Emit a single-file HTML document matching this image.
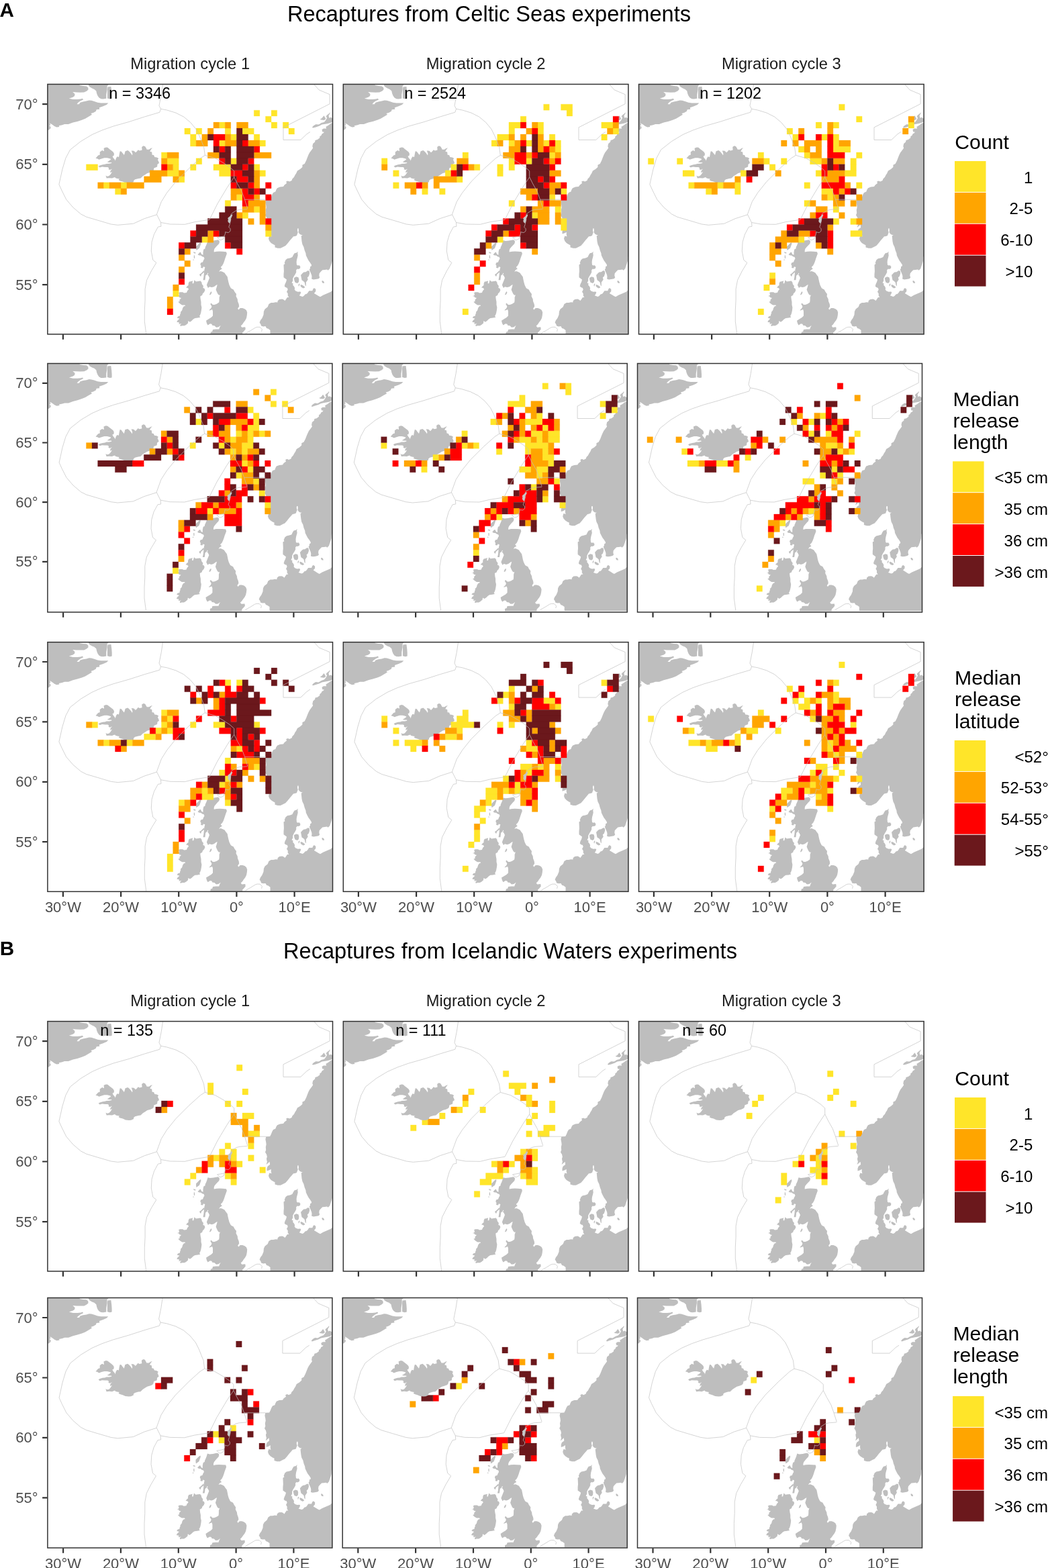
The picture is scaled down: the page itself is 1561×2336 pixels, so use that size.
<!DOCTYPE html>
<html lang="en"><head><meta charset="utf-8"><title>Recaptures from Celtic Seas and Icelandic Waters experiments</title>
<style>html,body{margin:0;padding:0;background:#fff}svg{display:block}text{font-family:"Liberation Sans", Arial, Helvetica, sans-serif}.ax{font-size:22px;fill:#4D4D4D}.st{font-size:23.7px;fill:#1A1A1A}.n{font-size:23.4px;fill:#000}.lt{font-size:30.2px;fill:#000}.ll{font-size:24px;fill:#000}.ti{font-size:32.6px;fill:#000}.tag{font-size:29.6px;font-weight:bold;fill:#000}.tk{stroke:#333;stroke-width:2.2;fill:none}.bd{stroke:#333;stroke-width:1.5;fill:none}.ez{stroke:#C2C2C2;stroke-width:0.7;fill:none}.ld{fill:#BEBEBE}</style></head><body>
<svg xmlns="http://www.w3.org/2000/svg" width="1561" height="2336" viewBox="0 0 1561 2336">
<rect width="1561" height="2336" fill="#fff"/>
<clipPath id="cA11"><rect x="70.9" y="125.5" width="424.6" height="372.4"/></clipPath>
<g clip-path="url(#cA11)">
<path class="ld" d="M70.2,124.1L118.6,124.1L118.6,127L123.7,128.1L128.7,128.5L131.2,130.4L131.6,133.3L129.5,135.4L125.3,137.5L119.5,137.7L113.6,137.5L108.2,137.1L111.5,140.1L111.1,143L108.6,144.7L102.8,146.8L108.6,148.1L115.3,148.1L120.3,147.6L122.8,146.8L124.1,148.5L119.5,150.6L116.1,153.1L114.5,155.2L117.8,155.2L119.5,152.7L123.7,151.4L128.7,150.6L132.8,149.5L136.2,149.7L140.4,151L145.4,152.7L150.4,153.5L157.1,153.5L161.3,153.5L158.8,156L153.7,158.2L147.9,160.3L148.3,162.8L143.7,163.2L142.9,165.7L139.5,167.8L135.4,169.1L137,170.8L132,173.7L127,176.7L122,178.8L115.3,180.9L108.6,182.6L101.9,185.1L96.1,185.1L92.7,186.3L87.7,187.2L88.5,188.9L84.4,189.5L81,188L77.7,185.5L74.3,183.4L75.2,186.3L73.5,187.2L75.6,189.3L75.2,191.4L72.7,193.5L70.2,193.9ZM132,124.1L161.3,124.1L161.3,126.6L159.6,128.3L159.6,133.3L158.3,140.9L158.3,146.8L153.7,147.5L150.4,147.2L147.5,145.5L145.4,142.6L144.1,139.2L143.3,135.4L140.4,132.9L137,131.6L133.7,129.5L132,127.4ZM160.4,129.5L165.4,129.1L166.3,135.9L166.7,141.7L166.7,146.8L163.8,147.5L160,146.4L160,140.9L160,133.3ZM142.5,235.7L146.2,231.5L148.7,230.7L148.7,226.5L152.1,224L155,225.2L154.6,220.7L157.9,219.4L160.4,219.8L162.9,221.9L166.2,224.4L168.7,226.5L170,229L169.5,231.9L167.5,232.7L168.7,235.2L171.2,238.1L171.6,239.8L172.9,235.7L174.5,233.2L177,234L177.9,229L178.7,225.2L180.8,225.7L182.9,228.6L184.9,231.1L185.8,228.2L186.6,225.2L190.4,224L192.9,226.1L195.4,229L197,231.5L197.4,229L195.8,224.4L199.5,224.8L202,227.3L203.7,225.7L205.8,223.2L207.9,224.4L211.6,223.6L211.2,219L213.7,217.3L216.2,218.2L217.9,221.1L218.7,222.7L222,222.7L224.5,221.1L227,220.2L224.9,222.7L223.3,225.7L226.2,226.5L226.6,230.7L229.1,231.1L230.3,234L233.7,234.4L236.2,236.1L234.9,238.1L236.2,240.6L237,243.1L234.5,244.8L234.1,248.5L231.2,249.8L229.5,250.2L228.7,254L227,255.6L223.7,256.9L219.5,258.1L216.2,260.2L212.9,262.3L209.5,265.6L206.2,266L201.2,267.3L199.1,269L199.1,271L195.4,272.7L192,273L187,272.5L182.9,270.6L178.7,269.4L176.6,268.1L177.9,266.5L174.5,266L172,265.2L171.2,264L168.7,264.8L167.1,265.6L162.9,265.2L158.7,265.6L157.5,261.5L159.6,262.7L162.1,262.3L164.1,260.6L165.8,258.1L167.1,256L164.1,257.3L164.6,254.4L167.1,251.5L164.1,253.1L161.6,252.3L162.1,250.2L160.4,249L156.2,249L152.1,248.5L148.7,249.6L146.6,247.7L148.7,246.5L152.9,245.2L156.2,244.8L158.7,244L162.9,243.8L166.2,243.1L166.2,241.9L162.9,241.9L159.6,241.5L162.1,239.8L164.6,238.1L165.4,236.9L162.9,236.1L159.6,235.2L155.4,235.2L151.2,236.5L147.5,237.7L145.4,236.5ZM497.8,182.7L495.7,182.7L492.8,184L488.7,186.9L485.3,189L486.2,191.5L482,191.5L479.5,193.1L480.3,196.5L482.8,196.5L482,198.1L479.5,199.4L478.7,201.5L476.2,203.6L476.2,205.6L472.8,208.1L469.5,209L469.1,211.5L466.2,214L465.3,218.1L466.2,220.6L463.7,224L461.2,227.3L459.5,230.6L457.8,234.8L456.2,238.9L453.7,243.9L450.4,245.7L450.4,249L447,251.9L442.9,254.4L441.2,258.2L439.5,260.7L437.9,264L435.4,266.5L434.5,269L431.2,270.6L428.7,269.4L426.2,270.6L427,273.1L423.7,275.6L422,278.1L417,278.5L412.9,280.2L411.2,283.1L410.4,285.6L407,286.9L405.4,289.8L403.7,294L402.1,296.9L396.2,297.3L395.4,301.5L396.2,305.6L396.6,309L395.8,313.1L396.2,317.3L395,320.6L397.1,323.9L397.9,328.1L397.1,329L397.1,331.5L397.9,334.8L396.6,339L399.6,336.5L401.6,334.8L402.1,339L398.7,341.5L397.5,344.8L397.5,348.6L401.2,347.3L403.7,345.7L403.7,349.8L404.5,352.3L401.2,351.5L400,355.6L401.2,359L403.7,361.9L407,364L409.5,365.2L409.5,368.5L413.7,369.8L417.9,369.8L422,367.7L425.4,366.1L428.7,362.3L432,358.1L434.5,355.2L437,352.3L439.5,351.9L442,351.1L442.9,348.2L443.7,346.5L442.9,343.2L443.3,340.2L444.5,340.2L444.9,343.2L444.5,346.1L446.2,348.6L448.3,349.8L450.8,350.2L448.7,351.5L449.1,355.6L449.5,359.8L450.4,364L452.4,368.1L453.7,373.1L455.4,377.3L455.8,380.6L457.8,384.8L459.5,388.1L462,391.5L464.1,394.8L463.7,396.5L462,397.3L462,399.8L460.8,401.4L461.6,403.9L462.8,406.4L464.1,409.8L464.5,412.3L464.1,415.6L467,416.4L470.3,416L474.5,415.2L476.2,413.5L475.3,410.6L475.7,407.3L477.8,404.8L480.3,402.3L483.7,401.9L487,401.4L488.7,402.7L491.2,400.2L492.4,396.5L493.6,393.1L494.9,389L495.3,382.3L497.8,382.3ZM491.2,167.3L490.3,169L487,171.5L485.7,173.2L487,175.7L485.3,179L482.8,181.9L478.7,183.1L476.2,184.8L474.5,185.6L470.3,185.2L467,187.3L464.9,189.8L466.2,190.6L470.3,189.4L475.3,187.7L479.5,185.6L484.5,184.8L488.7,184L492,183.1L497.8,180.6L497.8,176.5L495.3,176.5L492.8,174.8L490.3,175.7L489.5,172.3L491.6,169ZM476.6,177.7L479.5,176.1L482.4,172.3L484.1,174.8L485.3,177.3L482.8,179L478.7,178.6ZM443.7,374.4L442,376.5L438.7,377.3L437,379.8L435.4,383.1L432,384.4L427.9,385.2L425.4,387.3L423.7,391.5L424.5,393.1L422.5,394.4L422.7,399L422.9,403.9L422.5,408.2L422.5,413.2L427,416.5L426.2,419.8L424.5,423.2L423.7,426.5L425.4,428.1L427.9,429L428.7,431.5L427,434.8L428.7,437.3L428.7,440.6L430.4,443.1L427.9,443.1L426.2,445.6L424.5,448.1L422.5,446.5L420.4,445.6L416.2,446.1L413.7,448.1L413.3,450.6L410.4,450.2L407,451.1L403.7,451.1L400.4,453.1L398.7,457.3L394.6,460.6L392.9,464L392.5,469L390.4,474L387.9,477.3L386.6,480.6L388.3,483.1L389.1,485.6L392.1,486.5L395.4,486L397.1,488.9L399.6,489.8L402.5,491.9L402.5,498.1L497.8,498.1L497.8,432.3L495.7,432.3L492.8,434.8L487,437.3L481.2,439.8L477,442.3L474.5,441.1L471.2,439L467.8,436.9L470.3,434L470.3,430.7L467.8,429L466.2,430.7L465.3,433.2L460.3,433.2L458.7,435.7L457,437.7L454.5,438.6L452.4,441.1L450.4,441.9L445.8,440.2L447.4,438.1L448.3,435.2L447,434.4L443.7,434.8L440.4,433.6L438.7,431.5L439.1,429L437.9,426.5L436.2,424.8L436.6,422.3L434.5,421.5L436.2,418.2L436.2,414.8L437.9,411.5L439.5,409L441.2,405.7L441.2,402.3L442.9,400.6L444.5,401L447,399.8L447.4,397.3L445.8,395.2L443.7,395.6L442,394.8L441.6,390.6L442,387.3L442.9,384L443.7,380.6L443.3,377.3ZM437.9,414L441.2,412.3L444.5,413.2L445.4,416.5L444.9,420.2L442.9,421.9L439.5,420.7L438.3,417.3ZM448.3,409.8L450.4,407.3L452.4,405.6L455.4,405.2L458.7,403.1L460.8,403.9L461.2,407.3L459.9,411.4L457.8,413.5L458.7,416.4L457,418.9L455.8,420.6L455.8,426.5L454.5,424.8L453.7,420.7L452,419L449.5,417.3L448.7,413.2L447.9,409ZM447.9,424L450.4,424.8L453.7,426.9L454.1,428.6L451.6,429.4L448.7,427.7L447.4,425.7ZM444.9,422.7L446.6,422.7L445.4,426.5L444.5,426.1ZM479.5,418.2L481.2,418.2L482.8,420.2L482.8,421.9L480.3,421.5L479.5,419.8ZM309.5,358.1L312.9,359L317.9,358.6L322,357.7L324.5,357.3L326.6,358.6L327,360.7L326.2,363.2L323.7,365.7L321.6,368.1L319.5,370.6L318.7,373.1L318.7,375.6L322.4,374.8L327,374.6L332,374.8L337,375.2L337.9,378.1L336.6,381.5L335.4,384.8L334.1,389L332.9,392.3L331.2,395.6L328.7,398.1L330.8,400.6L327.9,402.3L326.2,404.8L328.7,404L331.2,404.8L334.5,406.4L336.2,408.9L338.7,412.3L339.5,416.4L340.4,420.6L341.6,424.8L343.7,428.9L344.5,429.8L347.8,431.5L349.5,434.8L352,438.1L351.6,441.5L353.7,445.6L354.1,449L355.7,453.1L356.2,456.5L354.1,459.8L355.3,461.5L357.8,459L361.2,459L364.5,460.2L367,462.3L368.2,465.6L367.8,469.8L367,474L365.3,477.3L362.8,480.6L361.2,483.1L358.7,485.6L360.3,487.7L365.3,487.3L365.7,490.6L363.7,493.1L361.2,495.6L361.2,498.5L313.3,498.5L313.7,494.8L316.2,493.9L317,491L321.2,490.6L326.2,490.6L327,488.1L328.7,484.8L325.4,487.3L322,487.7L319.5,485.2L316.2,484.8L315.4,482.7L312.9,482.3L309.5,484.4L307.9,481.5L307,477.7L310.4,475.6L314.5,473.1L317,470.6L317,464L316.2,461.1L311.6,462.7L312,461.5L314.5,459L315.4,456.5L313.3,453.1L314.5,451.5L317,454L319.5,454L322.9,452.7L326.2,450.6L326.6,447.3L326.6,443.1L327.9,439.4L326.2,439.8L324.5,438.1L322.9,434.8L321.6,431.5L322.9,427.3L323.7,424L322,424.8L318.7,427.3L315.4,428.1L312,427.3L309.9,429L307.9,424.8L308.7,422.3L310.4,418.2L312,414L310.4,410.7L308.7,409L310.4,408.1L309.5,406.4L308.3,408.9L306.2,410.6L305.8,414L305.4,417.3L302.5,417.3L303.3,413.1L303.7,408.9L304.1,404.8L304.5,401.5L305.4,398.1L302.9,397.3L302,399.4L299.1,399L299.5,396L298.3,394L299.1,391.5L302,390.6L303.3,387.3L304.5,385.6L303.7,383.1L301.2,382.3L299.1,380.6L297,380.6L294.5,379.4L297,376.5L298.7,375.6L300.4,379L302.5,379.8L302.5,375.6L303.3,371.5L305.4,370.6L305.8,368.1L307,365.7L308.3,362.3ZM297,408.9L299.5,407.3L302,404.8L303.7,403.1L304.1,405.6L302,407.3L300,408.9L299.5,411.4L298.3,411.4ZM292.1,367.3L293.7,365.7L297,362.3L299.1,361.1L299.4,363.2L297.9,367.3L297,369.8L294.5,371.5L292.5,373.1L292.1,370.6ZM287.7,375.6L289.6,375.5L291.6,376.5L291.4,377.5L289.1,377.3ZM288.7,380.6L290,380.6L290.2,384.8L288.9,385ZM287.5,386.5L288.7,386.5L288.7,387.7L287.5,387.7ZM312,439L313.3,435.7L314.9,434L315.4,436.1L314.1,438.6L312.4,439.4ZM289.5,417.3L292,419.4L295.4,419L298.7,418.6L300.4,420.7L300.8,423.2L302.9,426.1L302.4,429L304.5,429.8L305.4,432.3L304.1,435.2L302,437.3L301.2,439.8L298.3,441.5L298.7,445.6L299.5,449.8L299.5,454L300.4,458.1L299.9,462.3L299.1,466.5L297.9,469.8L297,470.6L298.3,472.7L294.5,473.5L290.4,474L287.9,475.6L285.4,478.1L282.9,479.8L280.4,478.1L280,481.5L277.1,484L274.6,485.2L271.2,485.2L268.7,486L268.3,484L270.4,482.3L266.2,482.7L267.1,480.6L263.3,479.8L264.6,477.3L267.5,474.8L263.7,473.5L265,471.5L267.9,470.6L268.3,468.1L269.6,465.6L274.6,464L277.1,464.4L273.7,466L269.6,466.5L268.7,465.2L271.2,462.3L272.1,459L273.7,456.5L276.2,455.6L275.4,454.4L271.2,454.4L267.9,452.3L265.4,449.8L267.5,449L267.5,446.5L270,444L267.1,443.1L266.2,441.5L263.7,441.1L266.2,440.6L267.1,438.1L265.8,436.5L267.9,435.2L272.1,435.2L274.1,436.5L277.9,436.1L279.1,433.2L281.2,430.7L279.6,429L277.1,428.6L278.7,426.5L280.8,424.8L280.4,423.2L281.6,419.8L285.4,419L287,418.2L286.6,422.3L288.3,422.3Z"/><path fill="#FFE529" stroke="#FFE529" stroke-width="0.25" d="M378.25,164.16h8.62v8.96h-8.62zM404.10,164.16h8.62v8.96h-8.62zM395.48,173.13h8.62v8.96h-8.62zM326.55,182.09h8.62v8.96h-8.62zM404.10,182.09h8.62v8.96h-8.62zM421.33,182.09h8.62v8.96h-8.62zM274.86,191.05h8.62v8.96h-8.62zM292.09,191.05h8.62v8.96h-8.62zM335.17,191.05h8.62v8.96h-8.62zM361.02,191.05h17.23v8.96h-17.23zM429.94,191.05h8.62v8.96h-8.62zM283.47,200.02h8.62v8.96h-8.62zM343.78,200.02h8.62v8.96h-8.62zM378.25,200.02h8.62v8.96h-8.62zM283.47,208.98h8.62v8.96h-8.62zM326.55,208.98h8.62v8.96h-8.62zM386.86,208.98h8.62v8.96h-8.62zM240.39,226.91h8.62v8.96h-8.62zM249.01,235.87h17.23v8.96h-17.23zM292.09,235.87h8.62v8.96h-8.62zM343.78,235.87h8.62v8.96h-8.62zM128.38,244.83h17.23v8.96h-17.23zM257.62,244.83h8.62v8.96h-8.62zM283.47,244.83h8.62v8.96h-8.62zM317.94,244.83h25.85v8.96h-25.85zM378.25,244.83h8.62v8.96h-8.62zM249.01,253.80h17.23v8.96h-17.23zM326.55,253.80h17.23v8.96h-17.23zM386.86,253.80h8.62v8.96h-8.62zM266.24,262.76h8.62v8.96h-8.62zM154.23,271.73h8.62v8.96h-8.62zM180.08,271.73h8.62v8.96h-8.62zM171.46,280.69h8.62v8.96h-8.62zM352.40,289.65h8.62v8.96h-8.62zM335.17,298.62h8.62v8.96h-8.62zM378.25,307.58h8.62v8.96h-8.62zM361.02,316.54h8.62v8.96h-8.62zM395.48,343.43h8.62v8.96h-8.62zM300.70,352.40h8.62v8.96h-8.62zM257.62,433.07h8.62v8.96h-8.62z"/><path fill="#FFA500" stroke="#FFA500" stroke-width="0.25" d="M317.94,182.09h8.62v8.96h-8.62zM335.17,182.09h8.62v8.96h-8.62zM352.40,182.09h17.23v8.96h-17.23zM309.32,191.05h8.62v8.96h-8.62zM300.70,200.02h8.62v8.96h-8.62zM335.17,200.02h8.62v8.96h-8.62zM292.09,208.98h17.23v8.96h-17.23zM335.17,208.98h17.23v8.96h-17.23zM369.63,208.98h17.23v8.96h-17.23zM249.01,226.91h17.23v8.96h-17.23zM309.32,226.91h17.23v8.96h-17.23zM378.25,226.91h25.85v8.96h-25.85zM240.39,235.87h8.62v8.96h-8.62zM249.01,244.83h8.62v8.96h-8.62zM223.16,253.80h25.85v8.96h-25.85zM266.24,253.80h8.62v8.96h-8.62zM378.25,253.80h8.62v8.96h-8.62zM214.54,262.76h25.85v8.96h-25.85zM257.62,262.76h8.62v8.96h-8.62zM378.25,262.76h8.62v8.96h-8.62zM145.62,271.73h8.62v8.96h-8.62zM162.85,271.73h17.23v8.96h-17.23zM188.70,271.73h25.85v8.96h-25.85zM378.25,271.73h8.62v8.96h-8.62zM180.08,280.69h8.62v8.96h-8.62zM343.78,280.69h17.23v8.96h-17.23zM343.78,289.65h8.62v8.96h-8.62zM378.25,289.65h8.62v8.96h-8.62zM369.63,298.62h25.85v8.96h-25.85zM361.02,307.58h17.23v8.96h-17.23zM386.86,307.58h8.62v8.96h-8.62zM352.40,316.54h8.62v8.96h-8.62zM386.86,316.54h8.62v8.96h-8.62zM369.63,325.51h8.62v8.96h-8.62zM386.86,325.51h8.62v8.96h-8.62zM395.48,334.47h8.62v8.96h-8.62zM309.32,343.43h8.62v8.96h-8.62zM309.32,352.40h8.62v8.96h-8.62zM274.86,370.32h8.62v8.96h-8.62zM266.24,379.29h8.62v8.96h-8.62zM274.86,388.25h8.62v8.96h-8.62zM266.24,397.21h8.62v8.96h-8.62zM257.62,424.10h8.62v8.96h-8.62zM249.01,442.03h8.62v8.96h-8.62zM249.01,451.00h8.62v8.96h-8.62z"/><path fill="#FF0000" stroke="#FF0000" stroke-width="0.25" d="M317.94,200.02h17.23v8.96h-17.23zM317.94,208.98h8.62v8.96h-8.62zM361.02,208.98h8.62v8.96h-8.62zM326.55,217.94h8.62v8.96h-8.62zM378.25,217.94h8.62v8.96h-8.62zM326.55,235.87h8.62v8.96h-8.62zM369.63,235.87h8.62v8.96h-8.62zM240.39,244.83h8.62v8.96h-8.62zM361.02,244.83h8.62v8.96h-8.62zM343.78,253.80h17.23v8.96h-17.23zM352.40,262.76h17.23v8.96h-17.23zM343.78,271.73h8.62v8.96h-8.62zM369.63,271.73h8.62v8.96h-8.62zM395.48,271.73h8.62v8.96h-8.62zM361.02,280.69h8.62v8.96h-8.62zM378.25,280.69h8.62v8.96h-8.62zM361.02,289.65h17.23v8.96h-17.23zM395.48,289.65h8.62v8.96h-8.62zM361.02,298.62h8.62v8.96h-8.62zM395.48,325.51h8.62v8.96h-8.62zM283.47,343.43h8.62v8.96h-8.62zM317.94,343.43h8.62v8.96h-8.62zM266.24,361.36h8.62v8.96h-8.62zM335.17,361.36h8.62v8.96h-8.62zM352.40,370.32h8.62v8.96h-8.62zM266.24,415.14h8.62v8.96h-8.62zM249.01,459.96h8.62v8.96h-8.62z"/><path fill="#6B181C" stroke="#6B181C" stroke-width="0.25" d="M352.40,191.05h8.62v8.96h-8.62zM309.32,200.02h8.62v8.96h-8.62zM352.40,200.02h17.23v8.96h-17.23zM352.40,208.98h8.62v8.96h-8.62zM317.94,217.94h8.62v8.96h-8.62zM335.17,217.94h8.62v8.96h-8.62zM352.40,217.94h25.85v8.96h-25.85zM326.55,226.91h17.23v8.96h-17.23zM352.40,226.91h25.85v8.96h-25.85zM335.17,235.87h8.62v8.96h-8.62zM352.40,235.87h17.23v8.96h-17.23zM343.78,244.83h17.23v8.96h-17.23zM369.63,244.83h8.62v8.96h-8.62zM361.02,253.80h17.23v8.96h-17.23zM343.78,262.76h8.62v8.96h-8.62zM369.63,262.76h8.62v8.96h-8.62zM352.40,271.73h17.23v8.96h-17.23zM369.63,280.69h8.62v8.96h-8.62zM386.86,280.69h8.62v8.96h-8.62zM335.17,307.58h17.23v8.96h-17.23zM326.55,316.54h25.85v8.96h-25.85zM309.32,325.51h51.70v8.96h-51.70zM292.09,334.47h68.93v8.96h-68.93zM292.09,343.43h17.23v8.96h-17.23zM326.55,343.43h34.46v8.96h-34.46zM283.47,352.40h17.23v8.96h-17.23zM335.17,352.40h25.85v8.96h-25.85zM274.86,361.36h17.23v8.96h-17.23zM343.78,361.36h17.23v8.96h-17.23zM266.24,370.32h8.62v8.96h-8.62zM266.24,406.18h8.62v8.96h-8.62z"/>
<path fill="#C6C8C8" d="M339.2,325L340.8,323.4L342.7,321.9L345,319.4L346.1,319.6L346.1,321.1L345,323.4L344,325.4L343.8,327.7L343.3,330L342.3,332.7L341.2,332.3L339.6,330.4L339.4,328.4L340,326.9Z"/>
<path class="ez" d="M242.8,124L240.3,140.7L237,157.3L239.5,162.3M239.5,162.3L237.8,167.3L215.3,174L192,181.5L168.7,188.1L152,194L137,200.6L120.4,210.6L104.5,223.1L97.9,235.6L92.9,252.2L87.9,274.7L92.1,283.9L98.7,297.2L108.7,308.9L120.4,318.9L128.7,323.2L145.4,328.1L165.3,334L175.3,335.3L198.6,333.2L215.3,325.6L233.6,319.8M239.5,162.3L248.6,164L261.9,168.1L273.6,174L283.6,182.3L291.9,192.3L296.9,202.3L300.3,210.6L303.6,218.9L305.3,231.4M305.3,231.4L298.6,235.6L281.9,250.6L261.9,270.6L248.6,287.2L240.3,300.5L233.6,318.9L233.6,319.8M233.6,319.8L239.5,331.5L239.9,337.3L235.3,338.1L229.5,349L226.1,360.6L225.3,374L227.8,387.3L232.8,391.4L225.3,403.9L218.6,417.3L216.1,430.6L216.1,447.2L215.3,462.2L215.3,478.9L217.8,498M239.5,331.5L253.6,334L275.3,334.3L290.3,330.6L311.9,327.3L312,327.3L323.7,304L328.7,295.5L338.7,278.9L348.7,263.9M305.4,231.4L320.4,235.6L332,242.2L342,248.9L348.7,254.7L348.7,263.9M348.7,263.9L353.7,273.9L360.3,285.6L364.5,297.2L368.6,310.5M364.5,297.2L396.1,297.2M466.1,124L475.2,134L491.1,140.7L491.1,154.8L422,189.8L422,208.4L447.8,208.4L456.9,199.8L461.9,196.5M365.3,497.7L367,496L373.6,492.3L380.4,488.1L382.9,487.3L387.1,487.3L390.4,490.6L389.6,493.9M368.8,311.1L367.7,311.5L356.9,312.3L351.9,313.6L345.4,317.7L343.8,320L343.1,323.1L343.8,326.9L342.3,333.8L340.8,338.4L343.1,340.7L343.1,344.2L340.4,346.5L336.9,346.1L335.8,345.4L335.4,348.4L334.2,351.5L333.5,355.3L330.8,356.9L328.1,357.7L325,355.3L323.5,353.8L328.1,353L333.8,351.9"/>
</g>
<rect class="bd" x="70.9" y="125.5" width="424.6" height="372.4"/>
<path class="tk" d="M93.9,498.3v7.4M180.1,498.3v7.4M266.2,498.3v7.4M352.4,498.3v7.4M438.6,498.3v7.4M70.5,155.2h-7.4M70.5,244.8h-7.4M70.5,334.5h-7.4M70.5,424.1h-7.4"/>
<text class="ax" x="56.5" y="162.7" text-anchor="end">70°</text>
<text class="ax" x="56.5" y="252.3" text-anchor="end">65°</text>
<text class="ax" x="56.5" y="342" text-anchor="end">60°</text>
<text class="ax" x="56.5" y="431.6" text-anchor="end">55°</text>
<text class="st" x="283.2" y="103.2" text-anchor="middle">Migration cycle 1</text>
<text class="n" x="162.3" y="146.7">n = 3346</text>
<clipPath id="cA12"><rect x="511.3" y="125.5" width="424.6" height="372.4"/></clipPath>
<g clip-path="url(#cA12)">
<path class="ld" d="M510.2,124.1L558.6,124.1L558.6,127L563.7,128.1L568.7,128.5L571.2,130.4L571.6,133.3L569.5,135.4L565.3,137.5L559.5,137.7L553.6,137.5L548.2,137.1L551.5,140.1L551.1,143L548.6,144.7L542.8,146.8L548.6,148.1L555.3,148.1L560.3,147.6L562.8,146.8L564.1,148.5L559.5,150.6L556.1,153.1L554.5,155.2L557.8,155.2L559.5,152.7L563.7,151.4L568.7,150.6L572.8,149.5L576.2,149.7L580.4,151L585.4,152.7L590.4,153.5L597.1,153.5L601.3,153.5L598.8,156L593.7,158.2L587.9,160.3L588.3,162.8L583.7,163.2L582.9,165.7L579.5,167.8L575.4,169.1L577,170.8L572,173.7L567,176.7L562,178.8L555.3,180.9L548.6,182.6L541.9,185.1L536.1,185.1L532.7,186.3L527.7,187.2L528.5,188.9L524.4,189.5L521,188L517.7,185.5L514.3,183.4L515.2,186.3L513.5,187.2L515.6,189.3L515.2,191.4L512.7,193.5L510.2,193.9ZM572,124.1L601.3,124.1L601.3,126.6L599.6,128.3L599.6,133.3L598.3,140.9L598.3,146.8L593.7,147.5L590.4,147.2L587.5,145.5L585.4,142.6L584.1,139.2L583.3,135.4L580.4,132.9L577,131.6L573.7,129.5L572,127.4ZM600.4,129.5L605.4,129.1L606.3,135.9L606.7,141.7L606.7,146.8L603.8,147.5L600,146.4L600,140.9L600,133.3ZM582.5,235.7L586.2,231.5L588.7,230.7L588.7,226.5L592.1,224L595,225.2L594.6,220.7L597.9,219.4L600.4,219.8L602.9,221.9L606.2,224.4L608.7,226.5L610,229L609.5,231.9L607.5,232.7L608.7,235.2L611.2,238.1L611.6,239.8L612.9,235.7L614.5,233.2L617,234L617.9,229L618.7,225.2L620.8,225.7L622.9,228.6L624.9,231.1L625.8,228.2L626.6,225.2L630.4,224L632.9,226.1L635.4,229L637,231.5L637.4,229L635.8,224.4L639.5,224.8L642,227.3L643.7,225.7L645.8,223.2L647.9,224.4L651.6,223.6L651.2,219L653.7,217.3L656.2,218.2L657.9,221.1L658.7,222.7L662,222.7L664.5,221.1L667,220.2L664.9,222.7L663.3,225.7L666.2,226.5L666.6,230.7L669.1,231.1L670.3,234L673.7,234.4L676.2,236.1L674.9,238.1L676.2,240.6L677,243.1L674.5,244.8L674.1,248.5L671.2,249.8L669.5,250.2L668.7,254L667,255.6L663.7,256.9L659.5,258.1L656.2,260.2L652.9,262.3L649.5,265.6L646.2,266L641.2,267.3L639.1,269L639.1,271L635.4,272.7L632,273L627,272.5L622.9,270.6L618.7,269.4L616.6,268.1L617.9,266.5L614.5,266L612,265.2L611.2,264L608.7,264.8L607.1,265.6L602.9,265.2L598.7,265.6L597.5,261.5L599.6,262.7L602.1,262.3L604.1,260.6L605.8,258.1L607.1,256L604.1,257.3L604.6,254.4L607.1,251.5L604.1,253.1L601.6,252.3L602.1,250.2L600.4,249L596.2,249L592.1,248.5L588.7,249.6L586.6,247.7L588.7,246.5L592.9,245.2L596.2,244.8L598.7,244L602.9,243.8L606.2,243.1L606.2,241.9L602.9,241.9L599.6,241.5L602.1,239.8L604.6,238.1L605.4,236.9L602.9,236.1L599.6,235.2L595.4,235.2L591.2,236.5L587.5,237.7L585.4,236.5ZM937.8,182.7L935.7,182.7L932.8,184L928.7,186.9L925.3,189L926.2,191.5L922,191.5L919.5,193.1L920.3,196.5L922.8,196.5L922,198.1L919.5,199.4L918.7,201.5L916.2,203.6L916.2,205.6L912.8,208.1L909.5,209L909.1,211.5L906.2,214L905.3,218.1L906.2,220.6L903.7,224L901.2,227.3L899.5,230.6L897.8,234.8L896.2,238.9L893.7,243.9L890.4,245.7L890.4,249L887,251.9L882.9,254.4L881.2,258.2L879.5,260.7L877.9,264L875.4,266.5L874.5,269L871.2,270.6L868.7,269.4L866.2,270.6L867,273.1L863.7,275.6L862,278.1L857,278.5L852.9,280.2L851.2,283.1L850.4,285.6L847,286.9L845.4,289.8L843.7,294L842.1,296.9L836.2,297.3L835.4,301.5L836.2,305.6L836.6,309L835.8,313.1L836.2,317.3L835,320.6L837.1,323.9L837.9,328.1L837.1,329L837.1,331.5L837.9,334.8L836.6,339L839.6,336.5L841.6,334.8L842.1,339L838.7,341.5L837.5,344.8L837.5,348.6L841.2,347.3L843.7,345.7L843.7,349.8L844.5,352.3L841.2,351.5L840,355.6L841.2,359L843.7,361.9L847,364L849.5,365.2L849.5,368.5L853.7,369.8L857.9,369.8L862,367.7L865.4,366.1L868.7,362.3L872,358.1L874.5,355.2L877,352.3L879.5,351.9L882,351.1L882.9,348.2L883.7,346.5L882.9,343.2L883.3,340.2L884.5,340.2L884.9,343.2L884.5,346.1L886.2,348.6L888.3,349.8L890.8,350.2L888.7,351.5L889.1,355.6L889.5,359.8L890.4,364L892.4,368.1L893.7,373.1L895.4,377.3L895.8,380.6L897.8,384.8L899.5,388.1L902,391.5L904.1,394.8L903.7,396.5L902,397.3L902,399.8L900.8,401.4L901.6,403.9L902.8,406.4L904.1,409.8L904.5,412.3L904.1,415.6L907,416.4L910.3,416L914.5,415.2L916.2,413.5L915.3,410.6L915.7,407.3L917.8,404.8L920.3,402.3L923.7,401.9L927,401.4L928.7,402.7L931.2,400.2L932.4,396.5L933.6,393.1L934.9,389L935.3,382.3L937.8,382.3ZM931.2,167.3L930.3,169L927,171.5L925.7,173.2L927,175.7L925.3,179L922.8,181.9L918.7,183.1L916.2,184.8L914.5,185.6L910.3,185.2L907,187.3L904.9,189.8L906.2,190.6L910.3,189.4L915.3,187.7L919.5,185.6L924.5,184.8L928.7,184L932,183.1L937.8,180.6L937.8,176.5L935.3,176.5L932.8,174.8L930.3,175.7L929.5,172.3L931.6,169ZM916.6,177.7L919.5,176.1L922.4,172.3L924.1,174.8L925.3,177.3L922.8,179L918.7,178.6ZM883.7,374.4L882,376.5L878.7,377.3L877,379.8L875.4,383.1L872,384.4L867.9,385.2L865.4,387.3L863.7,391.5L864.5,393.1L862.5,394.4L862.7,399L862.9,403.9L862.5,408.2L862.5,413.2L867,416.5L866.2,419.8L864.5,423.2L863.7,426.5L865.4,428.1L867.9,429L868.7,431.5L867,434.8L868.7,437.3L868.7,440.6L870.4,443.1L867.9,443.1L866.2,445.6L864.5,448.1L862.5,446.5L860.4,445.6L856.2,446.1L853.7,448.1L853.3,450.6L850.4,450.2L847,451.1L843.7,451.1L840.4,453.1L838.7,457.3L834.6,460.6L832.9,464L832.5,469L830.4,474L827.9,477.3L826.6,480.6L828.3,483.1L829.1,485.6L832.1,486.5L835.4,486L837.1,488.9L839.6,489.8L842.5,491.9L842.5,498.1L937.8,498.1L937.8,432.3L935.7,432.3L932.8,434.8L927,437.3L921.2,439.8L917,442.3L914.5,441.1L911.2,439L907.8,436.9L910.3,434L910.3,430.7L907.8,429L906.2,430.7L905.3,433.2L900.3,433.2L898.7,435.7L897,437.7L894.5,438.6L892.4,441.1L890.4,441.9L885.8,440.2L887.4,438.1L888.3,435.2L887,434.4L883.7,434.8L880.4,433.6L878.7,431.5L879.1,429L877.9,426.5L876.2,424.8L876.6,422.3L874.5,421.5L876.2,418.2L876.2,414.8L877.9,411.5L879.5,409L881.2,405.7L881.2,402.3L882.9,400.6L884.5,401L887,399.8L887.4,397.3L885.8,395.2L883.7,395.6L882,394.8L881.6,390.6L882,387.3L882.9,384L883.7,380.6L883.3,377.3ZM877.9,414L881.2,412.3L884.5,413.2L885.4,416.5L884.9,420.2L882.9,421.9L879.5,420.7L878.3,417.3ZM888.3,409.8L890.4,407.3L892.4,405.6L895.4,405.2L898.7,403.1L900.8,403.9L901.2,407.3L899.9,411.4L897.8,413.5L898.7,416.4L897,418.9L895.8,420.6L895.8,426.5L894.5,424.8L893.7,420.7L892,419L889.5,417.3L888.7,413.2L887.9,409ZM887.9,424L890.4,424.8L893.7,426.9L894.1,428.6L891.6,429.4L888.7,427.7L887.4,425.7ZM884.9,422.7L886.6,422.7L885.4,426.5L884.5,426.1ZM919.5,418.2L921.2,418.2L922.8,420.2L922.8,421.9L920.3,421.5L919.5,419.8ZM749.5,358.1L752.9,359L757.9,358.6L762,357.7L764.5,357.3L766.6,358.6L767,360.7L766.2,363.2L763.7,365.7L761.6,368.1L759.5,370.6L758.7,373.1L758.7,375.6L762.4,374.8L767,374.6L772,374.8L777,375.2L777.9,378.1L776.6,381.5L775.4,384.8L774.1,389L772.9,392.3L771.2,395.6L768.7,398.1L770.8,400.6L767.9,402.3L766.2,404.8L768.7,404L771.2,404.8L774.5,406.4L776.2,408.9L778.7,412.3L779.5,416.4L780.4,420.6L781.6,424.8L783.7,428.9L784.5,429.8L787.8,431.5L789.5,434.8L792,438.1L791.6,441.5L793.7,445.6L794.1,449L795.7,453.1L796.2,456.5L794.1,459.8L795.3,461.5L797.8,459L801.2,459L804.5,460.2L807,462.3L808.2,465.6L807.8,469.8L807,474L805.3,477.3L802.8,480.6L801.2,483.1L798.7,485.6L800.3,487.7L805.3,487.3L805.7,490.6L803.7,493.1L801.2,495.6L801.2,498.5L753.3,498.5L753.7,494.8L756.2,493.9L757,491L761.2,490.6L766.2,490.6L767,488.1L768.7,484.8L765.4,487.3L762,487.7L759.5,485.2L756.2,484.8L755.4,482.7L752.9,482.3L749.5,484.4L747.9,481.5L747,477.7L750.4,475.6L754.5,473.1L757,470.6L757,464L756.2,461.1L751.6,462.7L752,461.5L754.5,459L755.4,456.5L753.3,453.1L754.5,451.5L757,454L759.5,454L762.9,452.7L766.2,450.6L766.6,447.3L766.6,443.1L767.9,439.4L766.2,439.8L764.5,438.1L762.9,434.8L761.6,431.5L762.9,427.3L763.7,424L762,424.8L758.7,427.3L755.4,428.1L752,427.3L749.9,429L747.9,424.8L748.7,422.3L750.4,418.2L752,414L750.4,410.7L748.7,409L750.4,408.1L749.5,406.4L748.3,408.9L746.2,410.6L745.8,414L745.4,417.3L742.5,417.3L743.3,413.1L743.7,408.9L744.1,404.8L744.5,401.5L745.4,398.1L742.9,397.3L742,399.4L739.1,399L739.5,396L738.3,394L739.1,391.5L742,390.6L743.3,387.3L744.5,385.6L743.7,383.1L741.2,382.3L739.1,380.6L737,380.6L734.5,379.4L737,376.5L738.7,375.6L740.4,379L742.5,379.8L742.5,375.6L743.3,371.5L745.4,370.6L745.8,368.1L747,365.7L748.3,362.3ZM737,408.9L739.5,407.3L742,404.8L743.7,403.1L744.1,405.6L742,407.3L740,408.9L739.5,411.4L738.3,411.4ZM732.1,367.3L733.7,365.7L737,362.3L739.1,361.1L739.4,363.2L737.9,367.3L737,369.8L734.5,371.5L732.5,373.1L732.1,370.6ZM727.7,375.6L729.6,375.5L731.6,376.5L731.4,377.5L729.1,377.3ZM728.7,380.6L730,380.6L730.2,384.8L728.9,385ZM727.5,386.5L728.7,386.5L728.7,387.7L727.5,387.7ZM752,439L753.3,435.7L754.9,434L755.4,436.1L754.1,438.6L752.4,439.4ZM729.5,417.3L732,419.4L735.4,419L738.7,418.6L740.4,420.7L740.8,423.2L742.9,426.1L742.4,429L744.5,429.8L745.4,432.3L744.1,435.2L742,437.3L741.2,439.8L738.3,441.5L738.7,445.6L739.5,449.8L739.5,454L740.4,458.1L739.9,462.3L739.1,466.5L737.9,469.8L737,470.6L738.3,472.7L734.5,473.5L730.4,474L727.9,475.6L725.4,478.1L722.9,479.8L720.4,478.1L720,481.5L717.1,484L714.6,485.2L711.2,485.2L708.7,486L708.3,484L710.4,482.3L706.2,482.7L707.1,480.6L703.3,479.8L704.6,477.3L707.5,474.8L703.7,473.5L705,471.5L707.9,470.6L708.3,468.1L709.6,465.6L714.6,464L717.1,464.4L713.7,466L709.6,466.5L708.7,465.2L711.2,462.3L712.1,459L713.7,456.5L716.2,455.6L715.4,454.4L711.2,454.4L707.9,452.3L705.4,449.8L707.5,449L707.5,446.5L710,444L707.1,443.1L706.2,441.5L703.7,441.1L706.2,440.6L707.1,438.1L705.8,436.5L707.9,435.2L712.1,435.2L714.1,436.5L717.9,436.1L719.1,433.2L721.2,430.7L719.6,429L717.1,428.6L718.7,426.5L720.8,424.8L720.4,423.2L721.6,419.8L725.4,419L727,418.2L726.6,422.3L728.3,422.3Z"/><path fill="#FFE529" stroke="#FFE529" stroke-width="0.25" d="M809.63,155.20h8.62v8.96h-8.62zM835.48,155.20h17.23v8.96h-17.23zM844.10,164.16h8.62v8.96h-8.62zM775.17,173.13h8.62v8.96h-8.62zM757.94,182.09h17.23v8.96h-17.23zM801.02,182.09h8.62v8.96h-8.62zM895.79,182.09h17.23v8.96h-17.23zM757.94,191.05h8.62v8.96h-8.62zM801.02,191.05h8.62v8.96h-8.62zM913.02,191.05h8.62v8.96h-8.62zM740.70,200.02h17.23v8.96h-17.23zM818.25,200.02h8.62v8.96h-8.62zM895.79,200.02h8.62v8.96h-8.62zM732.09,208.98h8.62v8.96h-8.62zM757.94,208.98h8.62v8.96h-8.62zM783.78,208.98h8.62v8.96h-8.62zM809.63,208.98h8.62v8.96h-8.62zM826.86,208.98h8.62v8.96h-8.62zM826.86,217.94h8.62v8.96h-8.62zM689.01,226.91h8.62v8.96h-8.62zM818.25,226.91h8.62v8.96h-8.62zM568.38,235.87h8.62v8.96h-8.62zM757.94,235.87h8.62v8.96h-8.62zM783.78,235.87h8.62v8.96h-8.62zM671.78,244.83h8.62v8.96h-8.62zM706.24,244.83h8.62v8.96h-8.62zM740.70,244.83h8.62v8.96h-8.62zM757.94,244.83h8.62v8.96h-8.62zM585.62,253.80h8.62v8.96h-8.62zM663.16,253.80h8.62v8.96h-8.62zM740.70,253.80h8.62v8.96h-8.62zM680.39,262.76h8.62v8.96h-8.62zM585.62,271.73h8.62v8.96h-8.62zM628.70,280.69h8.62v8.96h-8.62zM654.54,280.69h8.62v8.96h-8.62zM835.48,280.69h8.62v8.96h-8.62zM818.25,289.65h8.62v8.96h-8.62zM757.94,298.62h8.62v8.96h-8.62zM826.86,307.58h8.62v8.96h-8.62zM792.40,316.54h8.62v8.96h-8.62zM835.48,325.51h8.62v8.96h-8.62zM835.48,334.47h8.62v8.96h-8.62zM740.70,352.40h8.62v8.96h-8.62zM689.01,459.96h8.62v8.96h-8.62z"/><path fill="#FFA500" stroke="#FFA500" stroke-width="0.25" d="M792.40,182.09h8.62v8.96h-8.62zM913.02,182.09h8.62v8.96h-8.62zM783.78,191.05h8.62v8.96h-8.62zM904.41,191.05h8.62v8.96h-8.62zM757.94,200.02h8.62v8.96h-8.62zM775.17,200.02h8.62v8.96h-8.62zM801.02,200.02h8.62v8.96h-8.62zM740.70,208.98h8.62v8.96h-8.62zM766.55,208.98h8.62v8.96h-8.62zM801.02,208.98h8.62v8.96h-8.62zM757.94,217.94h17.23v8.96h-17.23zM801.02,217.94h8.62v8.96h-8.62zM818.25,217.94h8.62v8.96h-8.62zM749.32,226.91h17.23v8.96h-17.23zM783.78,226.91h8.62v8.96h-8.62zM826.86,226.91h8.62v8.96h-8.62zM680.39,235.87h17.23v8.96h-17.23zM818.25,235.87h8.62v8.96h-8.62zM568.38,244.83h8.62v8.96h-8.62zM697.62,244.83h8.62v8.96h-8.62zM818.25,253.80h17.23v8.96h-17.23zM645.93,262.76h34.46v8.96h-34.46zM602.85,271.73h17.23v8.96h-17.23zM628.70,271.73h8.62v8.96h-8.62zM645.93,271.73h8.62v8.96h-8.62zM818.25,271.73h17.23v8.96h-17.23zM611.46,280.69h8.62v8.96h-8.62zM775.17,280.69h25.85v8.96h-25.85zM818.25,280.69h8.62v8.96h-8.62zM783.78,289.65h8.62v8.96h-8.62zM801.02,298.62h8.62v8.96h-8.62zM818.25,298.62h17.23v8.96h-17.23zM775.17,307.58h8.62v8.96h-8.62zM792.40,307.58h25.85v8.96h-25.85zM801.02,316.54h17.23v8.96h-17.23zM826.86,316.54h8.62v8.96h-8.62zM801.02,325.51h17.23v8.96h-17.23zM826.86,325.51h8.62v8.96h-8.62zM749.32,343.43h8.62v8.96h-8.62zM723.47,361.36h8.62v8.96h-8.62zM792.40,370.32h8.62v8.96h-8.62zM706.24,379.29h8.62v8.96h-8.62zM706.24,406.18h8.62v8.96h-8.62zM706.24,415.14h8.62v8.96h-8.62z"/><path fill="#FF0000" stroke="#FF0000" stroke-width="0.25" d="M913.02,173.13h8.62v8.96h-8.62zM775.17,182.09h8.62v8.96h-8.62zM792.40,191.05h8.62v8.96h-8.62zM775.17,208.98h8.62v8.96h-8.62zM818.25,208.98h8.62v8.96h-8.62zM809.63,217.94h8.62v8.96h-8.62zM766.55,226.91h17.23v8.96h-17.23zM792.40,226.91h8.62v8.96h-8.62zM766.55,235.87h17.23v8.96h-17.23zM809.63,235.87h8.62v8.96h-8.62zM826.86,235.87h8.62v8.96h-8.62zM689.01,244.83h8.62v8.96h-8.62zM818.25,244.83h8.62v8.96h-8.62zM671.78,253.80h8.62v8.96h-8.62zM801.02,262.76h8.62v8.96h-8.62zM818.25,262.76h8.62v8.96h-8.62zM620.08,271.73h8.62v8.96h-8.62zM809.63,271.73h8.62v8.96h-8.62zM835.48,271.73h8.62v8.96h-8.62zM792.40,289.65h8.62v8.96h-8.62zM835.48,289.65h8.62v8.96h-8.62zM809.63,298.62h8.62v8.96h-8.62zM775.17,316.54h8.62v8.96h-8.62zM749.32,325.51h8.62v8.96h-8.62zM732.09,334.47h8.62v8.96h-8.62zM766.55,334.47h8.62v8.96h-8.62zM792.40,334.47h8.62v8.96h-8.62zM723.47,343.43h8.62v8.96h-8.62zM757.94,343.43h17.23v8.96h-17.23zM775.17,361.36h8.62v8.96h-8.62zM714.86,388.25h8.62v8.96h-8.62zM706.24,397.21h8.62v8.96h-8.62zM697.62,424.10h8.62v8.96h-8.62z"/><path fill="#6B181C" stroke="#6B181C" stroke-width="0.25" d="M792.40,200.02h8.62v8.96h-8.62zM792.40,208.98h8.62v8.96h-8.62zM775.17,217.94h8.62v8.96h-8.62zM792.40,217.94h8.62v8.96h-8.62zM801.02,226.91h17.23v8.96h-17.23zM792.40,235.87h17.23v8.96h-17.23zM680.39,244.83h8.62v8.96h-8.62zM783.78,244.83h34.46v8.96h-34.46zM680.39,253.80h8.62v8.96h-8.62zM783.78,253.80h34.46v8.96h-34.46zM783.78,262.76h17.23v8.96h-17.23zM809.63,262.76h8.62v8.96h-8.62zM783.78,271.73h25.85v8.96h-25.85zM801.02,280.69h17.23v8.96h-17.23zM826.86,280.69h8.62v8.96h-8.62zM801.02,289.65h17.23v8.96h-17.23zM783.78,307.58h8.62v8.96h-8.62zM766.55,316.54h8.62v8.96h-8.62zM783.78,316.54h8.62v8.96h-8.62zM757.94,325.51h43.08v8.96h-43.08zM740.70,334.47h25.85v8.96h-25.85zM775.17,334.47h17.23v8.96h-17.23zM732.09,343.43h17.23v8.96h-17.23zM775.17,343.43h25.85v8.96h-25.85zM723.47,352.40h17.23v8.96h-17.23zM775.17,352.40h25.85v8.96h-25.85zM714.86,361.36h8.62v8.96h-8.62zM783.78,361.36h17.23v8.96h-17.23zM706.24,370.32h17.23v8.96h-17.23z"/>
<path fill="#C6C8C8" d="M779.2,325L780.8,323.4L782.7,321.9L785,319.4L786.1,319.6L786.1,321.1L785,323.4L784,325.4L783.8,327.7L783.3,330L782.3,332.7L781.2,332.3L779.6,330.4L779.4,328.4L780,326.9Z"/>
<path class="ez" d="M682.8,124L680.3,140.7L677,157.3L679.5,162.3M679.5,162.3L677.8,167.3L655.3,174L632,181.5L608.7,188.1L592,194L577,200.6L560.4,210.6L544.5,223.1L537.9,235.6L532.9,252.2L527.9,274.7L532.1,283.9L538.7,297.2L548.7,308.9L560.4,318.9L568.7,323.2L585.4,328.1L605.3,334L615.3,335.3L638.6,333.2L655.3,325.6L673.6,319.8M679.5,162.3L688.6,164L701.9,168.1L713.6,174L723.6,182.3L731.9,192.3L736.9,202.3L740.3,210.6L743.6,218.9L745.3,231.4M745.3,231.4L738.6,235.6L721.9,250.6L701.9,270.6L688.6,287.2L680.3,300.5L673.6,318.9L673.6,319.8M673.6,319.8L679.5,331.5L679.9,337.3L675.3,338.1L669.5,349L666.1,360.6L665.3,374L667.8,387.3L672.8,391.4L665.3,403.9L658.6,417.3L656.1,430.6L656.1,447.2L655.3,462.2L655.3,478.9L657.8,498M679.5,331.5L693.6,334L715.3,334.3L730.3,330.6L751.9,327.3L752,327.3L763.7,304L768.7,295.5L778.7,278.9L788.7,263.9M745.4,231.4L760.4,235.6L772,242.2L782,248.9L788.7,254.7L788.7,263.9M788.7,263.9L793.7,273.9L800.3,285.6L804.5,297.2L808.6,310.5M804.5,297.2L836.1,297.2M906.1,124L915.2,134L931.1,140.7L931.1,154.8L862,189.8L862,208.4L887.8,208.4L896.9,199.8L901.9,196.5M805.3,497.7L807,496L813.6,492.3L820.4,488.1L822.9,487.3L827.1,487.3L830.4,490.6L829.6,493.9M808.8,311.1L807.7,311.5L796.9,312.3L791.9,313.6L785.4,317.7L783.8,320L783.1,323.1L783.8,326.9L782.3,333.8L780.8,338.4L783.1,340.7L783.1,344.2L780.4,346.5L776.9,346.1L775.8,345.4L775.4,348.4L774.2,351.5L773.5,355.3L770.8,356.9L768.1,357.7L765,355.3L763.5,353.8L768.1,353L773.8,351.9"/>
</g>
<rect class="bd" x="511.3" y="125.5" width="424.6" height="372.4"/>
<path class="tk" d="M533.9,498.3v7.4M620.1,498.3v7.4M706.2,498.3v7.4M792.4,498.3v7.4M878.6,498.3v7.4"/>
<text class="st" x="723.6" y="103.2" text-anchor="middle">Migration cycle 2</text>
<text class="n" x="602.3" y="146.7">n = 2524</text>
<clipPath id="cA13"><rect x="951.5" y="125.5" width="424.6" height="372.4"/></clipPath>
<g clip-path="url(#cA13)">
<path class="ld" d="M950.2,124.1L998.6,124.1L998.6,127L1003.7,128.1L1008.7,128.5L1011.2,130.4L1011.6,133.3L1009.5,135.4L1005.3,137.5L999.5,137.7L993.6,137.5L988.2,137.1L991.5,140.1L991.1,143L988.6,144.7L982.8,146.8L988.6,148.1L995.3,148.1L1000.3,147.6L1002.8,146.8L1004.1,148.5L999.5,150.6L996.1,153.1L994.5,155.2L997.8,155.2L999.5,152.7L1003.7,151.4L1008.7,150.6L1012.8,149.5L1016.2,149.7L1020.4,151L1025.4,152.7L1030.4,153.5L1037.1,153.5L1041.3,153.5L1038.8,156L1033.7,158.2L1027.9,160.3L1028.3,162.8L1023.7,163.2L1022.9,165.7L1019.5,167.8L1015.4,169.1L1017,170.8L1012,173.7L1007,176.7L1002,178.8L995.3,180.9L988.6,182.6L981.9,185.1L976.1,185.1L972.7,186.3L967.7,187.2L968.5,188.9L964.4,189.5L961,188L957.7,185.5L954.3,183.4L955.2,186.3L953.5,187.2L955.6,189.3L955.2,191.4L952.7,193.5L950.2,193.9ZM1012,124.1L1041.3,124.1L1041.3,126.6L1039.6,128.3L1039.6,133.3L1038.3,140.9L1038.3,146.8L1033.7,147.5L1030.4,147.2L1027.5,145.5L1025.4,142.6L1024.1,139.2L1023.3,135.4L1020.4,132.9L1017,131.6L1013.7,129.5L1012,127.4ZM1040.4,129.5L1045.4,129.1L1046.3,135.9L1046.7,141.7L1046.7,146.8L1043.8,147.5L1040,146.4L1040,140.9L1040,133.3ZM1022.5,235.7L1026.2,231.5L1028.7,230.7L1028.7,226.5L1032.1,224L1035,225.2L1034.6,220.7L1037.9,219.4L1040.4,219.8L1042.9,221.9L1046.2,224.4L1048.7,226.5L1050,229L1049.5,231.9L1047.5,232.7L1048.7,235.2L1051.2,238.1L1051.6,239.8L1052.9,235.7L1054.5,233.2L1057,234L1057.9,229L1058.7,225.2L1060.8,225.7L1062.9,228.6L1065,231.1L1065.8,228.2L1066.6,225.2L1070.4,224L1072.9,226.1L1075.4,229L1077,231.5L1077.4,229L1075.8,224.4L1079.5,224.8L1082,227.3L1083.7,225.7L1085.8,223.2L1087.9,224.4L1091.6,223.6L1091.2,219L1093.7,217.3L1096.2,218.2L1097.9,221.1L1098.7,222.7L1102,222.7L1104.5,221.1L1107,220.2L1104.9,222.7L1103.3,225.7L1106.2,226.5L1106.6,230.7L1109.1,231.1L1110.3,234L1113.7,234.4L1116.2,236.1L1114.9,238.1L1116.2,240.6L1117,243.1L1114.5,244.8L1114.1,248.5L1111.2,249.8L1109.5,250.2L1108.7,254L1107,255.6L1103.7,256.9L1099.5,258.1L1096.2,260.2L1092.9,262.3L1089.5,265.6L1086.2,266L1081.2,267.3L1079.1,269L1079.1,271L1075.4,272.7L1072,273L1067,272.5L1062.9,270.6L1058.7,269.4L1056.6,268.1L1057.9,266.5L1054.5,266L1052,265.2L1051.2,264L1048.7,264.8L1047.1,265.6L1042.9,265.2L1038.7,265.6L1037.5,261.5L1039.6,262.7L1042.1,262.3L1044.1,260.6L1045.8,258.1L1047.1,256L1044.1,257.3L1044.6,254.4L1047.1,251.5L1044.1,253.1L1041.6,252.3L1042.1,250.2L1040.4,249L1036.2,249L1032.1,248.5L1028.7,249.6L1026.6,247.7L1028.7,246.5L1032.9,245.2L1036.2,244.8L1038.7,244L1042.9,243.8L1046.2,243.1L1046.2,241.9L1042.9,241.9L1039.6,241.5L1042.1,239.8L1044.6,238.1L1045.4,236.9L1042.9,236.1L1039.6,235.2L1035.4,235.2L1031.2,236.5L1027.5,237.7L1025.4,236.5ZM1377.8,182.7L1375.7,182.7L1372.8,184L1368.7,186.9L1365.3,189L1366.2,191.5L1362,191.5L1359.5,193.1L1360.3,196.5L1362.8,196.5L1362,198.1L1359.5,199.4L1358.7,201.5L1356.2,203.6L1356.2,205.6L1352.8,208.1L1349.5,209L1349.1,211.5L1346.2,214L1345.3,218.1L1346.2,220.6L1343.7,224L1341.2,227.3L1339.5,230.6L1337.8,234.8L1336.2,238.9L1333.7,243.9L1330.4,245.7L1330.4,249L1327,251.9L1322.9,254.4L1321.2,258.2L1319.5,260.7L1317.9,264L1315.4,266.5L1314.5,269L1311.2,270.6L1308.7,269.4L1306.2,270.6L1307,273.1L1303.7,275.6L1302,278.1L1297,278.5L1292.9,280.2L1291.2,283.1L1290.4,285.6L1287,286.9L1285.4,289.8L1283.7,294L1282.1,296.9L1276.2,297.3L1275.4,301.5L1276.2,305.6L1276.6,309L1275.8,313.1L1276.2,317.3L1275,320.6L1277.1,323.9L1277.9,328.1L1277.1,329L1277.1,331.5L1277.9,334.8L1276.6,339L1279.6,336.5L1281.6,334.8L1282.1,339L1278.7,341.5L1277.5,344.8L1277.5,348.6L1281.2,347.3L1283.7,345.7L1283.7,349.8L1284.5,352.3L1281.2,351.5L1280,355.6L1281.2,359L1283.7,361.9L1287,364L1289.5,365.2L1289.5,368.5L1293.7,369.8L1297.9,369.8L1302,367.7L1305.4,366.1L1308.7,362.3L1312,358.1L1314.5,355.2L1317,352.3L1319.5,351.9L1322,351.1L1322.9,348.2L1323.7,346.5L1322.9,343.2L1323.3,340.2L1324.5,340.2L1324.9,343.2L1324.5,346.1L1326.2,348.6L1328.3,349.8L1330.8,350.2L1328.7,351.5L1329.1,355.6L1329.5,359.8L1330.4,364L1332.4,368.1L1333.7,373.1L1335.4,377.3L1335.8,380.6L1337.8,384.8L1339.5,388.1L1342,391.5L1344.1,394.8L1343.7,396.5L1342,397.3L1342,399.8L1340.8,401.4L1341.6,403.9L1342.8,406.4L1344.1,409.8L1344.5,412.3L1344.1,415.6L1347,416.4L1350.3,416L1354.5,415.2L1356.2,413.5L1355.3,410.6L1355.8,407.3L1357.8,404.8L1360.3,402.3L1363.7,401.9L1367,401.4L1368.7,402.7L1371.2,400.2L1372.4,396.5L1373.7,393.1L1374.9,389L1375.3,382.3L1377.8,382.3ZM1371.2,167.3L1370.3,169L1367,171.5L1365.7,173.2L1367,175.7L1365.3,179L1362.8,181.9L1358.7,183.1L1356.2,184.8L1354.5,185.6L1350.3,185.2L1347,187.3L1344.9,189.8L1346.2,190.6L1350.3,189.4L1355.3,187.7L1359.5,185.6L1364.5,184.8L1368.7,184L1372,183.1L1377.8,180.6L1377.8,176.5L1375.3,176.5L1372.8,174.8L1370.3,175.7L1369.5,172.3L1371.6,169ZM1356.6,177.7L1359.5,176.1L1362.4,172.3L1364.1,174.8L1365.3,177.3L1362.8,179L1358.7,178.6ZM1323.7,374.4L1322,376.5L1318.7,377.3L1317,379.8L1315.4,383.1L1312,384.4L1307.9,385.2L1305.4,387.3L1303.7,391.5L1304.5,393.1L1302.5,394.4L1302.7,399L1302.9,403.9L1302.5,408.2L1302.5,413.2L1307,416.5L1306.2,419.8L1304.5,423.2L1303.7,426.5L1305.4,428.1L1307.9,429L1308.7,431.5L1307,434.8L1308.7,437.3L1308.7,440.6L1310.4,443.1L1307.9,443.1L1306.2,445.6L1304.5,448.1L1302.5,446.5L1300.4,445.6L1296.2,446.1L1293.7,448.1L1293.3,450.6L1290.4,450.2L1287,451.1L1283.7,451.1L1280.4,453.1L1278.7,457.3L1274.6,460.6L1272.9,464L1272.5,469L1270.4,474L1267.9,477.3L1266.6,480.6L1268.3,483.1L1269.1,485.6L1272.1,486.5L1275.4,486L1277.1,488.9L1279.6,489.8L1282.5,491.9L1282.5,498.1L1377.8,498.1L1377.8,432.3L1375.7,432.3L1372.8,434.8L1367,437.3L1361.2,439.8L1357,442.3L1354.5,441.1L1351.2,439L1347.8,436.9L1350.3,434L1350.3,430.7L1347.8,429L1346.2,430.7L1345.3,433.2L1340.3,433.2L1338.7,435.7L1337,437.7L1334.5,438.6L1332.4,441.1L1330.4,441.9L1325.8,440.2L1327.4,438.1L1328.3,435.2L1327,434.4L1323.7,434.8L1320.4,433.6L1318.7,431.5L1319.1,429L1317.9,426.5L1316.2,424.8L1316.6,422.3L1314.5,421.5L1316.2,418.2L1316.2,414.8L1317.9,411.5L1319.5,409L1321.2,405.7L1321.2,402.3L1322.9,400.6L1324.5,401L1327,399.8L1327.4,397.3L1325.8,395.2L1323.7,395.6L1322,394.8L1321.6,390.6L1322,387.3L1322.9,384L1323.7,380.6L1323.3,377.3ZM1317.9,414L1321.2,412.3L1324.5,413.2L1325.4,416.5L1324.9,420.2L1322.9,421.9L1319.5,420.7L1318.3,417.3ZM1328.3,409.8L1330.4,407.3L1332.4,405.6L1335.4,405.2L1338.7,403.1L1340.8,403.9L1341.2,407.3L1339.9,411.4L1337.8,413.5L1338.7,416.4L1337,418.9L1335.8,420.6L1335.8,426.5L1334.5,424.8L1333.7,420.7L1332,419L1329.5,417.3L1328.7,413.2L1327.9,409ZM1327.9,424L1330.4,424.8L1333.7,426.9L1334.1,428.6L1331.6,429.4L1328.7,427.7L1327.4,425.7ZM1324.9,422.7L1326.6,422.7L1325.4,426.5L1324.5,426.1ZM1359.5,418.2L1361.2,418.2L1362.8,420.2L1362.8,421.9L1360.3,421.5L1359.5,419.8ZM1189.5,358.1L1192.9,359L1197.9,358.6L1202,357.7L1204.5,357.3L1206.6,358.6L1207,360.7L1206.2,363.2L1203.7,365.7L1201.6,368.1L1199.5,370.6L1198.7,373.1L1198.7,375.6L1202.4,374.8L1207,374.6L1212,374.8L1217,375.2L1217.9,378.1L1216.6,381.5L1215.4,384.8L1214.1,389L1212.9,392.3L1211.2,395.6L1208.7,398.1L1210.8,400.6L1207.9,402.3L1206.2,404.8L1208.7,404L1211.2,404.8L1214.5,406.4L1216.2,408.9L1218.7,412.3L1219.5,416.4L1220.4,420.6L1221.6,424.8L1223.7,428.9L1224.5,429.8L1227.8,431.5L1229.5,434.8L1232,438.1L1231.6,441.5L1233.7,445.6L1234.1,449L1235.8,453.1L1236.2,456.5L1234.1,459.8L1235.3,461.5L1237.8,459L1241.2,459L1244.5,460.2L1247,462.3L1248.2,465.6L1247.8,469.8L1247,474L1245.3,477.3L1242.8,480.6L1241.2,483.1L1238.7,485.6L1240.3,487.7L1245.3,487.3L1245.7,490.6L1243.7,493.1L1241.2,495.6L1241.2,498.5L1193.3,498.5L1193.7,494.8L1196.2,493.9L1197,491L1201.2,490.6L1206.2,490.6L1207,488.1L1208.7,484.8L1205.4,487.3L1202,487.7L1199.5,485.2L1196.2,484.8L1195.4,482.7L1192.9,482.3L1189.5,484.4L1187.9,481.5L1187,477.7L1190.4,475.6L1194.5,473.1L1197,470.6L1197,464L1196.2,461.1L1191.6,462.7L1192,461.5L1194.5,459L1195.4,456.5L1193.3,453.1L1194.5,451.5L1197,454L1199.5,454L1202.9,452.7L1206.2,450.6L1206.6,447.3L1206.6,443.1L1207.9,439.4L1206.2,439.8L1204.5,438.1L1202.9,434.8L1201.6,431.5L1202.9,427.3L1203.7,424L1202,424.8L1198.7,427.3L1195.4,428.1L1192,427.3L1190,429L1187.9,424.8L1188.7,422.3L1190.4,418.2L1192,414L1190.4,410.7L1188.7,409L1190.4,408.1L1189.5,406.4L1188.3,408.9L1186.2,410.6L1185.8,414L1185.4,417.3L1182.5,417.3L1183.3,413.1L1183.7,408.9L1184.1,404.8L1184.5,401.5L1185.4,398.1L1182.9,397.3L1182,399.4L1179.1,399L1179.5,396L1178.3,394L1179.1,391.5L1182,390.6L1183.3,387.3L1184.5,385.6L1183.7,383.1L1181.2,382.3L1179.1,380.6L1177,380.6L1174.5,379.4L1177,376.5L1178.7,375.6L1180.4,379L1182.5,379.8L1182.5,375.6L1183.3,371.5L1185.4,370.6L1185.8,368.1L1187,365.7L1188.3,362.3ZM1177,408.9L1179.5,407.3L1182,404.8L1183.7,403.1L1184.1,405.6L1182,407.3L1180,408.9L1179.5,411.4L1178.3,411.4ZM1172.1,367.3L1173.7,365.7L1177,362.3L1179.1,361.1L1179.4,363.2L1177.9,367.3L1177,369.8L1174.5,371.5L1172.5,373.1L1172.1,370.6ZM1167.7,375.6L1169.6,375.5L1171.6,376.5L1171.4,377.5L1169.1,377.3ZM1168.7,380.6L1170,380.6L1170.2,384.8L1168.9,385ZM1167.5,386.5L1168.7,386.5L1168.7,387.7L1167.5,387.7ZM1192,439L1193.3,435.7L1194.9,434L1195.4,436.1L1194.1,438.6L1192.4,439.4ZM1169.5,417.3L1172,419.4L1175.4,419L1178.7,418.6L1180.4,420.7L1180.8,423.2L1182.9,426.1L1182.5,429L1184.5,429.8L1185.4,432.3L1184.1,435.2L1182,437.3L1181.2,439.8L1178.3,441.5L1178.7,445.6L1179.5,449.8L1179.5,454L1180.4,458.1L1180,462.3L1179.1,466.5L1177.9,469.8L1177,470.6L1178.3,472.7L1174.5,473.5L1170.4,474L1167.9,475.6L1165.4,478.1L1162.9,479.8L1160.4,478.1L1160,481.5L1157.1,484L1154.6,485.2L1151.2,485.2L1148.7,486L1148.3,484L1150.4,482.3L1146.2,482.7L1147.1,480.6L1143.3,479.8L1144.6,477.3L1147.5,474.8L1143.7,473.5L1145,471.5L1147.9,470.6L1148.3,468.1L1149.6,465.6L1154.6,464L1157.1,464.4L1153.7,466L1149.6,466.5L1148.7,465.2L1151.2,462.3L1152.1,459L1153.7,456.5L1156.2,455.6L1155.4,454.4L1151.2,454.4L1147.9,452.3L1145.4,449.8L1147.5,449L1147.5,446.5L1150,444L1147.1,443.1L1146.2,441.5L1143.7,441.1L1146.2,440.6L1147.1,438.1L1145.8,436.5L1147.9,435.2L1152.1,435.2L1154.1,436.5L1157.9,436.1L1159.1,433.2L1161.2,430.7L1159.6,429L1157.1,428.6L1158.7,426.5L1160.8,424.8L1160.4,423.2L1161.6,419.8L1165.4,419L1167,418.2L1166.6,422.3L1168.3,422.3Z"/><path fill="#FFE529" stroke="#FFE529" stroke-width="0.25" d="M1249.63,155.20h8.62v8.96h-8.62zM1275.48,173.13h8.62v8.96h-8.62zM1215.17,182.09h8.62v8.96h-8.62zM1241.02,182.09h8.62v8.96h-8.62zM1353.02,182.09h8.62v8.96h-8.62zM1172.09,191.05h8.62v8.96h-8.62zM1180.70,200.02h8.62v8.96h-8.62zM1223.78,200.02h8.62v8.96h-8.62zM1241.02,200.02h8.62v8.96h-8.62zM1241.02,208.98h8.62v8.96h-8.62zM1189.32,217.94h8.62v8.96h-8.62zM1241.02,217.94h25.85v8.96h-25.85zM1129.01,226.91h8.62v8.96h-8.62zM1197.94,226.91h8.62v8.96h-8.62zM1275.48,226.91h8.62v8.96h-8.62zM1008.38,235.87h8.62v8.96h-8.62zM1137.62,235.87h8.62v8.96h-8.62zM1163.47,235.87h8.62v8.96h-8.62zM1206.55,235.87h17.23v8.96h-17.23zM1266.86,235.87h8.62v8.96h-8.62zM965.30,235.87h8.62v8.96h-8.62zM1146.24,244.83h8.62v8.96h-8.62zM1266.86,244.83h8.62v8.96h-8.62zM1017.00,253.80h17.23v8.96h-17.23zM1103.16,253.80h8.62v8.96h-8.62zM1215.17,253.80h8.62v8.96h-8.62zM1258.25,253.80h17.23v8.96h-17.23zM1025.62,271.73h8.62v8.96h-8.62zM1068.70,271.73h8.62v8.96h-8.62zM1094.54,271.73h8.62v8.96h-8.62zM1197.94,271.73h8.62v8.96h-8.62zM1275.48,271.73h8.62v8.96h-8.62zM1051.46,280.69h8.62v8.96h-8.62zM1094.54,280.69h8.62v8.96h-8.62zM1223.78,280.69h17.23v8.96h-17.23zM1232.40,289.65h8.62v8.96h-8.62zM1197.94,298.62h8.62v8.96h-8.62zM1241.02,307.58h8.62v8.96h-8.62zM1241.02,325.51h8.62v8.96h-8.62zM1266.86,325.51h8.62v8.96h-8.62zM1266.86,343.43h17.23v8.96h-17.23zM1189.32,352.40h8.62v8.96h-8.62zM1146.24,406.18h8.62v8.96h-8.62zM1137.62,424.10h8.62v8.96h-8.62zM1129.01,459.96h8.62v8.96h-8.62z"/><path fill="#FFA500" stroke="#FFA500" stroke-width="0.25" d="M1353.02,173.13h8.62v8.96h-8.62zM1232.40,182.09h8.62v8.96h-8.62zM1189.32,191.05h8.62v8.96h-8.62zM1232.40,191.05h8.62v8.96h-8.62zM1344.41,191.05h8.62v8.96h-8.62zM1163.47,208.98h8.62v8.96h-8.62zM1180.70,208.98h8.62v8.96h-8.62zM1197.94,208.98h25.85v8.96h-25.85zM1249.63,208.98h17.23v8.96h-17.23zM1197.94,217.94h8.62v8.96h-8.62zM1215.17,217.94h8.62v8.96h-8.62zM1206.55,226.91h17.23v8.96h-17.23zM1120.39,235.87h17.23v8.96h-17.23zM1223.78,235.87h8.62v8.96h-8.62zM1241.02,235.87h17.23v8.96h-17.23zM1154.86,253.80h8.62v8.96h-8.62zM1232.40,253.80h25.85v8.96h-25.85zM1094.54,262.76h8.62v8.96h-8.62zM1223.78,262.76h25.85v8.96h-25.85zM1034.23,271.73h34.46v8.96h-34.46zM1077.31,271.73h17.23v8.96h-17.23zM1258.25,271.73h8.62v8.96h-8.62zM1060.08,280.69h8.62v8.96h-8.62zM1249.63,280.69h8.62v8.96h-8.62zM1223.78,289.65h8.62v8.96h-8.62zM1241.02,289.65h8.62v8.96h-8.62zM1275.48,289.65h8.62v8.96h-8.62zM1206.55,298.62h8.62v8.96h-8.62zM1241.02,298.62h17.23v8.96h-17.23zM1266.86,298.62h8.62v8.96h-8.62zM1215.17,307.58h17.23v8.96h-17.23zM1206.55,316.54h8.62v8.96h-8.62zM1249.63,316.54h8.62v8.96h-8.62zM1275.48,325.51h8.62v8.96h-8.62zM1232.40,334.47h8.62v8.96h-8.62zM1163.47,343.43h8.62v8.96h-8.62zM1189.32,343.43h17.23v8.96h-17.23zM1154.86,352.40h34.46v8.96h-34.46zM1146.24,361.36h8.62v8.96h-8.62zM1163.47,361.36h8.62v8.96h-8.62zM1215.17,361.36h8.62v8.96h-8.62zM1146.24,370.32h17.23v8.96h-17.23zM1232.40,370.32h8.62v8.96h-8.62zM1146.24,379.29h8.62v8.96h-8.62zM1154.86,388.25h8.62v8.96h-8.62zM1146.24,415.14h8.62v8.96h-8.62z"/><path fill="#FF0000" stroke="#FF0000" stroke-width="0.25" d="M1189.32,200.02h8.62v8.96h-8.62zM1215.17,200.02h8.62v8.96h-8.62zM1232.40,200.02h8.62v8.96h-8.62zM1232.40,208.98h8.62v8.96h-8.62zM1232.40,217.94h8.62v8.96h-8.62zM1232.40,226.91h25.85v8.96h-25.85zM1223.78,244.83h8.62v8.96h-8.62zM1241.02,244.83h8.62v8.96h-8.62zM1223.78,253.80h8.62v8.96h-8.62zM1111.78,262.76h8.62v8.96h-8.62zM1249.63,262.76h8.62v8.96h-8.62zM1223.78,271.73h34.46v8.96h-34.46zM1241.02,280.69h8.62v8.96h-8.62zM1258.25,280.69h8.62v8.96h-8.62zM1215.17,316.54h17.23v8.96h-17.23zM1189.32,325.51h8.62v8.96h-8.62zM1172.09,334.47h8.62v8.96h-8.62zM1206.55,343.43h8.62v8.96h-8.62zM1232.40,343.43h8.62v8.96h-8.62zM1232.40,352.40h8.62v8.96h-8.62zM1232.40,361.36h8.62v8.96h-8.62z"/><path fill="#6B181C" stroke="#6B181C" stroke-width="0.25" d="M1232.40,235.87h8.62v8.96h-8.62zM1120.39,244.83h17.23v8.96h-17.23zM1232.40,244.83h8.62v8.96h-8.62zM1249.63,244.83h8.62v8.96h-8.62zM1111.78,253.80h17.23v8.96h-17.23zM1266.86,280.69h8.62v8.96h-8.62zM1249.63,289.65h8.62v8.96h-8.62zM1197.94,325.51h43.08v8.96h-43.08zM1180.70,334.47h51.70v8.96h-51.70zM1172.09,343.43h17.23v8.96h-17.23zM1215.17,343.43h17.23v8.96h-17.23zM1215.17,352.40h17.23v8.96h-17.23zM1154.86,361.36h8.62v8.96h-8.62zM1223.78,361.36h8.62v8.96h-8.62z"/>
<path fill="#C6C8C8" d="M1219.2,325L1220.8,323.4L1222.7,321.9L1225,319.4L1226.1,319.6L1226.1,321.1L1225,323.4L1224,325.4L1223.8,327.7L1223.3,330L1222.3,332.7L1221.2,332.3L1219.6,330.4L1219.4,328.4L1220,326.9Z"/>
<path class="ez" d="M1122.8,124L1120.3,140.7L1117,157.3L1119.5,162.3M1119.5,162.3L1117.8,167.3L1095.3,174L1072,181.5L1048.7,188.1L1032,194L1017,200.6L1000.4,210.6L984.5,223.1L977.9,235.6L972.9,252.2L967.9,274.7L972.1,283.9L978.7,297.2L988.7,308.9L1000.4,318.9L1008.7,323.2L1025.4,328.1L1045.3,334L1055.3,335.3L1078.7,333.2L1095.3,325.6L1113.6,319.8M1119.5,162.3L1128.6,164L1141.9,168.1L1153.6,174L1163.6,182.3L1171.9,192.3L1176.9,202.3L1180.3,210.6L1183.6,218.9L1185.3,231.4M1185.3,231.4L1178.6,235.6L1161.9,250.6L1141.9,270.6L1128.6,287.2L1120.3,300.5L1113.6,318.9L1113.6,319.8M1113.6,319.8L1119.5,331.5L1120,337.3L1115.3,338.1L1109.5,349L1106.1,360.6L1105.3,374L1107.8,387.3L1112.8,391.4L1105.3,403.9L1098.6,417.3L1096.1,430.6L1096.1,447.2L1095.3,462.2L1095.3,478.9L1097.8,498M1119.5,331.5L1133.6,334L1155.3,334.3L1170.3,330.6L1191.9,327.3L1192,327.3L1203.7,304L1208.7,295.5L1218.7,278.9L1228.7,263.9M1185.4,231.4L1200.4,235.6L1212,242.2L1222,248.9L1228.7,254.7L1228.7,263.9M1228.7,263.9L1233.7,273.9L1240.3,285.6L1244.5,297.2L1248.7,310.5M1244.5,297.2L1276.1,297.2M1346.1,124L1355.2,134L1371.1,140.7L1371.1,154.8L1302,189.8L1302,208.4L1327.8,208.4L1336.9,199.8L1341.9,196.5M1245.3,497.7L1247,496L1253.7,492.3L1260.4,488.1L1262.9,487.3L1267.1,487.3L1270.4,490.6L1269.6,493.9M1248.8,311.1L1247.7,311.5L1236.9,312.3L1231.9,313.6L1225.4,317.7L1223.8,320L1223.1,323.1L1223.8,326.9L1222.3,333.8L1220.8,338.4L1223.1,340.7L1223.1,344.2L1220.4,346.5L1216.9,346.1L1215.8,345.4L1215.4,348.4L1214.2,351.5L1213.5,355.3L1210.8,356.9L1208.1,357.7L1205,355.3L1203.5,353.8L1208.1,353L1213.8,351.9"/>
</g>
<rect class="bd" x="951.5" y="125.5" width="424.6" height="372.4"/>
<path class="tk" d="M973.9,498.3v7.4M1060.1,498.3v7.4M1146.2,498.3v7.4M1232.4,498.3v7.4M1318.6,498.3v7.4"/>
<text class="st" x="1163.8" y="103.2" text-anchor="middle">Migration cycle 3</text>
<text class="n" x="1042.3" y="146.7">n = 1202</text>
<clipPath id="cA21"><rect x="70.9" y="541.5" width="424" height="370.5"/></clipPath>
<g clip-path="url(#cA21)">
<path class="ld" d="M70.4,540L118.7,540L118.7,542.9L123.7,544L128.7,544.3L131.2,546.2L131.6,549.2L129.5,551.2L125.4,553.3L119.5,553.5L113.7,553.3L108.3,552.9L111.6,555.8L111.2,558.7L108.7,560.4L102.9,562.5L108.7,563.7L115.4,563.7L120.4,563.3L122.9,562.5L124.1,564.1L119.5,566.2L116.2,568.7L114.5,570.8L117.9,570.8L119.5,568.3L123.7,567.1L128.7,566.2L132.9,565.1L136.2,565.4L140.4,566.6L145.4,568.3L150.3,569.1L157,569.1L161.2,569.1L158.7,571.6L153.7,573.7L147.9,575.8L148.3,578.3L143.7,578.7L142.9,581.2L139.5,583.3L135.4,584.6L137,586.2L132,589.1L127,592L122,594.1L115.4,596.2L108.7,597.9L102,600.4L96.2,600.4L92.9,601.6L87.9,602.5L88.7,604.1L84.6,604.8L81.2,603.3L77.9,600.8L74.6,598.7L75.4,601.6L73.7,602.5L75.8,604.5L75.4,606.6L72.9,608.7L70.4,609.1ZM132,540L161.2,540L161.2,542.5L159.5,544.2L159.5,549.2L158.3,556.7L158.3,562.5L153.7,563.1L150.3,562.9L147.4,561.2L145.4,558.3L144.1,555L143.3,551.2L140.4,548.7L137,547.5L133.7,545.4L132,543.3ZM160.3,545.4L165.3,545L166.2,551.7L166.6,557.5L166.6,562.5L163.7,563.1L159.9,562.1L159.9,556.7L159.9,549.2ZM142.5,650.4L146.2,646.3L148.7,645.5L148.7,641.3L152,638.9L154.9,640.1L154.5,635.6L157.8,634.3L160.3,634.7L162.8,636.8L166.1,639.3L168.6,641.3L169.8,643.8L169.4,646.7L167.3,647.5L168.6,650L171.1,652.9L171.5,654.5L172.7,650.4L174.4,647.9L176.9,648.8L177.7,643.8L178.6,640.1L180.6,640.5L182.7,643.4L184.8,645.9L185.6,643L186.4,640.1L190.2,638.9L192.7,640.9L195.1,643.8L196.8,646.3L197.2,643.8L195.6,639.3L199.3,639.7L201.8,642.2L203.4,640.5L205.5,638L207.6,639.3L211.3,638.5L210.9,633.9L213.4,632.3L215.9,633.1L217.5,636L218.4,637.6L221.7,637.6L224.2,636L226.7,635.2L224.6,637.6L222.9,640.5L225.8,641.3L226.3,645.5L228.7,645.9L230,648.8L233.3,649.2L235.8,650.8L234.6,652.9L235.8,655.3L236.6,657.8L234.1,659.5L233.7,663.2L230.8,664.4L229.2,664.8L228.3,668.5L226.7,670.2L223.4,671.4L219.2,672.7L215.9,674.7L212.6,676.8L209.3,680.1L205.9,680.5L201,681.7L198.9,683.4L198.9,685.4L195.1,687.1L191.8,687.3L186.8,686.8L182.7,685L178.6,683.8L176.5,682.6L177.7,680.9L174.4,680.5L171.9,679.7L171.1,678.4L168.6,679.2L166.9,680.1L162.8,679.7L158.6,680.1L157.4,676L159.5,677.2L162,676.8L164,675.1L165.7,672.7L166.9,670.6L164,671.8L164.4,668.9L166.9,666.1L164,667.7L161.5,666.9L162,664.8L160.3,663.6L156.1,663.6L152,663.2L148.7,664.3L146.6,662.4L148.7,661.1L152.8,659.9L156.1,659.5L158.6,658.6L162.8,658.5L166.1,657.8L166.1,656.6L162.8,656.6L159.5,656.2L162,654.5L164.4,652.9L165.3,651.6L162.8,650.8L159.5,650L155.3,650L151.2,651.2L147.4,652.5L145.4,651.2ZM496.5,598L494.4,598L491.5,599.3L487.4,602.2L484,604.2L484.9,606.7L480.7,606.7L478.2,608.3L479.1,611.6L481.5,611.6L480.7,613.3L478.2,614.5L477.4,616.6L474.9,618.6L474.9,620.7L471.6,623.2L468.3,624L467.9,626.5L464.9,628.9L464.1,633.1L464.9,635.5L462.5,638.8L460,642.1L458.3,645.4L456.6,649.5L455,653.7L452.5,658.6L449.2,660.3L449.2,663.6L445.9,666.5L441.7,669L440.1,672.7L438.4,675.2L436.7,678.4L434.3,680.9L433.4,683.4L430.1,685L427.6,683.8L425.1,685L426,687.5L422.6,690L421,692.5L416,692.9L411.8,694.5L410.2,697.4L409.4,699.9L406,701.1L404.4,704L402.7,708.1L401.1,711L395.3,711.4L394.4,715.5L395.3,719.7L395.7,722.9L394.8,727.1L395.3,731.2L394,734.5L396.1,737.8L396.9,741.9L396.1,742.8L396.1,745.3L396.9,748.6L395.7,752.7L398.6,750.2L400.6,748.6L401.1,752.7L397.7,755.1L396.5,758.4L396.5,762.2L400.2,760.9L402.7,759.3L402.7,763.4L403.5,765.9L400.2,765L399,769.2L400.2,772.5L402.7,775.3L406,777.4L408.5,778.6L408.5,781.9L412.7,783.2L416.8,783.2L421,781.1L424.3,779.5L427.6,775.7L430.9,771.6L433.4,768.7L435.9,765.9L438.4,765.4L440.9,764.6L441.7,761.7L442.6,760.1L441.7,756.8L442.1,753.9L443.4,753.9L443.8,756.8L443.4,759.7L445,762.2L447.1,763.4L449.6,763.8L447.5,765L447.9,769.2L448.4,773.3L449.2,777.4L451.3,781.5L452.5,786.5L454.2,790.6L454.6,793.9L456.6,798L458.3,801.3L460.8,804.6L462.9,807.9L462.5,809.5L460.8,810.4L460.8,812.8L459.6,814.5L460.4,817L461.6,819.4L462.9,822.7L463.3,825.2L462.9,828.5L465.8,829.3L469.1,828.9L473.2,828.1L474.9,826.4L474.1,823.5L474.5,820.3L476.6,817.8L479.1,815.3L482.4,814.9L485.7,814.5L487.4,815.7L489.8,813.2L491.1,809.5L492.3,806.2L493.6,802.1L494,795.5L496.5,795.5ZM489.8,582.8L489,584.4L485.7,586.9L484.4,588.6L485.7,591L484,594.3L481.5,597.2L477.4,598.4L474.9,600.1L473.2,600.9L469.1,600.5L465.8,602.6L463.7,605L464.9,605.9L469.1,604.6L474.1,603L478.2,600.9L483.2,600.1L487.4,599.3L490.7,598.4L496.5,596L496.5,591.9L494,591.9L491.5,590.2L489,591L488.2,587.7L490.3,584.4ZM475.3,593.1L478.2,591.4L481.1,587.7L482.8,590.2L484,592.7L481.5,594.3L477.4,593.9ZM442.6,787.7L440.9,789.8L437.6,790.6L435.9,793.1L434.3,796.4L430.9,797.6L426.8,798.4L424.3,800.5L422.6,804.6L423.5,806.2L421.4,807.5L421.6,812L421.8,817L421.4,821.1L421.4,826.1L426,829.4L425.1,832.7L423.5,836L422.6,839.3L424.3,840.9L426.8,841.7L427.6,844.2L426,847.5L427.6,850L427.6,853.3L429.3,855.7L426.8,855.7L425.1,858.2L423.5,860.7L421.4,859L419.3,858.2L415.2,858.6L412.7,860.7L412.3,863.2L409.4,862.7L406,863.6L402.7,863.6L399.4,865.6L397.7,869.7L393.6,873L391.9,876.3L391.5,881.3L389.4,886.2L387,889.5L385.7,892.8L387.4,895.3L388.2,897.8L391.1,898.6L394.4,898.2L396.1,901.1L398.6,901.9L401.5,903.9L401.5,910.1L496.5,910.1L496.5,845L494.4,845L491.5,847.5L485.7,850L479.9,852.4L475.7,854.9L473.2,853.7L469.9,851.6L466.6,849.6L469.1,846.7L469.1,843.4L466.6,841.7L464.9,843.4L464.1,845.9L459.1,845.9L457.5,848.3L455.8,850.4L453.3,851.2L451.3,853.7L449.2,854.5L444.6,852.9L446.3,850.8L447.1,847.9L445.9,847.1L442.6,847.5L439.2,846.3L437.6,844.2L438,841.7L436.7,839.3L435.1,837.6L435.5,835.1L433.4,834.3L435.1,831L435.1,827.7L436.7,824.4L438.4,822L440.1,818.7L440.1,815.3L441.7,813.7L443.4,814.1L445.9,812.8L446.3,810.4L444.6,808.3L442.6,808.7L440.9,807.9L440.5,803.8L440.9,800.5L441.7,797.2L442.6,793.9L442.1,790.6ZM436.7,826.9L440.1,825.2L443.4,826.1L444.2,829.4L443.8,833.1L441.7,834.7L438.4,833.5L437.2,830.2ZM447.1,822.7L449.2,820.3L451.3,818.6L454.2,818.2L457.5,816.1L459.6,817L460,820.3L458.7,824.4L456.6,826.4L457.5,829.3L455.8,831.8L454.6,833.4L454.6,839.3L453.3,837.6L452.5,833.5L450.8,831.8L448.4,830.2L447.5,826.1L446.7,822ZM446.7,836.8L449.2,837.6L452.5,839.7L452.9,841.3L450.4,842.1L447.5,840.5L446.3,838.4ZM443.8,835.5L445.5,835.5L444.2,839.3L443.4,838.8ZM478.2,831L479.9,831L481.5,833.1L481.5,834.7L479.1,834.3L478.2,832.7ZM308.9,771.6L312.2,772.5L317.2,772L321.3,771.2L323.8,770.8L325.9,772L326.3,774.1L325.5,776.6L323,779.1L320.9,781.5L318.9,784L318,786.5L318,788.9L321.8,788.1L326.3,788L331.3,788.1L336.3,788.5L337.1,791.4L335.9,794.7L334.6,798L333.4,802.1L332.1,805.4L330.5,808.7L328,811.2L330.1,813.7L327.2,815.3L325.5,817.8L328,817L330.5,817.8L333.8,819.4L335.4,821.9L337.9,825.2L338.8,829.3L339.6,833.4L340.8,837.6L342.9,841.7L343.7,842.6L347.1,844.2L348.7,847.5L351.2,850.8L350.8,854.1L352.9,858.2L353.3,861.5L354.9,865.6L355.4,868.9L353.3,872.2L354.5,873.9L357,871.4L360.3,871.4L363.6,872.6L366.1,874.7L367.4,878L367,882.1L366.1,886.2L364.5,889.5L362,892.8L360.3,895.3L357.8,897.8L359.5,899.8L364.5,899.4L364.9,902.7L362.8,905.2L360.3,907.7L360.3,910.5L312.6,910.5L313,906.8L315.5,906L316.4,903.1L320.5,902.7L325.5,902.7L326.3,900.2L328,896.9L324.7,899.4L321.3,899.8L318.8,897.4L315.5,896.9L314.7,894.9L312.2,894.5L308.9,896.5L307.2,893.6L306.4,889.9L309.7,887.9L313.9,885.4L316.4,882.9L316.4,876.3L315.5,873.5L311,875.1L311.4,873.9L313.9,871.4L314.7,868.9L312.6,865.6L313.9,864L316.4,866.5L318.8,866.5L322.2,865.2L325.5,863.2L325.9,859.9L325.9,855.7L327.1,852L325.5,852.4L323.8,850.8L322.2,847.5L320.9,844.2L322.2,840.1L323,836.8L321.3,837.6L318,840.1L314.7,840.9L311.4,840.1L309.3,841.7L307.2,837.6L308.1,835.1L309.7,831L311.4,826.9L309.7,823.6L308.1,822L309.7,821.1L308.9,819.4L307.7,821.9L305.6,823.6L305.2,826.9L304.7,830.1L301.8,830.1L302.7,826L303.1,821.9L303.5,817.8L303.9,814.5L304.7,811.2L302.3,810.4L301.4,812.4L298.5,812L298.9,809.1L297.7,807.1L298.5,804.6L301.4,803.8L302.7,800.5L303.9,798.8L303.1,796.4L300.6,795.5L298.5,793.9L296.4,793.9L294,792.7L296.4,789.8L298.1,788.9L299.8,792.2L301.8,793.1L301.8,788.9L302.7,784.8L304.7,784L305.2,781.5L306.4,779.1L307.7,775.8ZM296.4,821.9L298.9,820.3L301.4,817.8L303.1,816.1L303.5,818.6L301.4,820.3L299.4,821.9L298.9,824.4L297.7,824.4ZM291.5,780.7L293.1,779.1L296.4,775.8L298.5,774.5L298.8,776.6L297.3,780.7L296.4,783.2L294,784.8L291.9,786.5L291.5,784ZM287.2,788.9L289,788.8L291.1,789.8L290.8,790.8L288.6,790.6ZM288.2,793.9L289.4,793.9L289.6,798L288.3,798.2ZM286.9,799.7L288.2,799.7L288.2,800.9L286.9,800.9ZM311.4,851.6L312.6,848.3L314.3,846.7L314.7,848.7L313.5,851.2L311.8,852ZM289,830.2L291.5,832.3L294.8,831.8L298.1,831.4L299.8,833.5L300.2,836L302.3,838.8L301.8,841.7L303.9,842.6L304.7,845L303.5,847.9L301.4,850L300.6,852.4L297.7,854.1L298.1,858.2L298.9,862.3L298.9,866.5L299.8,870.6L299.3,874.7L298.5,878.8L297.3,882.1L296.4,882.9L297.7,885L294,885.8L289.8,886.2L287.3,887.9L284.8,890.4L282.3,892L279.8,890.4L279.4,893.6L276.5,896.1L274,897.4L270.7,897.4L268.2,898.2L267.8,896.1L269.9,894.5L265.7,894.9L266.6,892.8L262.8,892L264.1,889.5L267,887.1L263.2,885.8L264.5,883.8L267.4,882.9L267.8,880.5L269.1,878L274,876.3L276.5,876.8L273.2,878.4L269.1,878.8L268.2,877.6L270.7,874.7L271.5,871.4L273.2,868.9L275.7,868.1L274.9,866.9L270.7,866.9L267.4,864.8L264.9,862.3L267,861.5L267,859L269.5,856.6L266.6,855.7L265.7,854.1L263.2,853.7L265.7,853.3L266.6,850.8L265.3,849.1L267.4,847.9L271.5,847.9L273.6,849.1L277.4,848.7L278.6,845.9L280.7,843.4L279,841.7L276.5,841.3L278.2,839.3L280.3,837.6L279.8,836L281.1,832.7L284.8,831.8L286.5,831L286.1,835.1L287.7,835.1Z"/><path fill="#FFE529" stroke="#FFE529" stroke-width="0.25" d="M403.10,579.67h8.58v8.87h-8.58zM403.10,597.41h8.58v8.87h-8.58zM420.27,597.41h8.58v8.87h-8.58zM368.77,606.28h8.58v8.87h-8.58zM377.35,615.15h8.58v8.87h-8.58zM291.51,624.02h8.58v8.87h-8.58zM377.35,624.02h8.58v8.87h-8.58zM368.77,632.89h17.17v8.87h-17.17zM351.60,641.76h8.58v8.87h-8.58zM368.77,641.76h8.58v8.87h-8.58zM385.94,641.76h8.58v8.87h-8.58zM343.02,650.63h8.58v8.87h-8.58zM368.77,650.63h8.58v8.87h-8.58zM282.93,659.50h8.58v8.87h-8.58zM325.85,659.50h8.58v8.87h-8.58zM360.18,659.50h17.17v8.87h-17.17zM343.02,668.37h8.58v8.87h-8.58zM360.18,668.37h8.58v8.87h-8.58zM360.18,686.11h8.58v8.87h-8.58zM368.77,694.98h8.58v8.87h-8.58zM351.60,703.85h8.58v8.87h-8.58zM377.35,712.72h8.58v8.87h-8.58zM385.94,730.46h8.58v8.87h-8.58zM394.52,748.20h8.58v8.87h-8.58zM308.68,757.07h8.58v8.87h-8.58zM257.18,845.77h8.58v8.87h-8.58z"/><path fill="#FFA500" stroke="#FFA500" stroke-width="0.25" d="M377.35,579.67h8.58v8.87h-8.58zM394.52,588.54h8.58v8.87h-8.58zM351.60,597.41h17.17v8.87h-17.17zM274.34,606.28h8.58v8.87h-8.58zM428.86,606.28h8.58v8.87h-8.58zM343.02,624.02h25.75v8.87h-25.75zM334.43,632.89h8.58v8.87h-8.58zM351.60,632.89h8.58v8.87h-8.58zM240.01,641.76h8.58v8.87h-8.58zM308.68,641.76h8.58v8.87h-8.58zM325.85,641.76h17.17v8.87h-17.17zM360.18,641.76h8.58v8.87h-8.58zM377.35,641.76h8.58v8.87h-8.58zM394.52,641.76h8.58v8.87h-8.58zM248.59,650.63h8.58v8.87h-8.58zM334.43,650.63h8.58v8.87h-8.58zM351.60,650.63h17.17v8.87h-17.17zM128.42,659.50h8.58v8.87h-8.58zM343.02,659.50h17.17v8.87h-17.17zM222.84,668.37h8.58v8.87h-8.58zM248.59,668.37h8.58v8.87h-8.58zM334.43,668.37h8.58v8.87h-8.58zM351.60,668.37h8.58v8.87h-8.58zM368.77,668.37h17.17v8.87h-17.17zM343.02,677.24h8.58v8.87h-8.58zM360.18,677.24h8.58v8.87h-8.58zM368.77,686.11h8.58v8.87h-8.58zM343.02,694.98h8.58v8.87h-8.58zM360.18,703.85h17.17v8.87h-17.17zM360.18,712.72h17.17v8.87h-17.17zM377.35,721.59h8.58v8.87h-8.58zM334.43,730.46h8.58v8.87h-8.58zM291.51,748.20h8.58v8.87h-8.58zM317.26,748.20h8.58v8.87h-8.58zM351.60,748.20h8.58v8.87h-8.58zM325.85,757.07h25.75v8.87h-25.75zM394.52,757.07h8.58v8.87h-8.58zM308.68,765.94h8.58v8.87h-8.58zM265.76,774.81h8.58v8.87h-8.58zM265.76,783.68h8.58v8.87h-8.58zM265.76,828.03h8.58v8.87h-8.58z"/><path fill="#FF0000" stroke="#FF0000" stroke-width="0.25" d="M334.43,606.28h8.58v8.87h-8.58zM308.68,615.15h8.58v8.87h-8.58zM351.60,615.15h17.17v8.87h-17.17zM325.85,624.02h17.17v8.87h-17.17zM368.77,624.02h8.58v8.87h-8.58zM317.26,632.89h8.58v8.87h-8.58zM360.18,632.89h8.58v8.87h-8.58zM317.26,641.76h8.58v8.87h-8.58zM240.01,650.63h8.58v8.87h-8.58zM325.85,650.63h8.58v8.87h-8.58zM248.59,659.50h8.58v8.87h-8.58zM257.18,668.37h8.58v8.87h-8.58zM265.76,677.24h8.58v8.87h-8.58zM368.77,677.24h8.58v8.87h-8.58zM197.09,686.11h17.17v8.87h-17.17zM343.02,686.11h17.17v8.87h-17.17zM377.35,686.11h8.58v8.87h-8.58zM394.52,686.11h8.58v8.87h-8.58zM360.18,694.98h8.58v8.87h-8.58zM334.43,712.72h8.58v8.87h-8.58zM334.43,721.59h8.58v8.87h-8.58zM360.18,721.59h8.58v8.87h-8.58zM325.85,730.46h8.58v8.87h-8.58zM351.60,730.46h17.17v8.87h-17.17zM334.43,739.33h25.75v8.87h-25.75zM394.52,739.33h8.58v8.87h-8.58zM300.10,748.20h17.17v8.87h-17.17zM325.85,748.20h25.75v8.87h-25.75zM291.51,757.07h17.17v8.87h-17.17zM317.26,757.07h8.58v8.87h-8.58zM351.60,757.07h8.58v8.87h-8.58zM334.43,765.94h25.75v8.87h-25.75zM334.43,774.81h25.75v8.87h-25.75zM274.34,783.68h8.58v8.87h-8.58zM265.76,792.55h8.58v8.87h-8.58zM274.34,801.42h8.58v8.87h-8.58zM265.76,819.16h8.58v8.87h-8.58z"/><path fill="#6B181C" stroke="#6B181C" stroke-width="0.25" d="M317.26,597.41h25.75v8.87h-25.75zM291.51,606.28h8.58v8.87h-8.58zM308.68,606.28h8.58v8.87h-8.58zM351.60,606.28h17.17v8.87h-17.17zM282.93,615.15h8.58v8.87h-8.58zM300.10,615.15h8.58v8.87h-8.58zM317.26,615.15h34.34v8.87h-34.34zM282.93,624.02h8.58v8.87h-8.58zM300.10,624.02h8.58v8.87h-8.58zM317.26,624.02h8.58v8.87h-8.58zM385.94,624.02h8.58v8.87h-8.58zM325.85,632.89h8.58v8.87h-8.58zM248.59,641.76h17.17v8.87h-17.17zM257.18,650.63h8.58v8.87h-8.58zM291.51,650.63h8.58v8.87h-8.58zM137.00,659.50h8.58v8.87h-8.58zM240.01,659.50h8.58v8.87h-8.58zM257.18,659.50h8.58v8.87h-8.58zM317.26,659.50h8.58v8.87h-8.58zM334.43,659.50h8.58v8.87h-8.58zM377.35,659.50h8.58v8.87h-8.58zM231.42,668.37h17.17v8.87h-17.17zM265.76,668.37h8.58v8.87h-8.58zM325.85,668.37h8.58v8.87h-8.58zM385.94,668.37h8.58v8.87h-8.58zM214.26,677.24h25.75v8.87h-25.75zM257.18,677.24h8.58v8.87h-8.58zM351.60,677.24h8.58v8.87h-8.58zM377.35,677.24h8.58v8.87h-8.58zM145.58,686.11h51.50v8.87h-51.50zM171.34,694.98h17.17v8.87h-17.17zM351.60,694.98h8.58v8.87h-8.58zM377.35,694.98h17.17v8.87h-17.17zM343.02,703.85h8.58v8.87h-8.58zM377.35,703.85h8.58v8.87h-8.58zM394.52,703.85h8.58v8.87h-8.58zM385.94,712.72h8.58v8.87h-8.58zM343.02,721.59h8.58v8.87h-8.58zM368.77,721.59h8.58v8.87h-8.58zM385.94,721.59h8.58v8.87h-8.58zM343.02,730.46h8.58v8.87h-8.58zM308.68,739.33h25.75v8.87h-25.75zM368.77,739.33h8.58v8.87h-8.58zM385.94,739.33h8.58v8.87h-8.58zM282.93,757.07h8.58v8.87h-8.58zM282.93,765.94h25.75v8.87h-25.75zM274.34,774.81h17.17v8.87h-17.17zM351.60,783.68h8.58v8.87h-8.58zM265.76,810.29h8.58v8.87h-8.58zM257.18,836.90h8.58v8.87h-8.58zM248.59,854.64h8.58v8.87h-8.58zM248.59,863.51h8.58v8.87h-8.58zM248.59,872.38h8.58v8.87h-8.58z"/>
<path fill="#C6C8C8" d="M338.5,738.8L340,737.3L341.9,735.8L344.2,733.3L345.4,733.5L345.4,735L344.2,737.3L343.3,739.2L343.1,741.5L342.5,743.8L341.5,746.4L340.4,746L338.9,744.1L338.7,742.2L339.2,740.7Z"/>
<path class="ez" d="M242.4,539.9L239.9,556.4L236.6,572.9L239.1,577.8M239.1,577.8L237.4,582.8L215,589.4L191.8,596.8L168.6,603.4L152,609.1L137,615.7L120.4,625.6L104.7,638L98,650.4L93,666.8L88.1,689.1L92.2,698.1L98.9,711.3L108.8,722.9L120.4,732.8L128.7,737L145.3,741.9L165.2,747.7L175.2,749L198.4,746.9L215,739.5L233.3,733.7M239.1,577.8L248.2,579.5L261.5,583.6L273.1,589.4L283,597.6L291.3,607.5L296.3,617.4L299.6,625.6L303,633.9L304.6,646.2M304.6,646.2L298,650.4L281.4,665.2L261.5,685L248.2,701.5L239.9,714.6L233.3,732.8L233.3,733.7M233.3,733.7L239.1,745.2L239.6,751L234.9,751.8L229.1,762.5L225.8,774.1L225,787.3L227.5,800.5L232.4,804.6L225,816.9L218.3,830.1L215.8,843.3L215.8,859.8L215,874.6L215,891.1L217.5,910.1M239.1,745.2L253.2,747.7L274.8,748L289.7,744.4L311.3,741.1L311.4,741.1L323,718L328,709.7L337.9,693.2L347.9,678.4M304.7,646.2L319.7,650.4L331.3,656.9L341.2,663.5L347.9,669.3L347.9,678.4M347.9,678.4L352.9,688.3L359.5,699.8L363.6,711.3L367.8,724.5M363.6,711.3L395.2,711.3M464.9,539.9L474,549.8L489.8,556.4L489.8,570.4L420.9,605L420.9,623.5L446.6,623.5L455.7,614.9L460.7,611.6M364.5,909.7L366.1,908.1L372.8,904.4L379.5,900.2L382,899.4L386.1,899.4L389.4,902.7L388.6,906M368,725.1L366.8,725.5L356.1,726.3L351.1,727.6L344.6,731.6L343.1,733.9L342.3,736.9L343.1,740.7L341.5,747.6L340,752.1L342.3,754.4L342.3,757.8L339.6,760.1L336.2,759.7L335,759L334.7,762L333.5,765.1L332.7,768.9L330.1,770.4L327.4,771.1L324.3,768.9L322.8,767.3L327.4,766.6L333.1,765.4"/>
</g>
<rect class="bd" x="70.9" y="541.5" width="424" height="370.5"/>
<path class="tk" d="M94.1,912.4v7.4M179.9,912.4v7.4M265.8,912.4v7.4M351.6,912.4v7.4M437.4,912.4v7.4M70.5,570.8h-7.4M70.5,659.5h-7.4M70.5,748.2h-7.4M70.5,836.9h-7.4"/>
<text class="ax" x="56.5" y="578.3" text-anchor="end">70°</text>
<text class="ax" x="56.5" y="667" text-anchor="end">65°</text>
<text class="ax" x="56.5" y="755.7" text-anchor="end">60°</text>
<text class="ax" x="56.5" y="844.4" text-anchor="end">55°</text>
<clipPath id="cA22"><rect x="510.2" y="541.5" width="424" height="370.5"/></clipPath>
<g clip-path="url(#cA22)">
<path class="ld" d="M509.6,540L557.9,540L557.9,542.9L562.9,544L567.9,544.3L570.4,546.2L570.8,549.2L568.7,551.2L564.6,553.3L558.7,553.5L552.9,553.3L547.5,552.9L550.8,555.8L550.4,558.7L547.9,560.4L542.1,562.5L547.9,563.7L554.6,563.7L559.6,563.3L562.1,562.5L563.3,564.1L558.7,566.2L555.4,568.7L553.7,570.8L557.1,570.8L558.7,568.3L562.9,567.1L567.9,566.2L572.1,565.1L575.4,565.4L579.5,566.6L584.5,568.3L589.5,569.1L596.2,569.1L600.4,569.1L597.9,571.6L592.9,573.7L587,575.8L587.5,578.3L582.9,578.7L582,581.2L578.7,583.3L574.6,584.6L576.2,586.2L571.2,589.1L566.2,592L561.2,594.1L554.6,596.2L547.9,597.9L541.2,600.4L535.4,600.4L532.1,601.6L527.1,602.5L527.9,604.1L523.8,604.8L520.4,603.3L517.1,600.8L513.8,598.7L514.6,601.6L512.9,602.5L515,604.5L514.6,606.6L512.1,608.7L509.6,609.1ZM571.2,540L600.4,540L600.4,542.5L598.7,544.2L598.7,549.2L597.5,556.7L597.5,562.5L592.9,563.1L589.5,562.9L586.6,561.2L584.5,558.3L583.3,555L582.5,551.2L579.5,548.7L576.2,547.5L572.9,545.4L571.2,543.3ZM599.5,545.4L604.5,545L605.4,551.7L605.8,557.5L605.8,562.5L602.9,563.1L599.1,562.1L599.1,556.7L599.1,549.2ZM581.7,650.4L585.4,646.3L587.9,645.5L587.9,641.3L591.2,638.9L594.1,640.1L593.7,635.6L597,634.3L599.5,634.7L602,636.8L605.3,639.3L607.8,641.3L609,643.8L608.6,646.7L606.5,647.5L607.8,650L610.3,652.9L610.7,654.5L611.9,650.4L613.6,647.9L616.1,648.8L616.9,643.8L617.8,640.1L619.8,640.5L621.9,643.4L624,645.9L624.8,643L625.6,640.1L629.4,638.9L631.9,640.9L634.3,643.8L636,646.3L636.4,643.8L634.8,639.3L638.5,639.7L641,642.2L642.6,640.5L644.7,638L646.8,639.3L650.5,638.5L650.1,633.9L652.6,632.3L655.1,633.1L656.7,636L657.6,637.6L660.9,637.6L663.4,636L665.9,635.2L663.8,637.6L662.1,640.5L665,641.3L665.5,645.5L667.9,645.9L669.2,648.8L672.5,649.2L675,650.8L673.8,652.9L675,655.3L675.8,657.8L673.3,659.5L672.9,663.2L670,664.4L668.4,664.8L667.5,668.5L665.9,670.2L662.6,671.4L658.4,672.7L655.1,674.7L651.8,676.8L648.5,680.1L645.1,680.5L640.2,681.7L638.1,683.4L638.1,685.4L634.3,687.1L631,687.3L626,686.8L621.9,685L617.8,683.8L615.7,682.6L616.9,680.9L613.6,680.5L611.1,679.7L610.3,678.4L607.8,679.2L606.1,680.1L602,679.7L597.8,680.1L596.6,676L598.7,677.2L601.2,676.8L603.2,675.1L604.9,672.7L606.1,670.6L603.2,671.8L603.6,668.9L606.1,666.1L603.2,667.7L600.7,666.9L601.2,664.8L599.5,663.6L595.3,663.6L591.2,663.2L587.9,664.3L585.8,662.4L587.9,661.1L592,659.9L595.3,659.5L597.8,658.6L602,658.5L605.3,657.8L605.3,656.6L602,656.6L598.7,656.2L601.2,654.5L603.6,652.9L604.5,651.6L602,650.8L598.7,650L594.5,650L590.4,651.2L586.6,652.5L584.6,651.2ZM935.7,598L933.6,598L930.7,599.3L926.6,602.2L923.2,604.2L924.1,606.7L919.9,606.7L917.4,608.3L918.3,611.6L920.7,611.6L919.9,613.3L917.4,614.5L916.6,616.6L914.1,618.6L914.1,620.7L910.8,623.2L907.5,624L907.1,626.5L904.1,628.9L903.3,633.1L904.1,635.5L901.7,638.8L899.2,642.1L897.5,645.4L895.8,649.5L894.2,653.7L891.7,658.6L888.4,660.3L888.4,663.6L885.1,666.5L880.9,669L879.3,672.7L877.6,675.2L875.9,678.4L873.5,680.9L872.6,683.4L869.3,685L866.8,683.8L864.3,685L865.2,687.5L861.8,690L860.2,692.5L855.2,692.9L851,694.5L849.4,697.4L848.6,699.9L845.2,701.1L843.6,704L841.9,708.1L840.3,711L834.5,711.4L833.6,715.5L834.5,719.7L834.9,722.9L834,727.1L834.5,731.2L833.2,734.5L835.3,737.8L836.1,741.9L835.3,742.8L835.3,745.3L836.1,748.6L834.9,752.7L837.8,750.2L839.8,748.6L840.3,752.7L836.9,755.1L835.7,758.4L835.7,762.2L839.4,760.9L841.9,759.3L841.9,763.4L842.7,765.9L839.4,765L838.2,769.2L839.4,772.5L841.9,775.3L845.2,777.4L847.7,778.6L847.7,781.9L851.9,783.2L856,783.2L860.2,781.1L863.5,779.5L866.8,775.7L870.1,771.6L872.6,768.7L875.1,765.9L877.6,765.4L880.1,764.6L880.9,761.7L881.8,760.1L880.9,756.8L881.3,753.9L882.6,753.9L883,756.8L882.6,759.7L884.2,762.2L886.3,763.4L888.8,763.8L886.7,765L887.1,769.2L887.6,773.3L888.4,777.4L890.5,781.5L891.7,786.5L893.4,790.6L893.8,793.9L895.8,798L897.5,801.3L900,804.6L902.1,807.9L901.7,809.5L900,810.4L900,812.8L898.8,814.5L899.6,817L900.8,819.4L902.1,822.7L902.5,825.2L902.1,828.5L905,829.3L908.3,828.9L912.4,828.1L914.1,826.4L913.3,823.5L913.7,820.3L915.8,817.8L918.3,815.3L921.6,814.9L924.9,814.5L926.6,815.7L929,813.2L930.3,809.5L931.5,806.2L932.8,802.1L933.2,795.5L935.7,795.5ZM929,582.8L928.2,584.4L924.9,586.9L923.6,588.6L924.9,591L923.2,594.3L920.7,597.2L916.6,598.4L914.1,600.1L912.4,600.9L908.3,600.5L905,602.6L902.9,605L904.1,605.9L908.3,604.6L913.3,603L917.4,600.9L922.4,600.1L926.6,599.3L929.9,598.4L935.7,596L935.7,591.9L933.2,591.9L930.7,590.2L928.2,591L927.4,587.7L929.5,584.4ZM914.5,593.1L917.4,591.4L920.3,587.7L922,590.2L923.2,592.7L920.7,594.3L916.6,593.9ZM881.8,787.7L880.1,789.8L876.8,790.6L875.1,793.1L873.5,796.4L870.1,797.6L866,798.4L863.5,800.5L861.8,804.6L862.7,806.2L860.6,807.5L860.8,812L861,817L860.6,821.1L860.6,826.1L865.2,829.4L864.3,832.7L862.7,836L861.8,839.3L863.5,840.9L866,841.7L866.8,844.2L865.2,847.5L866.8,850L866.8,853.3L868.5,855.7L866,855.7L864.3,858.2L862.7,860.7L860.6,859L858.5,858.2L854.4,858.6L851.9,860.7L851.5,863.2L848.6,862.7L845.2,863.6L841.9,863.6L838.6,865.6L836.9,869.7L832.8,873L831.1,876.3L830.7,881.3L828.6,886.2L826.2,889.5L824.9,892.8L826.6,895.3L827.4,897.8L830.3,898.6L833.6,898.2L835.3,901.1L837.8,901.9L840.7,903.9L840.7,910.1L935.7,910.1L935.7,845L933.6,845L930.7,847.5L924.9,850L919.1,852.4L914.9,854.9L912.4,853.7L909.1,851.6L905.8,849.6L908.3,846.7L908.3,843.4L905.8,841.7L904.1,843.4L903.3,845.9L898.3,845.9L896.7,848.3L895,850.4L892.5,851.2L890.5,853.7L888.4,854.5L883.8,852.9L885.5,850.8L886.3,847.9L885.1,847.1L881.8,847.5L878.4,846.3L876.8,844.2L877.2,841.7L875.9,839.3L874.3,837.6L874.7,835.1L872.6,834.3L874.3,831L874.3,827.7L875.9,824.4L877.6,822L879.3,818.7L879.3,815.3L880.9,813.7L882.6,814.1L885.1,812.8L885.5,810.4L883.8,808.3L881.8,808.7L880.1,807.9L879.7,803.8L880.1,800.5L880.9,797.2L881.8,793.9L881.3,790.6ZM875.9,826.9L879.3,825.2L882.6,826.1L883.4,829.4L883,833.1L880.9,834.7L877.6,833.5L876.4,830.2ZM886.3,822.7L888.4,820.3L890.5,818.6L893.4,818.2L896.7,816.1L898.8,817L899.2,820.3L897.9,824.4L895.8,826.4L896.7,829.3L895,831.8L893.8,833.4L893.8,839.3L892.5,837.6L891.7,833.5L890,831.8L887.6,830.2L886.7,826.1L885.9,822ZM885.9,836.8L888.4,837.6L891.7,839.7L892.1,841.3L889.6,842.1L886.7,840.5L885.5,838.4ZM883,835.5L884.7,835.5L883.4,839.3L882.6,838.8ZM917.4,831L919.1,831L920.7,833.1L920.7,834.7L918.3,834.3L917.4,832.7ZM748.1,771.6L751.4,772.5L756.4,772L760.5,771.2L763,770.8L765.1,772L765.5,774.1L764.7,776.6L762.2,779.1L760.1,781.5L758.1,784L757.2,786.5L757.2,788.9L761,788.1L765.5,788L770.5,788.1L775.5,788.5L776.3,791.4L775.1,794.7L773.8,798L772.6,802.1L771.3,805.4L769.7,808.7L767.2,811.2L769.3,813.7L766.4,815.3L764.7,817.8L767.2,817L769.7,817.8L773,819.4L774.6,821.9L777.1,825.2L778,829.3L778.8,833.4L780,837.6L782.1,841.7L782.9,842.6L786.3,844.2L787.9,847.5L790.4,850.8L790,854.1L792.1,858.2L792.5,861.5L794.1,865.6L794.6,868.9L792.5,872.2L793.7,873.9L796.2,871.4L799.5,871.4L802.8,872.6L805.3,874.7L806.6,878L806.2,882.1L805.3,886.2L803.7,889.5L801.2,892.8L799.5,895.3L797,897.8L798.7,899.8L803.7,899.4L804.1,902.7L802,905.2L799.5,907.7L799.5,910.5L751.8,910.5L752.2,906.8L754.7,906L755.6,903.1L759.7,902.7L764.7,902.7L765.5,900.2L767.2,896.9L763.9,899.4L760.5,899.8L758,897.4L754.7,896.9L753.9,894.9L751.4,894.5L748.1,896.5L746.4,893.6L745.6,889.9L748.9,887.9L753.1,885.4L755.6,882.9L755.6,876.3L754.7,873.5L750.2,875.1L750.6,873.9L753.1,871.4L753.9,868.9L751.8,865.6L753.1,864L755.6,866.5L758,866.5L761.4,865.2L764.7,863.2L765.1,859.9L765.1,855.7L766.3,852L764.7,852.4L763,850.8L761.4,847.5L760.1,844.2L761.4,840.1L762.2,836.8L760.5,837.6L757.2,840.1L753.9,840.9L750.6,840.1L748.5,841.7L746.4,837.6L747.3,835.1L748.9,831L750.6,826.9L748.9,823.6L747.3,822L748.9,821.1L748.1,819.4L746.9,821.9L744.8,823.6L744.4,826.9L743.9,830.1L741,830.1L741.9,826L742.3,821.9L742.7,817.8L743.1,814.5L743.9,811.2L741.5,810.4L740.6,812.4L737.7,812L738.1,809.1L736.9,807.1L737.7,804.6L740.6,803.8L741.9,800.5L743.1,798.8L742.3,796.4L739.8,795.5L737.7,793.9L735.6,793.9L733.2,792.7L735.6,789.8L737.3,788.9L739,792.2L741,793.1L741,788.9L741.9,784.8L743.9,784L744.4,781.5L745.6,779.1L746.9,775.8ZM735.6,821.9L738.1,820.3L740.6,817.8L742.3,816.1L742.7,818.6L740.6,820.3L738.6,821.9L738.1,824.4L736.9,824.4ZM730.7,780.7L732.3,779.1L735.6,775.8L737.7,774.5L738,776.6L736.5,780.7L735.6,783.2L733.2,784.8L731.1,786.5L730.7,784ZM726.4,788.9L728.2,788.8L730.3,789.8L730,790.8L727.8,790.6ZM727.4,793.9L728.6,793.9L728.8,798L727.5,798.2ZM726.1,799.7L727.4,799.7L727.4,800.9L726.1,800.9ZM750.6,851.6L751.8,848.3L753.5,846.7L753.9,848.7L752.7,851.2L751,852ZM728.2,830.2L730.7,832.3L734,831.8L737.3,831.4L739,833.5L739.4,836L741.5,838.8L741,841.7L743.1,842.6L743.9,845L742.7,847.9L740.6,850L739.8,852.4L736.9,854.1L737.3,858.2L738.1,862.3L738.1,866.5L739,870.6L738.5,874.7L737.7,878.8L736.5,882.1L735.6,882.9L736.9,885L733.2,885.8L729,886.2L726.5,887.9L724,890.4L721.5,892L719,890.4L718.6,893.6L715.7,896.1L713.2,897.4L709.9,897.4L707.4,898.2L707,896.1L709.1,894.5L704.9,894.9L705.8,892.8L702,892L703.3,889.5L706.2,887.1L702.4,885.8L703.7,883.8L706.6,882.9L707,880.5L708.3,878L713.2,876.3L715.7,876.8L712.4,878.4L708.3,878.8L707.4,877.6L709.9,874.7L710.7,871.4L712.4,868.9L714.9,868.1L714.1,866.9L709.9,866.9L706.6,864.8L704.1,862.3L706.2,861.5L706.2,859L708.7,856.6L705.8,855.7L704.9,854.1L702.4,853.7L704.9,853.3L705.8,850.8L704.5,849.1L706.6,847.9L710.7,847.9L712.8,849.1L716.6,848.7L717.8,845.9L719.9,843.4L718.2,841.7L715.7,841.3L717.4,839.3L719.5,837.6L719,836L720.3,832.7L724,831.8L725.7,831L725.3,835.1L726.9,835.1Z"/><path fill="#FFE529" stroke="#FFE529" stroke-width="0.25" d="M807.97,570.80h8.58v8.87h-8.58zM842.30,570.80h8.58v8.87h-8.58zM842.30,579.67h8.58v8.87h-8.58zM773.63,588.54h8.58v8.87h-8.58zM756.46,597.41h25.75v8.87h-25.75zM893.81,597.41h8.58v8.87h-8.58zM910.98,606.28h8.58v8.87h-8.58zM799.38,615.15h8.58v8.87h-8.58zM893.81,615.15h8.58v8.87h-8.58zM730.71,624.02h8.58v8.87h-8.58zM782.22,624.02h25.75v8.87h-25.75zM807.97,632.89h8.58v8.87h-8.58zM687.79,641.76h8.58v8.87h-8.58zM790.80,641.76h17.17v8.87h-17.17zM816.55,641.76h17.17v8.87h-17.17zM773.63,650.63h17.17v8.87h-17.17zM799.38,650.63h8.58v8.87h-8.58zM816.55,650.63h17.17v8.87h-17.17zM567.62,659.50h8.58v8.87h-8.58zM687.79,659.50h8.58v8.87h-8.58zM704.96,659.50h8.58v8.87h-8.58zM782.22,659.50h34.34v8.87h-34.34zM739.30,668.37h8.58v8.87h-8.58zM782.22,668.37h8.58v8.87h-8.58zM807.97,668.37h8.58v8.87h-8.58zM644.87,677.24h8.58v8.87h-8.58zM807.97,677.24h17.17v8.87h-17.17zM816.55,686.11h8.58v8.87h-8.58zM627.70,694.98h8.58v8.87h-8.58zM773.63,694.98h17.17v8.87h-17.17zM799.38,694.98h17.17v8.87h-17.17zM799.38,703.85h8.58v8.87h-8.58zM825.14,712.72h8.58v8.87h-8.58zM790.80,721.59h8.58v8.87h-8.58zM807.97,739.33h8.58v8.87h-8.58zM833.72,748.20h8.58v8.87h-8.58zM739.30,765.94h8.58v8.87h-8.58zM704.96,819.16h8.58v8.87h-8.58z"/><path fill="#FFA500" stroke="#FFA500" stroke-width="0.25" d="M833.72,570.80h8.58v8.87h-8.58zM790.80,597.41h17.17v8.87h-17.17zM782.22,606.28h17.17v8.87h-17.17zM747.88,615.15h8.58v8.87h-8.58zM790.80,615.15h8.58v8.87h-8.58zM739.30,624.02h8.58v8.87h-8.58zM773.63,624.02h8.58v8.87h-8.58zM825.14,624.02h8.58v8.87h-8.58zM756.46,632.89h8.58v8.87h-8.58zM773.63,632.89h8.58v8.87h-8.58zM790.80,632.89h8.58v8.87h-8.58zM825.14,632.89h8.58v8.87h-8.58zM747.88,641.76h8.58v8.87h-8.58zM773.63,641.76h8.58v8.87h-8.58zM807.97,641.76h8.58v8.87h-8.58zM679.21,650.63h8.58v8.87h-8.58zM765.05,650.63h8.58v8.87h-8.58zM790.80,650.63h8.58v8.87h-8.58zM807.97,650.63h8.58v8.87h-8.58zM696.38,659.50h8.58v8.87h-8.58zM816.55,659.50h8.58v8.87h-8.58zM662.04,668.37h8.58v8.87h-8.58zM790.80,668.37h17.17v8.87h-17.17zM816.55,668.37h8.58v8.87h-8.58zM653.46,677.24h8.58v8.87h-8.58zM790.80,677.24h17.17v8.87h-17.17zM601.95,686.11h17.17v8.87h-17.17zM627.70,686.11h8.58v8.87h-8.58zM790.80,686.11h25.75v8.87h-25.75zM790.80,694.98h8.58v8.87h-8.58zM833.72,694.98h8.58v8.87h-8.58zM782.22,703.85h17.17v8.87h-17.17zM807.97,703.85h8.58v8.87h-8.58zM799.38,712.72h17.17v8.87h-17.17zM807.97,730.46h8.58v8.87h-8.58zM747.88,739.33h8.58v8.87h-8.58zM730.71,757.07h8.58v8.87h-8.58zM765.05,757.07h8.58v8.87h-8.58zM722.13,765.94h8.58v8.87h-8.58zM790.80,765.94h8.58v8.87h-8.58zM782.22,774.81h8.58v8.87h-8.58zM704.96,792.55h8.58v8.87h-8.58zM704.96,810.29h8.58v8.87h-8.58z"/><path fill="#FF0000" stroke="#FF0000" stroke-width="0.25" d="M756.46,606.28h8.58v8.87h-8.58zM739.30,615.15h8.58v8.87h-8.58zM773.63,615.15h8.58v8.87h-8.58zM765.05,624.02h8.58v8.87h-8.58zM807.97,624.02h17.17v8.87h-17.17zM799.38,632.89h8.58v8.87h-8.58zM816.55,632.89h8.58v8.87h-8.58zM765.05,641.76h8.58v8.87h-8.58zM782.22,641.76h8.58v8.87h-8.58zM756.46,650.63h8.58v8.87h-8.58zM679.21,659.50h8.58v8.87h-8.58zM739.30,659.50h8.58v8.87h-8.58zM670.62,668.37h17.17v8.87h-17.17zM825.14,668.37h8.58v8.87h-8.58zM670.62,677.24h17.17v8.87h-17.17zM782.22,677.24h8.58v8.87h-8.58zM584.78,686.11h8.58v8.87h-8.58zM619.12,686.11h8.58v8.87h-8.58zM782.22,686.11h8.58v8.87h-8.58zM816.55,712.72h8.58v8.87h-8.58zM773.63,721.59h8.58v8.87h-8.58zM825.14,721.59h8.58v8.87h-8.58zM773.63,730.46h25.75v8.87h-25.75zM756.46,739.33h42.92v8.87h-42.92zM739.30,748.20h25.75v8.87h-25.75zM782.22,748.20h17.17v8.87h-17.17zM722.13,757.07h8.58v8.87h-8.58zM739.30,757.07h8.58v8.87h-8.58zM756.46,757.07h8.58v8.87h-8.58zM773.63,757.07h25.75v8.87h-25.75zM730.71,765.94h8.58v8.87h-8.58zM773.63,765.94h17.17v8.87h-17.17zM713.54,774.81h17.17v8.87h-17.17zM713.54,783.68h8.58v8.87h-8.58zM713.54,801.42h8.58v8.87h-8.58zM696.38,836.90h8.58v8.87h-8.58z"/><path fill="#6B181C" stroke="#6B181C" stroke-width="0.25" d="M910.98,588.54h8.58v8.87h-8.58zM902.39,597.41h17.17v8.87h-17.17zM799.38,606.28h8.58v8.87h-8.58zM902.39,606.28h8.58v8.87h-8.58zM756.46,615.15h8.58v8.87h-8.58zM816.55,615.15h8.58v8.87h-8.58zM756.46,624.02h8.58v8.87h-8.58zM765.05,632.89h8.58v8.87h-8.58zM756.46,641.76h8.58v8.87h-8.58zM567.62,650.63h8.58v8.87h-8.58zM687.79,650.63h8.58v8.87h-8.58zM670.62,659.50h8.58v8.87h-8.58zM756.46,659.50h8.58v8.87h-8.58zM584.78,668.37h8.58v8.87h-8.58zM662.04,677.24h8.58v8.87h-8.58zM644.87,686.11h8.58v8.87h-8.58zM825.14,686.11h17.17v8.87h-17.17zM610.54,694.98h8.58v8.87h-8.58zM653.46,694.98h8.58v8.87h-8.58zM816.55,694.98h17.17v8.87h-17.17zM816.55,703.85h8.58v8.87h-8.58zM833.72,703.85h8.58v8.87h-8.58zM756.46,712.72h8.58v8.87h-8.58zM782.22,721.59h8.58v8.87h-8.58zM799.38,721.59h17.17v8.87h-17.17zM765.05,730.46h8.58v8.87h-8.58zM799.38,730.46h8.58v8.87h-8.58zM825.14,730.46h8.58v8.87h-8.58zM799.38,739.33h8.58v8.87h-8.58zM825.14,739.33h17.17v8.87h-17.17zM730.71,748.20h8.58v8.87h-8.58zM765.05,748.20h17.17v8.87h-17.17zM747.88,757.07h8.58v8.87h-8.58zM773.63,774.81h8.58v8.87h-8.58zM790.80,774.81h8.58v8.87h-8.58zM704.96,783.68h8.58v8.87h-8.58zM790.80,783.68h8.58v8.87h-8.58zM704.96,828.03h8.58v8.87h-8.58zM687.79,872.38h8.58v8.87h-8.58z"/>
<path fill="#C6C8C8" d="M777.7,738.8L779.2,737.3L781.1,735.8L783.4,733.3L784.6,733.5L784.6,735L783.4,737.3L782.5,739.2L782.3,741.5L781.7,743.8L780.7,746.4L779.6,746L778.1,744.1L777.9,742.2L778.4,740.7Z"/>
<path class="ez" d="M681.6,539.9L679.1,556.4L675.8,572.9L678.3,577.8M678.3,577.8L676.6,582.8L654.2,589.4L631,596.8L607.8,603.4L591.2,609.1L576.2,615.7L559.6,625.6L543.9,638L537.2,650.4L532.2,666.8L527.3,689.1L531.4,698.1L538.1,711.3L548,722.9L559.6,732.8L567.9,737L584.5,741.9L604.4,747.7L614.4,749L637.6,746.9L654.2,739.5L672.5,733.7M678.3,577.8L687.4,579.5L700.7,583.6L712.3,589.4L722.2,597.6L730.5,607.5L735.5,617.4L738.8,625.6L742.2,633.9L743.8,646.2M743.8,646.2L737.2,650.4L720.6,665.2L700.7,685L687.4,701.5L679.1,714.6L672.5,732.8L672.5,733.7M672.5,733.7L678.3,745.2L678.8,751L674.1,751.8L668.3,762.5L665,774.1L664.2,787.3L666.7,800.5L671.6,804.6L664.2,816.9L657.5,830.1L655,843.3L655,859.8L654.2,874.6L654.2,891.1L656.7,910.1M678.3,745.2L692.4,747.7L714,748L728.9,744.4L750.5,741.1L750.6,741.1L762.2,718L767.2,709.7L777.1,693.2L787.1,678.4M743.9,646.2L758.9,650.4L770.5,656.9L780.4,663.5L787.1,669.3L787.1,678.4M787.1,678.4L792.1,688.3L798.7,699.8L802.8,711.3L807,724.5M802.8,711.3L834.4,711.3M904.1,539.9L913.2,549.8L929,556.4L929,570.4L860.1,605L860.1,623.5L885.8,623.5L894.9,614.9L899.9,611.6M803.7,909.7L805.3,908.1L812,904.4L818.7,900.2L821.2,899.4L825.3,899.4L828.6,902.7L827.8,906M807.2,725.1L806,725.5L795.3,726.3L790.3,727.6L783.8,731.6L782.3,733.9L781.5,736.9L782.3,740.7L780.7,747.6L779.2,752.1L781.5,754.4L781.5,757.8L778.8,760.1L775.4,759.7L774.2,759L773.9,762L772.7,765.1L771.9,768.9L769.3,770.4L766.6,771.1L763.5,768.9L762,767.3L766.6,766.6L772.3,765.4"/>
</g>
<rect class="bd" x="510.2" y="541.5" width="424" height="370.5"/>
<path class="tk" d="M533.3,912.4v7.4M619.1,912.4v7.4M705,912.4v7.4M790.8,912.4v7.4M876.6,912.4v7.4"/>
<clipPath id="cA23"><rect x="949.5" y="541.5" width="424" height="370.5"/></clipPath>
<g clip-path="url(#cA23)">
<path class="ld" d="M948.8,540L997.1,540L997.1,542.9L1002.1,544L1007.1,544.3L1009.6,546.2L1010,549.2L1007.9,551.2L1003.8,553.3L997.9,553.5L992.1,553.3L986.7,552.9L990,555.8L989.6,558.7L987.1,560.4L981.3,562.5L987.1,563.7L993.8,563.7L998.8,563.3L1001.3,562.5L1002.5,564.1L997.9,566.2L994.6,568.7L992.9,570.8L996.3,570.8L997.9,568.3L1002.1,567.1L1007.1,566.2L1011.3,565.1L1014.6,565.4L1018.8,566.6L1023.8,568.3L1028.8,569.1L1035.4,569.1L1039.6,569.1L1037.1,571.6L1032.1,573.7L1026.2,575.8L1026.7,578.3L1022.1,578.7L1021.2,581.2L1017.9,583.3L1013.8,584.6L1015.4,586.2L1010.4,589.1L1005.4,592L1000.4,594.1L993.8,596.2L987.1,597.9L980.4,600.4L974.6,600.4L971.3,601.6L966.3,602.5L967.1,604.1L963,604.8L959.6,603.3L956.3,600.8L953,598.7L953.8,601.6L952.1,602.5L954.2,604.5L953.8,606.6L951.3,608.7L948.8,609.1ZM1010.4,540L1039.6,540L1039.6,542.5L1037.9,544.2L1037.9,549.2L1036.7,556.7L1036.7,562.5L1032.1,563.1L1028.8,562.9L1025.8,561.2L1023.8,558.3L1022.5,555L1021.7,551.2L1018.8,548.7L1015.4,547.5L1012.1,545.4L1010.4,543.3ZM1038.7,545.4L1043.7,545L1044.6,551.7L1045,557.5L1045,562.5L1042.1,563.1L1038.3,562.1L1038.3,556.7L1038.3,549.2ZM1020.9,650.4L1024.6,646.3L1027.1,645.5L1027.1,641.3L1030.4,638.9L1033.3,640.1L1032.9,635.6L1036.2,634.3L1038.7,634.7L1041.2,636.8L1044.5,639.3L1047,641.3L1048.2,643.8L1047.8,646.7L1045.7,647.5L1047,650L1049.5,652.9L1049.9,654.5L1051.1,650.4L1052.8,647.9L1055.3,648.8L1056.1,643.8L1057,640.1L1059,640.5L1061.1,643.4L1063.2,645.9L1064,643L1064.8,640.1L1068.6,638.9L1071.1,640.9L1073.5,643.8L1075.2,646.3L1075.6,643.8L1074,639.3L1077.7,639.7L1080.2,642.2L1081.8,640.5L1083.9,638L1086,639.3L1089.7,638.5L1089.3,633.9L1091.8,632.3L1094.3,633.1L1095.9,636L1096.8,637.6L1100.1,637.6L1102.6,636L1105.1,635.2L1103,637.6L1101.3,640.5L1104.2,641.3L1104.7,645.5L1107.1,645.9L1108.4,648.8L1111.7,649.2L1114.2,650.8L1113,652.9L1114.2,655.3L1115,657.8L1112.5,659.5L1112.1,663.2L1109.2,664.4L1107.6,664.8L1106.7,668.5L1105.1,670.2L1101.8,671.4L1097.6,672.7L1094.3,674.7L1091,676.8L1087.7,680.1L1084.3,680.5L1079.4,681.7L1077.3,683.4L1077.3,685.4L1073.5,687.1L1070.2,687.3L1065.2,686.8L1061.1,685L1057,683.8L1054.9,682.6L1056.1,680.9L1052.8,680.5L1050.3,679.7L1049.5,678.4L1047,679.2L1045.3,680.1L1041.2,679.7L1037,680.1L1035.8,676L1037.9,677.2L1040.4,676.8L1042.4,675.1L1044.1,672.7L1045.3,670.6L1042.4,671.8L1042.8,668.9L1045.3,666.1L1042.4,667.7L1039.9,666.9L1040.4,664.8L1038.7,663.6L1034.5,663.6L1030.4,663.2L1027.1,664.3L1025,662.4L1027.1,661.1L1031.2,659.9L1034.5,659.5L1037,658.6L1041.2,658.5L1044.5,657.8L1044.5,656.6L1041.2,656.6L1037.9,656.2L1040.4,654.5L1042.8,652.9L1043.7,651.6L1041.2,650.8L1037.9,650L1033.7,650L1029.6,651.2L1025.8,652.5L1023.8,651.2ZM1374.9,598L1372.8,598L1369.9,599.3L1365.8,602.2L1362.4,604.2L1363.3,606.7L1359.1,606.7L1356.6,608.3L1357.5,611.6L1359.9,611.6L1359.1,613.3L1356.6,614.5L1355.8,616.6L1353.3,618.6L1353.3,620.7L1350,623.2L1346.7,624L1346.3,626.5L1343.3,628.9L1342.5,633.1L1343.3,635.5L1340.9,638.8L1338.4,642.1L1336.7,645.4L1335,649.5L1333.4,653.7L1330.9,658.6L1327.6,660.3L1327.6,663.6L1324.3,666.5L1320.1,669L1318.5,672.7L1316.8,675.2L1315.1,678.4L1312.7,680.9L1311.8,683.4L1308.5,685L1306,683.8L1303.5,685L1304.4,687.5L1301,690L1299.4,692.5L1294.4,692.9L1290.2,694.5L1288.6,697.4L1287.8,699.9L1284.4,701.1L1282.8,704L1281.1,708.1L1279.5,711L1273.7,711.4L1272.8,715.5L1273.7,719.7L1274.1,722.9L1273.2,727.1L1273.7,731.2L1272.4,734.5L1274.5,737.8L1275.3,741.9L1274.5,742.8L1274.5,745.3L1275.3,748.6L1274.1,752.7L1277,750.2L1279,748.6L1279.5,752.7L1276.1,755.1L1274.9,758.4L1274.9,762.2L1278.6,760.9L1281.1,759.3L1281.1,763.4L1281.9,765.9L1278.6,765L1277.4,769.2L1278.6,772.5L1281.1,775.3L1284.4,777.4L1286.9,778.6L1286.9,781.9L1291.1,783.2L1295.2,783.2L1299.4,781.1L1302.7,779.5L1306,775.7L1309.3,771.6L1311.8,768.7L1314.3,765.9L1316.8,765.4L1319.3,764.6L1320.1,761.7L1321,760.1L1320.1,756.8L1320.5,753.9L1321.8,753.9L1322.2,756.8L1321.8,759.7L1323.4,762.2L1325.5,763.4L1328,763.8L1325.9,765L1326.3,769.2L1326.8,773.3L1327.6,777.4L1329.7,781.5L1330.9,786.5L1332.6,790.6L1333,793.9L1335,798L1336.7,801.3L1339.2,804.6L1341.3,807.9L1340.9,809.5L1339.2,810.4L1339.2,812.8L1338,814.5L1338.8,817L1340,819.4L1341.3,822.7L1341.7,825.2L1341.3,828.5L1344.2,829.3L1347.5,828.9L1351.6,828.1L1353.3,826.4L1352.5,823.5L1352.9,820.3L1355,817.8L1357.5,815.3L1360.8,814.9L1364.1,814.5L1365.8,815.7L1368.2,813.2L1369.5,809.5L1370.7,806.2L1372,802.1L1372.4,795.5L1374.9,795.5ZM1368.2,582.8L1367.4,584.4L1364.1,586.9L1362.8,588.6L1364.1,591L1362.4,594.3L1359.9,597.2L1355.8,598.4L1353.3,600.1L1351.6,600.9L1347.5,600.5L1344.2,602.6L1342.1,605L1343.3,605.9L1347.5,604.6L1352.5,603L1356.6,600.9L1361.6,600.1L1365.8,599.3L1369.1,598.4L1374.9,596L1374.9,591.9L1372.4,591.9L1369.9,590.2L1367.4,591L1366.6,587.7L1368.7,584.4ZM1353.7,593.1L1356.6,591.4L1359.5,587.7L1361.2,590.2L1362.4,592.7L1359.9,594.3L1355.8,593.9ZM1321,787.7L1319.3,789.8L1316,790.6L1314.3,793.1L1312.7,796.4L1309.3,797.6L1305.2,798.4L1302.7,800.5L1301,804.6L1301.9,806.2L1299.8,807.5L1300,812L1300.2,817L1299.8,821.1L1299.8,826.1L1304.4,829.4L1303.5,832.7L1301.9,836L1301,839.3L1302.7,840.9L1305.2,841.7L1306,844.2L1304.4,847.5L1306,850L1306,853.3L1307.7,855.7L1305.2,855.7L1303.5,858.2L1301.9,860.7L1299.8,859L1297.7,858.2L1293.6,858.6L1291.1,860.7L1290.7,863.2L1287.8,862.7L1284.4,863.6L1281.1,863.6L1277.8,865.6L1276.1,869.7L1272,873L1270.3,876.3L1269.9,881.3L1267.8,886.2L1265.4,889.5L1264.1,892.8L1265.8,895.3L1266.6,897.8L1269.5,898.6L1272.8,898.2L1274.5,901.1L1277,901.9L1279.9,903.9L1279.9,910.1L1374.9,910.1L1374.9,845L1372.8,845L1369.9,847.5L1364.1,850L1358.3,852.4L1354.1,854.9L1351.6,853.7L1348.3,851.6L1345,849.6L1347.5,846.7L1347.5,843.4L1345,841.7L1343.3,843.4L1342.5,845.9L1337.5,845.9L1335.9,848.3L1334.2,850.4L1331.7,851.2L1329.7,853.7L1327.6,854.5L1323,852.9L1324.7,850.8L1325.5,847.9L1324.3,847.1L1321,847.5L1317.6,846.3L1316,844.2L1316.4,841.7L1315.1,839.3L1313.5,837.6L1313.9,835.1L1311.8,834.3L1313.5,831L1313.5,827.7L1315.1,824.4L1316.8,822L1318.5,818.7L1318.5,815.3L1320.1,813.7L1321.8,814.1L1324.3,812.8L1324.7,810.4L1323,808.3L1321,808.7L1319.3,807.9L1318.9,803.8L1319.3,800.5L1320.1,797.2L1321,793.9L1320.5,790.6ZM1315.1,826.9L1318.5,825.2L1321.8,826.1L1322.6,829.4L1322.2,833.1L1320.1,834.7L1316.8,833.5L1315.6,830.2ZM1325.5,822.7L1327.6,820.3L1329.7,818.6L1332.6,818.2L1335.9,816.1L1338,817L1338.4,820.3L1337.1,824.4L1335,826.4L1335.9,829.3L1334.2,831.8L1333,833.4L1333,839.3L1331.7,837.6L1330.9,833.5L1329.2,831.8L1326.8,830.2L1325.9,826.1L1325.1,822ZM1325.1,836.8L1327.6,837.6L1330.9,839.7L1331.3,841.3L1328.8,842.1L1325.9,840.5L1324.7,838.4ZM1322.2,835.5L1323.9,835.5L1322.6,839.3L1321.8,838.8ZM1356.6,831L1358.3,831L1359.9,833.1L1359.9,834.7L1357.5,834.3L1356.6,832.7ZM1187.3,771.6L1190.6,772.5L1195.6,772L1199.7,771.2L1202.2,770.8L1204.3,772L1204.7,774.1L1203.9,776.6L1201.4,779.1L1199.3,781.5L1197.3,784L1196.4,786.5L1196.4,788.9L1200.2,788.1L1204.7,788L1209.7,788.1L1214.7,788.5L1215.5,791.4L1214.3,794.7L1213,798L1211.8,802.1L1210.5,805.4L1208.9,808.7L1206.4,811.2L1208.5,813.7L1205.6,815.3L1203.9,817.8L1206.4,817L1208.9,817.8L1212.2,819.4L1213.8,821.9L1216.3,825.2L1217.2,829.3L1218,833.4L1219.2,837.6L1221.3,841.7L1222.1,842.6L1225.5,844.2L1227.1,847.5L1229.6,850.8L1229.2,854.1L1231.3,858.2L1231.7,861.5L1233.3,865.6L1233.8,868.9L1231.7,872.2L1232.9,873.9L1235.4,871.4L1238.7,871.4L1242,872.6L1244.5,874.7L1245.8,878L1245.4,882.1L1244.5,886.2L1242.9,889.5L1240.4,892.8L1238.7,895.3L1236.2,897.8L1237.9,899.8L1242.9,899.4L1243.3,902.7L1241.2,905.2L1238.7,907.7L1238.7,910.5L1191,910.5L1191.4,906.8L1193.9,906L1194.8,903.1L1198.9,902.7L1203.9,902.7L1204.7,900.2L1206.4,896.9L1203.1,899.4L1199.7,899.8L1197.2,897.4L1193.9,896.9L1193.1,894.9L1190.6,894.5L1187.3,896.5L1185.6,893.6L1184.8,889.9L1188.1,887.9L1192.3,885.4L1194.8,882.9L1194.8,876.3L1193.9,873.5L1189.4,875.1L1189.8,873.9L1192.3,871.4L1193.1,868.9L1191,865.6L1192.3,864L1194.8,866.5L1197.2,866.5L1200.6,865.2L1203.9,863.2L1204.3,859.9L1204.3,855.7L1205.5,852L1203.9,852.4L1202.2,850.8L1200.6,847.5L1199.3,844.2L1200.6,840.1L1201.4,836.8L1199.7,837.6L1196.4,840.1L1193.1,840.9L1189.8,840.1L1187.7,841.7L1185.6,837.6L1186.5,835.1L1188.1,831L1189.8,826.9L1188.1,823.6L1186.5,822L1188.1,821.1L1187.3,819.4L1186.1,821.9L1184,823.6L1183.6,826.9L1183.1,830.1L1180.2,830.1L1181.1,826L1181.5,821.9L1181.9,817.8L1182.3,814.5L1183.1,811.2L1180.7,810.4L1179.8,812.4L1176.9,812L1177.3,809.1L1176.1,807.1L1176.9,804.6L1179.8,803.8L1181.1,800.5L1182.3,798.8L1181.5,796.4L1179,795.5L1176.9,793.9L1174.8,793.9L1172.4,792.7L1174.8,789.8L1176.5,788.9L1178.2,792.2L1180.2,793.1L1180.2,788.9L1181.1,784.8L1183.1,784L1183.6,781.5L1184.8,779.1L1186.1,775.8ZM1174.8,821.9L1177.3,820.3L1179.8,817.8L1181.5,816.1L1181.9,818.6L1179.8,820.3L1177.8,821.9L1177.3,824.4L1176.1,824.4ZM1169.9,780.7L1171.5,779.1L1174.8,775.8L1176.9,774.5L1177.2,776.6L1175.7,780.7L1174.8,783.2L1172.4,784.8L1170.3,786.5L1169.9,784ZM1165.6,788.9L1167.4,788.8L1169.5,789.8L1169.2,790.8L1167,790.6ZM1166.6,793.9L1167.8,793.9L1168,798L1166.7,798.2ZM1165.3,799.7L1166.6,799.7L1166.6,800.9L1165.3,800.9ZM1189.8,851.6L1191,848.3L1192.7,846.7L1193.1,848.7L1191.9,851.2L1190.2,852ZM1167.4,830.2L1169.9,832.3L1173.2,831.8L1176.5,831.4L1178.2,833.5L1178.6,836L1180.7,838.8L1180.2,841.7L1182.3,842.6L1183.1,845L1181.9,847.9L1179.8,850L1179,852.4L1176.1,854.1L1176.5,858.2L1177.3,862.3L1177.3,866.5L1178.2,870.6L1177.7,874.7L1176.9,878.8L1175.7,882.1L1174.8,882.9L1176.1,885L1172.4,885.8L1168.2,886.2L1165.7,887.9L1163.2,890.4L1160.7,892L1158.2,890.4L1157.8,893.6L1154.9,896.1L1152.4,897.4L1149.1,897.4L1146.6,898.2L1146.2,896.1L1148.3,894.5L1144.1,894.9L1145,892.8L1141.2,892L1142.5,889.5L1145.4,887.1L1141.6,885.8L1142.9,883.8L1145.8,882.9L1146.2,880.5L1147.5,878L1152.4,876.3L1154.9,876.8L1151.6,878.4L1147.5,878.8L1146.6,877.6L1149.1,874.7L1149.9,871.4L1151.6,868.9L1154.1,868.1L1153.3,866.9L1149.1,866.9L1145.8,864.8L1143.3,862.3L1145.4,861.5L1145.4,859L1147.9,856.6L1145,855.7L1144.1,854.1L1141.6,853.7L1144.1,853.3L1145,850.8L1143.7,849.1L1145.8,847.9L1149.9,847.9L1152,849.1L1155.8,848.7L1157,845.9L1159.1,843.4L1157.4,841.7L1154.9,841.3L1156.6,839.3L1158.7,837.6L1158.2,836L1159.5,832.7L1163.2,831.8L1164.9,831L1164.5,835.1L1166.1,835.1Z"/><path fill="#FFE529" stroke="#FFE529" stroke-width="0.25" d="M1221.42,615.15h8.58v8.87h-8.58zM1178.50,624.02h8.58v8.87h-8.58zM1204.25,624.02h8.58v8.87h-8.58zM1204.25,641.76h8.58v8.87h-8.58zM1230.00,641.76h8.58v8.87h-8.58zM1272.92,641.76h8.58v8.87h-8.58zM1230.00,659.50h17.17v8.87h-17.17zM1015.40,668.37h8.58v8.87h-8.58zM1247.17,668.37h8.58v8.87h-8.58zM1264.34,668.37h8.58v8.87h-8.58zM1109.82,677.24h8.58v8.87h-8.58zM1023.98,686.11h17.17v8.87h-17.17zM1066.90,686.11h17.17v8.87h-17.17zM1238.58,694.98h8.58v8.87h-8.58zM1221.42,703.85h8.58v8.87h-8.58zM1247.17,703.85h8.58v8.87h-8.58zM1195.66,712.72h17.17v8.87h-17.17zM1238.58,712.72h8.58v8.87h-8.58zM1204.25,757.07h8.58v8.87h-8.58zM1161.33,774.81h8.58v8.87h-8.58zM1126.99,872.38h8.58v8.87h-8.58z"/><path fill="#FFA500" stroke="#FFA500" stroke-width="0.25" d="M1272.92,588.54h8.58v8.87h-8.58zM1187.08,615.15h8.58v8.87h-8.58zM1212.83,615.15h8.58v8.87h-8.58zM1247.17,624.02h8.58v8.87h-8.58zM1195.66,632.89h8.58v8.87h-8.58zM1238.58,632.89h8.58v8.87h-8.58zM1006.82,650.63h8.58v8.87h-8.58zM1135.58,650.63h8.58v8.87h-8.58zM1161.33,650.63h8.58v8.87h-8.58zM1212.83,650.63h34.34v8.87h-34.34zM1264.34,650.63h8.58v8.87h-8.58zM963.90,650.63h8.58v8.87h-8.58zM1118.41,659.50h8.58v8.87h-8.58zM1221.42,659.50h8.58v8.87h-8.58zM1247.17,659.50h8.58v8.87h-8.58zM1221.42,668.37h17.17v8.87h-17.17zM1255.75,668.37h8.58v8.87h-8.58zM1221.42,677.24h8.58v8.87h-8.58zM1041.15,686.11h8.58v8.87h-8.58zM1092.66,686.11h8.58v8.87h-8.58zM1195.66,686.11h8.58v8.87h-8.58zM1238.58,686.11h8.58v8.87h-8.58zM1092.66,694.98h8.58v8.87h-8.58zM1272.92,703.85h8.58v8.87h-8.58zM1247.17,712.72h8.58v8.87h-8.58zM1212.83,721.59h8.58v8.87h-8.58zM1238.58,721.59h8.58v8.87h-8.58zM1212.83,730.46h8.58v8.87h-8.58zM1247.17,730.46h8.58v8.87h-8.58zM1204.25,739.33h8.58v8.87h-8.58zM1178.50,757.07h8.58v8.87h-8.58zM1195.66,757.07h8.58v8.87h-8.58zM1212.83,757.07h8.58v8.87h-8.58zM1272.92,757.07h8.58v8.87h-8.58zM1169.91,765.94h8.58v8.87h-8.58zM1187.08,765.94h8.58v8.87h-8.58zM1212.83,765.94h8.58v8.87h-8.58zM1144.16,774.81h17.17v8.87h-17.17zM1152.74,783.68h8.58v8.87h-8.58zM1144.16,792.55h8.58v8.87h-8.58zM1144.16,828.03h8.58v8.87h-8.58zM1135.58,836.90h8.58v8.87h-8.58z"/><path fill="#FF0000" stroke="#FF0000" stroke-width="0.25" d="M1247.17,570.80h8.58v8.87h-8.58zM1187.08,606.28h8.58v8.87h-8.58zM1230.00,606.28h8.58v8.87h-8.58zM1230.00,615.15h8.58v8.87h-8.58zM1195.66,624.02h8.58v8.87h-8.58zM1238.58,624.02h8.58v8.87h-8.58zM1255.75,624.02h8.58v8.87h-8.58zM1212.83,632.89h8.58v8.87h-8.58zM1230.00,632.89h8.58v8.87h-8.58zM1247.17,632.89h8.58v8.87h-8.58zM1195.66,641.76h8.58v8.87h-8.58zM1238.58,641.76h17.17v8.87h-17.17zM1118.41,650.63h17.17v8.87h-17.17zM1247.17,650.63h8.58v8.87h-8.58zM1126.99,659.50h8.58v8.87h-8.58zM1264.34,659.50h8.58v8.87h-8.58zM1023.98,668.37h8.58v8.87h-8.58zM1109.82,668.37h8.58v8.87h-8.58zM1152.74,668.37h8.58v8.87h-8.58zM1092.66,677.24h8.58v8.87h-8.58zM1230.00,677.24h25.75v8.87h-25.75zM1049.74,686.11h17.17v8.87h-17.17zM1084.07,686.11h8.58v8.87h-8.58zM1221.42,686.11h17.17v8.87h-17.17zM1247.17,686.11h8.58v8.87h-8.58zM1255.75,694.98h17.17v8.87h-17.17zM1238.58,703.85h8.58v8.87h-8.58zM1221.42,730.46h8.58v8.87h-8.58zM1187.08,739.33h17.17v8.87h-17.17zM1212.83,739.33h25.75v8.87h-25.75zM1272.92,739.33h8.58v8.87h-8.58zM1169.91,748.20h42.92v8.87h-42.92zM1221.42,748.20h8.58v8.87h-8.58zM1169.91,757.07h8.58v8.87h-8.58zM1187.08,757.07h8.58v8.87h-8.58zM1221.42,757.07h8.58v8.87h-8.58zM1152.74,765.94h17.17v8.87h-17.17zM1178.50,765.94h8.58v8.87h-8.58zM1221.42,765.94h8.58v8.87h-8.58zM1230.00,774.81h8.58v8.87h-8.58zM1144.16,783.68h8.58v8.87h-8.58zM1230.00,783.68h8.58v8.87h-8.58z"/><path fill="#6B181C" stroke="#6B181C" stroke-width="0.25" d="M1350.18,588.54h8.58v8.87h-8.58zM1212.83,597.41h8.58v8.87h-8.58zM1230.00,597.41h17.17v8.87h-17.17zM1350.18,597.41h8.58v8.87h-8.58zM1169.91,606.28h8.58v8.87h-8.58zM1341.59,606.28h8.58v8.87h-8.58zM1178.50,615.15h8.58v8.87h-8.58zM1238.58,615.15h8.58v8.87h-8.58zM1161.33,624.02h8.58v8.87h-8.58zM1212.83,624.02h8.58v8.87h-8.58zM1230.00,624.02h8.58v8.87h-8.58zM1187.08,632.89h8.58v8.87h-8.58zM1255.75,632.89h8.58v8.87h-8.58zM1126.99,641.76h8.58v8.87h-8.58zM1212.83,641.76h8.58v8.87h-8.58zM1204.25,650.63h8.58v8.87h-8.58zM1144.16,659.50h8.58v8.87h-8.58zM1101.24,668.37h8.58v8.87h-8.58zM1118.41,668.37h8.58v8.87h-8.58zM1212.83,668.37h8.58v8.87h-8.58zM1238.58,668.37h8.58v8.87h-8.58zM1255.75,686.11h8.58v8.87h-8.58zM1272.92,686.11h8.58v8.87h-8.58zM1049.74,694.98h17.17v8.87h-17.17zM1221.42,694.98h17.17v8.87h-17.17zM1247.17,694.98h8.58v8.87h-8.58zM1230.00,703.85h8.58v8.87h-8.58zM1264.34,712.72h8.58v8.87h-8.58zM1221.42,721.59h8.58v8.87h-8.58zM1204.25,730.46h8.58v8.87h-8.58zM1238.58,739.33h8.58v8.87h-8.58zM1264.34,739.33h8.58v8.87h-8.58zM1212.83,748.20h8.58v8.87h-8.58zM1230.00,748.20h8.58v8.87h-8.58zM1161.33,757.07h8.58v8.87h-8.58zM1230.00,757.07h8.58v8.87h-8.58zM1264.34,757.07h8.58v8.87h-8.58zM1230.00,765.94h8.58v8.87h-8.58zM1212.83,774.81h17.17v8.87h-17.17zM1152.74,801.42h8.58v8.87h-8.58zM1144.16,819.16h8.58v8.87h-8.58z"/>
<path fill="#C6C8C8" d="M1216.9,738.8L1218.4,737.3L1220.3,735.8L1222.6,733.3L1223.8,733.5L1223.8,735L1222.6,737.3L1221.7,739.2L1221.5,741.5L1220.9,743.8L1219.9,746.4L1218.8,746L1217.3,744.1L1217.1,742.2L1217.6,740.7Z"/>
<path class="ez" d="M1120.8,539.9L1118.3,556.4L1115,572.9L1117.5,577.8M1117.5,577.8L1115.8,582.8L1093.4,589.4L1070.2,596.8L1047,603.4L1030.4,609.1L1015.4,615.7L998.8,625.6L983.1,638L976.4,650.4L971.4,666.8L966.5,689.1L970.6,698.1L977.3,711.3L987.2,722.9L998.8,732.8L1007.1,737L1023.7,741.9L1043.6,747.7L1053.6,749L1076.8,746.9L1093.4,739.5L1111.7,733.7M1117.5,577.8L1126.6,579.5L1139.9,583.6L1151.5,589.4L1161.4,597.6L1169.7,607.5L1174.7,617.4L1178,625.6L1181.4,633.9L1183,646.2M1183,646.2L1176.4,650.4L1159.8,665.2L1139.9,685L1126.6,701.5L1118.3,714.6L1111.7,732.8L1111.7,733.7M1111.7,733.7L1117.5,745.2L1118,751L1113.3,751.8L1107.5,762.5L1104.2,774.1L1103.4,787.3L1105.9,800.5L1110.8,804.6L1103.4,816.9L1096.7,830.1L1094.2,843.3L1094.2,859.8L1093.4,874.6L1093.4,891.1L1095.9,910.1M1117.5,745.2L1131.6,747.7L1153.2,748L1168.1,744.4L1189.7,741.1L1189.8,741.1L1201.4,718L1206.4,709.7L1216.3,693.2L1226.3,678.4M1183.1,646.2L1198.1,650.4L1209.7,656.9L1219.6,663.5L1226.3,669.3L1226.3,678.4M1226.3,678.4L1231.3,688.3L1237.9,699.8L1242,711.3L1246.2,724.5M1242,711.3L1273.6,711.3M1343.3,539.9L1352.4,549.8L1368.2,556.4L1368.2,570.4L1299.3,605L1299.3,623.5L1325,623.5L1334.1,614.9L1339.1,611.6M1242.9,909.7L1244.5,908.1L1251.2,904.4L1257.9,900.2L1260.4,899.4L1264.5,899.4L1267.8,902.7L1267,906M1246.4,725.1L1245.2,725.5L1234.5,726.3L1229.5,727.6L1223,731.6L1221.5,733.9L1220.7,736.9L1221.5,740.7L1219.9,747.6L1218.4,752.1L1220.7,754.4L1220.7,757.8L1218,760.1L1214.6,759.7L1213.4,759L1213.1,762L1211.9,765.1L1211.1,768.9L1208.5,770.4L1205.8,771.1L1202.7,768.9L1201.2,767.3L1205.8,766.6L1211.5,765.4"/>
</g>
<rect class="bd" x="949.5" y="541.5" width="424" height="370.5"/>
<path class="tk" d="M972.5,912.4v7.4M1058.3,912.4v7.4M1144.2,912.4v7.4M1230,912.4v7.4M1315.8,912.4v7.4"/>
<clipPath id="cA31"><rect x="70.9" y="956.7" width="424.6" height="371.6"/></clipPath>
<g clip-path="url(#cA31)">
<path class="ld" d="M70.2,955L118.6,955L118.6,957.9L123.7,959L128.7,959.3L131.2,961.3L131.6,964.2L129.5,966.3L125.3,968.4L119.5,968.6L113.6,968.4L108.2,968L111.5,970.9L111.1,973.8L108.6,975.5L102.8,977.6L108.6,978.9L115.3,978.9L120.3,978.5L122.8,977.6L124.1,979.3L119.5,981.4L116.1,983.9L114.5,986L117.8,986L119.5,983.5L123.7,982.2L128.7,981.4L132.8,980.3L136.2,980.6L140.4,981.8L145.4,983.5L150.4,984.3L157.1,984.3L161.3,984.3L158.8,986.8L153.7,989L147.9,991L148.3,993.6L143.7,994L142.9,996.5L139.5,998.6L135.4,999.9L137,1001.5L132,1004.5L127,1007.4L122,1009.5L115.3,1011.6L108.6,1013.3L101.9,1015.8L96.1,1015.8L92.7,1017.1L87.7,1017.9L88.5,1019.6L84.4,1020.2L81,1018.7L77.7,1016.2L74.3,1014.1L75.2,1017.1L73.5,1017.9L75.6,1020L75.2,1022.1L72.7,1024.2L70.2,1024.6ZM132,955L161.3,955L161.3,957.5L159.6,959.2L159.6,964.2L158.3,971.7L158.3,977.6L153.7,978.3L150.4,978L147.5,976.4L145.4,973.4L144.1,970.1L143.3,966.3L140.4,963.8L137,962.5L133.7,960.4L132,958.3ZM160.4,960.4L165.4,960L166.3,966.7L166.7,972.6L166.7,977.6L163.8,978.3L160,977.2L160,971.7L160,964.2ZM142.5,1066.2L146.2,1062.1L148.7,1061.2L148.7,1057.1L152.1,1054.6L155,1055.8L154.6,1051.3L157.9,1050L160.4,1050.4L162.9,1052.5L166.2,1055L168.7,1057.1L170,1059.6L169.5,1062.5L167.5,1063.3L168.7,1065.8L171.2,1068.7L171.6,1070.4L172.9,1066.2L174.5,1063.7L177,1064.6L177.9,1059.6L178.7,1055.8L180.8,1056.2L182.9,1059.2L184.9,1061.6L185.8,1058.7L186.6,1055.8L190.4,1054.6L192.9,1056.7L195.4,1059.6L197,1062.1L197.4,1059.6L195.8,1055L199.5,1055.4L202,1057.9L203.7,1056.2L205.8,1053.8L207.9,1055L211.6,1054.2L211.2,1049.6L213.7,1047.9L216.2,1048.8L217.9,1051.7L218.7,1053.3L222,1053.3L224.5,1051.7L227,1050.9L224.9,1053.3L223.3,1056.2L226.2,1057.1L226.6,1061.2L229.1,1061.6L230.3,1064.6L233.7,1065L236.2,1066.6L234.9,1068.7L236.2,1071.2L237,1073.7L234.5,1075.4L234.1,1079.1L231.2,1080.3L229.5,1080.7L228.7,1084.5L227,1086.1L223.7,1087.4L219.5,1088.6L216.2,1090.7L212.9,1092.8L209.5,1096.1L206.2,1096.5L201.2,1097.8L199.1,1099.4L199.1,1101.5L195.4,1103.2L192,1103.4L187,1102.9L182.9,1101.1L178.7,1099.8L176.6,1098.6L177.9,1096.9L174.5,1096.5L172,1095.7L171.2,1094.4L168.7,1095.3L167.1,1096.1L162.9,1095.7L158.7,1096.1L157.5,1092L159.6,1093.2L162.1,1092.8L164.1,1091.1L165.8,1088.6L167.1,1086.6L164.1,1087.8L164.6,1084.9L167.1,1082L164.1,1083.7L161.6,1082.8L162.1,1080.7L160.4,1079.5L156.2,1079.5L152.1,1079.1L148.7,1080.2L146.6,1078.3L148.7,1077L152.9,1075.8L156.2,1075.4L158.7,1074.5L162.9,1074.4L166.2,1073.7L166.2,1072.4L162.9,1072.4L159.6,1072L162.1,1070.4L164.6,1068.7L165.4,1067.5L162.9,1066.6L159.6,1065.8L155.4,1065.8L151.2,1067L147.5,1068.3L145.4,1067ZM497.8,1013.5L495.7,1013.5L492.8,1014.7L488.7,1017.6L485.3,1019.7L486.2,1022.2L482,1022.2L479.5,1023.8L480.3,1027.2L482.8,1027.2L482,1028.8L479.5,1030.1L478.7,1032.1L476.2,1034.2L476.2,1036.3L472.8,1038.8L469.5,1039.6L469.1,1042.1L466.2,1044.6L465.3,1048.7L466.2,1051.2L463.7,1054.6L461.2,1057.9L459.5,1061.2L457.8,1065.3L456.2,1069.5L453.7,1074.5L450.4,1076.2L450.4,1079.5L447,1082.4L442.9,1084.9L441.2,1088.7L439.5,1091.1L437.9,1094.5L435.4,1097L434.5,1099.4L431.2,1101.1L428.7,1099.9L426.2,1101.1L427,1103.6L423.7,1106.1L422,1108.6L417,1109L412.9,1110.7L411.2,1113.6L410.4,1116.1L407,1117.3L405.4,1120.2L403.7,1124.4L402.1,1127.3L396.2,1127.7L395.4,1131.8L396.2,1136L396.6,1139.3L395.8,1143.5L396.2,1147.6L395,1150.9L397.1,1154.3L397.9,1158.4L397.1,1159.3L397.1,1161.8L397.9,1165.1L396.6,1169.3L399.6,1166.8L401.6,1165.1L402.1,1169.3L398.7,1171.7L397.5,1175.1L397.5,1178.8L401.2,1177.6L403.7,1175.9L403.7,1180.1L404.5,1182.5L401.2,1181.7L400,1185.9L401.2,1189.2L403.7,1192.1L407,1194.2L409.5,1195.4L409.5,1198.7L413.7,1200L417.9,1200L422,1197.9L425.4,1196.2L428.7,1192.5L432,1188.4L434.5,1185.4L437,1182.5L439.5,1182.1L442,1181.3L442.9,1178.4L443.7,1176.7L442.9,1173.4L443.3,1170.5L444.5,1170.5L444.9,1173.4L444.5,1176.3L446.2,1178.8L448.3,1180.1L450.8,1180.5L448.7,1181.7L449.1,1185.9L449.5,1190L450.4,1194.2L452.4,1198.3L453.7,1203.3L455.4,1207.5L455.8,1210.8L457.8,1214.9L459.5,1218.3L462,1221.6L464.1,1224.9L463.7,1226.6L462,1227.4L462,1229.9L460.8,1231.5L461.6,1234L462.8,1236.5L464.1,1239.8L464.5,1242.3L464.1,1245.7L467,1246.5L470.3,1246.1L474.5,1245.2L476.2,1243.6L475.3,1240.7L475.7,1237.3L477.8,1234.9L480.3,1232.4L483.7,1232L487,1231.5L488.7,1232.8L491.2,1230.3L492.4,1226.6L493.6,1223.2L494.9,1219.1L495.3,1212.4L497.8,1212.4ZM491.2,998.1L490.3,999.7L487,1002.2L485.7,1003.9L487,1006.4L485.3,1009.7L482.8,1012.6L478.7,1013.9L476.2,1015.5L474.5,1016.4L470.3,1015.9L467,1018L464.9,1020.5L466.2,1021.3L470.3,1020.1L475.3,1018.4L479.5,1016.4L484.5,1015.5L488.7,1014.7L492,1013.9L497.8,1011.4L497.8,1007.2L495.3,1007.2L492.8,1005.6L490.3,1006.4L489.5,1003.1L491.6,999.7ZM476.6,1008.5L479.5,1006.8L482.4,1003.1L484.1,1005.6L485.3,1008L482.8,1009.7L478.7,1009.3ZM443.7,1204.5L442,1206.6L438.7,1207.5L437,1209.9L435.4,1213.3L432,1214.5L427.9,1215.3L425.4,1217.4L423.7,1221.6L424.5,1223.2L422.5,1224.5L422.7,1229L422.9,1234L422.5,1238.2L422.5,1243.2L427,1246.5L426.2,1249.9L424.5,1253.2L423.7,1256.5L425.4,1258.2L427.9,1259L428.7,1261.5L427,1264.8L428.7,1267.3L428.7,1270.6L430.4,1273.1L427.9,1273.1L426.2,1275.6L424.5,1278.1L422.5,1276.4L420.4,1275.6L416.2,1276L413.7,1278.1L413.3,1280.6L410.4,1280.2L407,1281L403.7,1281L400.4,1283.1L398.7,1287.2L394.6,1290.5L392.9,1293.9L392.5,1298.8L390.4,1303.8L387.9,1307.2L386.6,1310.5L388.3,1313L389.1,1315.5L392.1,1316.3L395.4,1315.9L397.1,1318.8L399.6,1319.6L402.5,1321.7L402.5,1327.9L497.8,1327.9L497.8,1262.3L495.7,1262.3L492.8,1264.8L487,1267.3L481.2,1269.8L477,1272.3L474.5,1271L471.2,1269L467.8,1266.9L470.3,1264L470.3,1260.7L467.8,1259L466.2,1260.7L465.3,1263.1L460.3,1263.1L458.7,1265.6L457,1267.7L454.5,1268.5L452.4,1271L450.4,1271.9L445.8,1270.2L447.4,1268.1L448.3,1265.2L447,1264.4L443.7,1264.8L440.4,1263.6L438.7,1261.5L439.1,1259L437.9,1256.5L436.2,1254.8L436.6,1252.3L434.5,1251.5L436.2,1248.2L436.2,1244.9L437.9,1241.6L439.5,1239.1L441.2,1235.7L441.2,1232.4L442.9,1230.7L444.5,1231.1L447,1229.9L447.4,1227.4L445.8,1225.3L443.7,1225.7L442,1224.9L441.6,1220.7L442,1217.4L442.9,1214.1L443.7,1210.8L443.3,1207.5ZM437.9,1244L441.2,1242.4L444.5,1243.2L445.4,1246.5L444.9,1250.3L442.9,1251.9L439.5,1250.7L438.3,1247.4ZM448.3,1239.8L450.4,1237.3L452.4,1235.7L455.4,1235.3L458.7,1233.2L460.8,1234L461.2,1237.3L459.9,1241.5L457.8,1243.6L458.7,1246.5L457,1249L455.8,1250.6L455.8,1256.5L454.5,1254.8L453.7,1250.7L452,1249L449.5,1247.4L448.7,1243.2L447.9,1239.1ZM447.9,1254L450.4,1254.8L453.7,1256.9L454.1,1258.6L451.6,1259.4L448.7,1257.7L447.4,1255.7ZM444.9,1252.8L446.6,1252.8L445.4,1256.5L444.5,1256.1ZM479.5,1248.2L481.2,1248.2L482.8,1250.3L482.8,1251.9L480.3,1251.5L479.5,1249.9ZM309.5,1188.4L312.9,1189.2L317.9,1188.8L322,1187.9L324.5,1187.5L326.6,1188.8L327,1190.9L326.2,1193.3L323.7,1195.8L321.6,1198.3L319.5,1200.8L318.7,1203.3L318.7,1205.8L322.4,1205L327,1204.8L332,1205L337,1205.4L337.9,1208.3L336.6,1211.6L335.4,1214.9L334.1,1219.1L332.9,1222.4L331.2,1225.7L328.7,1228.2L330.8,1230.7L327.9,1232.4L326.2,1234.9L328.7,1234L331.2,1234.9L334.5,1236.5L336.2,1239L338.7,1242.3L339.5,1246.5L340.4,1250.6L341.6,1254.8L343.7,1258.9L344.5,1259.8L347.8,1261.5L349.5,1264.8L352,1268.1L351.6,1271.4L353.7,1275.6L354.1,1278.9L355.7,1283.1L356.2,1286.4L354.1,1289.7L355.3,1291.4L357.8,1288.9L361.2,1288.9L364.5,1290.1L367,1292.2L368.2,1295.5L367.8,1299.7L367,1303.8L365.3,1307.2L362.8,1310.5L361.2,1313L358.7,1315.5L360.3,1317.5L365.3,1317.1L365.7,1320.4L363.7,1322.9L361.2,1325.4L361.2,1328.3L313.3,1328.3L313.7,1324.6L316.2,1323.8L317,1320.9L321.2,1320.4L326.2,1320.4L327,1317.9L328.7,1314.6L325.4,1317.1L322,1317.5L319.5,1315L316.2,1314.6L315.4,1312.6L312.9,1312.1L309.5,1314.2L307.9,1311.3L307,1307.6L310.4,1305.5L314.5,1303L317,1300.5L317,1293.9L316.2,1291L311.6,1292.6L312,1291.4L314.5,1288.9L315.4,1286.4L313.3,1283.1L314.5,1281.4L317,1283.9L319.5,1283.9L322.9,1282.7L326.2,1280.6L326.6,1277.3L326.6,1273.1L327.9,1269.4L326.2,1269.8L324.5,1268.1L322.9,1264.8L321.6,1261.5L322.9,1257.3L323.7,1254L322,1254.8L318.7,1257.3L315.4,1258.2L312,1257.3L309.9,1259L307.9,1254.8L308.7,1252.3L310.4,1248.2L312,1244L310.4,1240.7L308.7,1239.1L310.4,1238.2L309.5,1236.5L308.3,1239L306.2,1240.7L305.8,1244L305.4,1247.3L302.5,1247.3L303.3,1243.2L303.7,1239L304.1,1234.9L304.5,1231.5L305.4,1228.2L302.9,1227.4L302,1229.5L299.1,1229.1L299.5,1226.1L298.3,1224.1L299.1,1221.6L302,1220.7L303.3,1217.4L304.5,1215.8L303.7,1213.3L301.2,1212.4L299.1,1210.8L297,1210.8L294.5,1209.5L297,1206.6L298.7,1205.8L300.4,1209.1L302.5,1209.9L302.5,1205.8L303.3,1201.7L305.4,1200.8L305.8,1198.3L307,1195.8L308.3,1192.5ZM297,1239L299.5,1237.4L302,1234.9L303.7,1233.2L304.1,1235.7L302,1237.4L300,1239L299.5,1241.5L298.3,1241.5ZM292.1,1197.5L293.7,1195.8L297,1192.5L299.1,1191.3L299.4,1193.3L297.9,1197.5L297,1200L294.5,1201.7L292.5,1203.3L292.1,1200.8ZM287.7,1205.8L289.6,1205.6L291.6,1206.6L291.4,1207.6L289.1,1207.5ZM288.7,1210.8L290,1210.8L290.2,1214.9L288.9,1215.1ZM287.5,1216.6L288.7,1216.6L288.7,1217.8L287.5,1217.8ZM312,1269L313.3,1265.6L314.9,1264L315.4,1266L314.1,1268.5L312.4,1269.4ZM289.5,1247.4L292,1249.4L295.4,1249L298.7,1248.6L300.4,1250.7L300.8,1253.2L302.9,1256.1L302.4,1259L304.5,1259.8L305.4,1262.3L304.1,1265.2L302,1267.3L301.2,1269.8L298.3,1271.4L298.7,1275.6L299.5,1279.7L299.5,1283.9L300.4,1288.1L299.9,1292.2L299.1,1296.4L297.9,1299.7L297,1300.5L298.3,1302.6L294.5,1303.4L290.4,1303.8L287.9,1305.5L285.4,1308L282.9,1309.6L280.4,1308L280,1311.3L277.1,1313.8L274.6,1315L271.2,1315L268.7,1315.9L268.3,1313.8L270.4,1312.1L266.2,1312.6L267.1,1310.5L263.3,1309.6L264.6,1307.2L267.5,1304.7L263.7,1303.4L265,1301.3L267.9,1300.5L268.3,1298L269.6,1295.5L274.6,1293.9L277.1,1294.3L273.7,1295.9L269.6,1296.4L268.7,1295.1L271.2,1292.2L272.1,1288.9L273.7,1286.4L276.2,1285.6L275.4,1284.3L271.2,1284.3L267.9,1282.2L265.4,1279.7L267.5,1278.9L267.5,1276.4L270,1273.9L267.1,1273.1L266.2,1271.4L263.7,1271L266.2,1270.6L267.1,1268.1L265.8,1266.5L267.9,1265.2L272.1,1265.2L274.1,1266.5L277.9,1266L279.1,1263.1L281.2,1260.7L279.6,1259L277.1,1258.6L278.7,1256.5L280.8,1254.8L280.4,1253.2L281.6,1249.9L285.4,1249L287,1248.2L286.6,1252.3L288.3,1252.3Z"/><path fill="#FFE529" stroke="#FFE529" stroke-width="0.25" d="M335.17,1012.81h8.62v8.94h-8.62zM352.40,1012.81h8.62v8.94h-8.62zM240.39,1057.50h8.62v8.94h-8.62zM249.01,1066.44h8.62v8.94h-8.62zM137.00,1075.38h8.62v8.94h-8.62zM240.39,1075.38h8.62v8.94h-8.62zM283.47,1075.38h8.62v8.94h-8.62zM317.94,1075.38h17.23v8.94h-17.23zM378.25,1075.38h8.62v8.94h-8.62zM231.78,1084.31h8.62v8.94h-8.62zM249.01,1084.31h8.62v8.94h-8.62zM214.54,1093.25h17.23v8.94h-17.23zM154.23,1102.19h8.62v8.94h-8.62zM188.70,1102.19h8.62v8.94h-8.62zM352.40,1111.12h8.62v8.94h-8.62zM335.17,1129.00h8.62v8.94h-8.62zM378.25,1137.94h8.62v8.94h-8.62zM326.55,1146.88h8.62v8.94h-8.62zM335.17,1155.81h8.62v8.94h-8.62zM326.55,1164.75h8.62v8.94h-8.62zM300.70,1173.69h8.62v8.94h-8.62zM300.70,1182.62h17.23v8.94h-17.23zM266.24,1191.56h8.62v8.94h-8.62zM335.17,1191.56h8.62v8.94h-8.62zM249.01,1272.00h8.62v8.94h-8.62zM249.01,1280.94h8.62v8.94h-8.62zM249.01,1289.88h8.62v8.94h-8.62z"/><path fill="#FFA500" stroke="#FFA500" stroke-width="0.25" d="M326.55,1030.69h8.62v8.94h-8.62zM292.09,1039.62h8.62v8.94h-8.62zM317.94,1039.62h8.62v8.94h-8.62zM317.94,1048.56h8.62v8.94h-8.62zM249.01,1057.50h17.23v8.94h-17.23zM240.39,1066.44h8.62v8.94h-8.62zM128.38,1075.38h8.62v8.94h-8.62zM249.01,1075.38h8.62v8.94h-8.62zM240.39,1084.31h8.62v8.94h-8.62zM231.78,1093.25h8.62v8.94h-8.62zM145.62,1102.19h8.62v8.94h-8.62zM162.85,1102.19h17.23v8.94h-17.23zM197.31,1102.19h17.23v8.94h-17.23zM180.08,1111.12h8.62v8.94h-8.62zM343.78,1111.12h8.62v8.94h-8.62zM361.02,1129.00h25.85v8.94h-25.85zM343.78,1137.94h8.62v8.94h-8.62zM369.63,1137.94h8.62v8.94h-8.62zM361.02,1146.88h8.62v8.94h-8.62zM369.63,1155.81h8.62v8.94h-8.62zM386.86,1155.81h8.62v8.94h-8.62zM300.70,1164.75h8.62v8.94h-8.62zM335.17,1164.75h8.62v8.94h-8.62zM352.40,1164.75h8.62v8.94h-8.62zM283.47,1173.69h17.23v8.94h-17.23zM309.32,1173.69h8.62v8.94h-8.62zM335.17,1173.69h8.62v8.94h-8.62zM283.47,1182.62h8.62v8.94h-8.62zM335.17,1182.62h8.62v8.94h-8.62zM274.86,1191.56h8.62v8.94h-8.62zM266.24,1200.50h17.23v8.94h-17.23zM274.86,1218.38h8.62v8.94h-8.62zM257.62,1254.12h8.62v8.94h-8.62zM257.62,1263.06h8.62v8.94h-8.62z"/><path fill="#FF0000" stroke="#FF0000" stroke-width="0.25" d="M326.55,1012.81h8.62v8.94h-8.62zM309.32,1021.75h8.62v8.94h-8.62zM335.17,1021.75h8.62v8.94h-8.62zM352.40,1021.75h8.62v8.94h-8.62zM283.47,1030.69h8.62v8.94h-8.62zM309.32,1030.69h8.62v8.94h-8.62zM335.17,1030.69h17.23v8.94h-17.23zM326.55,1039.62h8.62v8.94h-8.62zM386.86,1039.62h8.62v8.94h-8.62zM326.55,1048.56h8.62v8.94h-8.62zM309.32,1057.50h25.85v8.94h-25.85zM257.62,1066.44h8.62v8.94h-8.62zM292.09,1066.44h8.62v8.94h-8.62zM343.78,1066.44h8.62v8.94h-8.62zM223.16,1084.31h8.62v8.94h-8.62zM257.62,1084.31h17.23v8.94h-17.23zM326.55,1084.31h17.23v8.94h-17.23zM352.40,1084.31h8.62v8.94h-8.62zM386.86,1084.31h8.62v8.94h-8.62zM257.62,1093.25h8.62v8.94h-8.62zM352.40,1093.25h8.62v8.94h-8.62zM369.63,1093.25h8.62v8.94h-8.62zM343.78,1102.19h17.23v8.94h-17.23zM378.25,1102.19h8.62v8.94h-8.62zM171.46,1111.12h8.62v8.94h-8.62zM361.02,1111.12h8.62v8.94h-8.62zM378.25,1111.12h8.62v8.94h-8.62zM352.40,1120.06h25.85v8.94h-25.85zM335.17,1137.94h8.62v8.94h-8.62zM361.02,1137.94h8.62v8.94h-8.62zM335.17,1146.88h17.23v8.94h-17.23zM292.09,1164.75h8.62v8.94h-8.62zM343.78,1164.75h8.62v8.94h-8.62zM326.55,1173.69h8.62v8.94h-8.62zM292.09,1182.62h8.62v8.94h-8.62zM343.78,1182.62h8.62v8.94h-8.62zM283.47,1191.56h8.62v8.94h-8.62zM266.24,1209.44h8.62v8.94h-8.62zM266.24,1236.25h8.62v8.94h-8.62zM266.24,1245.19h8.62v8.94h-8.62z"/><path fill="#6B181C" stroke="#6B181C" stroke-width="0.25" d="M378.25,994.94h8.62v8.94h-8.62zM404.10,994.94h8.62v8.94h-8.62zM395.48,1003.88h8.62v8.94h-8.62zM317.94,1012.81h8.62v8.94h-8.62zM361.02,1012.81h8.62v8.94h-8.62zM404.10,1012.81h8.62v8.94h-8.62zM421.33,1012.81h8.62v8.94h-8.62zM274.86,1021.75h8.62v8.94h-8.62zM292.09,1021.75h8.62v8.94h-8.62zM361.02,1021.75h17.23v8.94h-17.23zM429.94,1021.75h8.62v8.94h-8.62zM300.70,1030.69h8.62v8.94h-8.62zM317.94,1030.69h8.62v8.94h-8.62zM352.40,1030.69h17.23v8.94h-17.23zM378.25,1030.69h8.62v8.94h-8.62zM283.47,1039.62h8.62v8.94h-8.62zM300.70,1039.62h8.62v8.94h-8.62zM335.17,1039.62h51.70v8.94h-51.70zM335.17,1048.56h8.62v8.94h-8.62zM352.40,1048.56h34.46v8.94h-34.46zM335.17,1057.50h8.62v8.94h-8.62zM352.40,1057.50h51.70v8.94h-51.70zM326.55,1066.44h17.23v8.94h-17.23zM352.40,1066.44h25.85v8.94h-25.85zM257.62,1075.38h8.62v8.94h-8.62zM335.17,1075.38h43.08v8.94h-43.08zM343.78,1084.31h8.62v8.94h-8.62zM361.02,1084.31h25.85v8.94h-25.85zM266.24,1093.25h8.62v8.94h-8.62zM343.78,1093.25h8.62v8.94h-8.62zM361.02,1093.25h8.62v8.94h-8.62zM378.25,1093.25h8.62v8.94h-8.62zM180.08,1102.19h8.62v8.94h-8.62zM361.02,1102.19h17.23v8.94h-17.23zM395.48,1102.19h8.62v8.94h-8.62zM369.63,1111.12h8.62v8.94h-8.62zM386.86,1111.12h8.62v8.94h-8.62zM343.78,1120.06h8.62v8.94h-8.62zM378.25,1120.06h8.62v8.94h-8.62zM395.48,1120.06h8.62v8.94h-8.62zM386.86,1129.00h8.62v8.94h-8.62zM386.86,1137.94h8.62v8.94h-8.62zM352.40,1146.88h8.62v8.94h-8.62zM386.86,1146.88h8.62v8.94h-8.62zM309.32,1155.81h25.85v8.94h-25.85zM343.78,1155.81h17.23v8.94h-17.23zM395.48,1155.81h8.62v8.94h-8.62zM309.32,1164.75h17.23v8.94h-17.23zM395.48,1164.75h8.62v8.94h-8.62zM317.94,1173.69h8.62v8.94h-8.62zM343.78,1173.69h17.23v8.94h-17.23zM395.48,1173.69h8.62v8.94h-8.62zM352.40,1182.62h8.62v8.94h-8.62zM343.78,1191.56h17.23v8.94h-17.23zM352.40,1200.50h8.62v8.94h-8.62zM266.24,1227.31h8.62v8.94h-8.62z"/>
<path fill="#C6C8C8" d="M339.2,1155.3L340.8,1153.8L342.7,1152.2L345,1149.7L346.1,1149.9L346.1,1151.5L345,1153.8L344,1155.7L343.8,1158L343.3,1160.3L342.3,1163L341.2,1162.6L339.6,1160.7L339.4,1158.7L340,1157.2Z"/>
<path class="ez" d="M242.8,954.9L240.3,971.5L237,988.1L239.5,993.1M239.5,993.1L237.8,998.1L215.3,1004.7L192,1012.2L168.7,1018.8L152,1024.6L137,1031.3L120.4,1041.2L104.5,1053.7L97.9,1066.2L92.9,1082.8L87.9,1105.2L92.1,1114.3L98.7,1127.6L108.7,1139.2L120.4,1149.2L128.7,1153.5L145.4,1158.4L165.3,1164.3L175.3,1165.6L198.6,1163.4L215.3,1156L233.6,1150.1M239.5,993.1L248.6,994.7L261.9,998.9L273.6,1004.7L283.6,1013L291.9,1023L296.9,1032.9L300.3,1041.2L303.6,1049.6L305.3,1062M305.3,1062L298.6,1066.2L281.9,1081.1L261.9,1101L248.6,1117.6L240.3,1130.9L233.6,1149.2L233.6,1150.1M233.6,1150.1L239.5,1161.8L239.9,1167.6L235.3,1168.4L229.5,1179.2L226.1,1190.8L225.3,1204.1L227.8,1217.4L232.8,1221.6L225.3,1234L218.6,1247.3L216.1,1260.6L216.1,1277.2L215.3,1292.1L215.3,1308.8L217.8,1327.8M239.5,1161.8L253.6,1164.3L275.3,1164.6L290.3,1160.9L311.9,1157.6L312,1157.6L323.7,1134.4L328.7,1125.9L338.7,1109.3L348.7,1094.4M305.4,1062L320.4,1066.2L332,1072.8L342,1079.4L348.7,1085.3L348.7,1094.4M348.7,1094.4L353.7,1104.4L360.3,1116L364.5,1127.6L368.6,1140.9M364.5,1127.6L396.1,1127.6M466.1,954.9L475.2,964.9L491.1,971.5L491.1,985.6L422,1020.5L422,1039.1L447.8,1039.1L456.9,1030.5L461.9,1027.1M365.3,1327.5L367,1325.8L373.6,1322.1L380.4,1317.9L382.9,1317.1L387.1,1317.1L390.4,1320.4L389.6,1323.8M368.8,1141.5L367.7,1141.9L356.9,1142.6L351.9,1144L345.4,1148L343.8,1150.3L343.1,1153.4L343.8,1157.2L342.3,1164.1L340.8,1168.7L343.1,1171L343.1,1174.5L340.4,1176.8L336.9,1176.4L335.8,1175.6L335.4,1178.7L334.2,1181.7L333.5,1185.6L330.8,1187.1L328.1,1187.9L325,1185.6L323.5,1184L328.1,1183.3L333.8,1182.1"/>
</g>
<rect class="bd" x="70.9" y="956.7" width="424.6" height="371.6"/>
<path class="tk" d="M93.9,1328.7v7.4M180.1,1328.7v7.4M266.2,1328.7v7.4M352.4,1328.7v7.4M438.6,1328.7v7.4M70.5,986h-7.4M70.5,1075.4h-7.4M70.5,1164.8h-7.4M70.5,1254.1h-7.4"/>
<text class="ax" x="56.5" y="993.5" text-anchor="end">70°</text>
<text class="ax" x="56.5" y="1082.9" text-anchor="end">65°</text>
<text class="ax" x="56.5" y="1172.2" text-anchor="end">60°</text>
<text class="ax" x="56.5" y="1261.6" text-anchor="end">55°</text>
<text class="ax" x="93.9" y="1359.3" text-anchor="middle">30°W</text>
<text class="ax" x="180.1" y="1359.3" text-anchor="middle">20°W</text>
<text class="ax" x="266.2" y="1359.3" text-anchor="middle">10°W</text>
<text class="ax" x="352.4" y="1359.3" text-anchor="middle">0°</text>
<text class="ax" x="438.6" y="1359.3" text-anchor="middle">10°E</text>
<clipPath id="cA32"><rect x="511.3" y="956.7" width="424.6" height="371.6"/></clipPath>
<g clip-path="url(#cA32)">
<path class="ld" d="M510.2,955L558.6,955L558.6,957.9L563.7,959L568.7,959.3L571.2,961.3L571.6,964.2L569.5,966.3L565.3,968.4L559.5,968.6L553.6,968.4L548.2,968L551.5,970.9L551.1,973.8L548.6,975.5L542.8,977.6L548.6,978.9L555.3,978.9L560.3,978.5L562.8,977.6L564.1,979.3L559.5,981.4L556.1,983.9L554.5,986L557.8,986L559.5,983.5L563.7,982.2L568.7,981.4L572.8,980.3L576.2,980.6L580.4,981.8L585.4,983.5L590.4,984.3L597.1,984.3L601.3,984.3L598.8,986.8L593.7,989L587.9,991L588.3,993.6L583.7,994L582.9,996.5L579.5,998.6L575.4,999.9L577,1001.5L572,1004.5L567,1007.4L562,1009.5L555.3,1011.6L548.6,1013.3L541.9,1015.8L536.1,1015.8L532.7,1017.1L527.7,1017.9L528.5,1019.6L524.4,1020.2L521,1018.7L517.7,1016.2L514.3,1014.1L515.2,1017.1L513.5,1017.9L515.6,1020L515.2,1022.1L512.7,1024.2L510.2,1024.6ZM572,955L601.3,955L601.3,957.5L599.6,959.2L599.6,964.2L598.3,971.7L598.3,977.6L593.7,978.3L590.4,978L587.5,976.4L585.4,973.4L584.1,970.1L583.3,966.3L580.4,963.8L577,962.5L573.7,960.4L572,958.3ZM600.4,960.4L605.4,960L606.3,966.7L606.7,972.6L606.7,977.6L603.8,978.3L600,977.2L600,971.7L600,964.2ZM582.5,1066.2L586.2,1062.1L588.7,1061.2L588.7,1057.1L592.1,1054.6L595,1055.8L594.6,1051.3L597.9,1050L600.4,1050.4L602.9,1052.5L606.2,1055L608.7,1057.1L610,1059.6L609.5,1062.5L607.5,1063.3L608.7,1065.8L611.2,1068.7L611.6,1070.4L612.9,1066.2L614.5,1063.7L617,1064.6L617.9,1059.6L618.7,1055.8L620.8,1056.2L622.9,1059.2L624.9,1061.6L625.8,1058.7L626.6,1055.8L630.4,1054.6L632.9,1056.7L635.4,1059.6L637,1062.1L637.4,1059.6L635.8,1055L639.5,1055.4L642,1057.9L643.7,1056.2L645.8,1053.8L647.9,1055L651.6,1054.2L651.2,1049.6L653.7,1047.9L656.2,1048.8L657.9,1051.7L658.7,1053.3L662,1053.3L664.5,1051.7L667,1050.9L664.9,1053.3L663.3,1056.2L666.2,1057.1L666.6,1061.2L669.1,1061.6L670.3,1064.6L673.7,1065L676.2,1066.6L674.9,1068.7L676.2,1071.2L677,1073.7L674.5,1075.4L674.1,1079.1L671.2,1080.3L669.5,1080.7L668.7,1084.5L667,1086.1L663.7,1087.4L659.5,1088.6L656.2,1090.7L652.9,1092.8L649.5,1096.1L646.2,1096.5L641.2,1097.8L639.1,1099.4L639.1,1101.5L635.4,1103.2L632,1103.4L627,1102.9L622.9,1101.1L618.7,1099.8L616.6,1098.6L617.9,1096.9L614.5,1096.5L612,1095.7L611.2,1094.4L608.7,1095.3L607.1,1096.1L602.9,1095.7L598.7,1096.1L597.5,1092L599.6,1093.2L602.1,1092.8L604.1,1091.1L605.8,1088.6L607.1,1086.6L604.1,1087.8L604.6,1084.9L607.1,1082L604.1,1083.7L601.6,1082.8L602.1,1080.7L600.4,1079.5L596.2,1079.5L592.1,1079.1L588.7,1080.2L586.6,1078.3L588.7,1077L592.9,1075.8L596.2,1075.4L598.7,1074.5L602.9,1074.4L606.2,1073.7L606.2,1072.4L602.9,1072.4L599.6,1072L602.1,1070.4L604.6,1068.7L605.4,1067.5L602.9,1066.6L599.6,1065.8L595.4,1065.8L591.2,1067L587.5,1068.3L585.4,1067ZM937.8,1013.5L935.7,1013.5L932.8,1014.7L928.7,1017.6L925.3,1019.7L926.2,1022.2L922,1022.2L919.5,1023.8L920.3,1027.2L922.8,1027.2L922,1028.8L919.5,1030.1L918.7,1032.1L916.2,1034.2L916.2,1036.3L912.8,1038.8L909.5,1039.6L909.1,1042.1L906.2,1044.6L905.3,1048.7L906.2,1051.2L903.7,1054.6L901.2,1057.9L899.5,1061.2L897.8,1065.3L896.2,1069.5L893.7,1074.5L890.4,1076.2L890.4,1079.5L887,1082.4L882.9,1084.9L881.2,1088.7L879.5,1091.1L877.9,1094.5L875.4,1097L874.5,1099.4L871.2,1101.1L868.7,1099.9L866.2,1101.1L867,1103.6L863.7,1106.1L862,1108.6L857,1109L852.9,1110.7L851.2,1113.6L850.4,1116.1L847,1117.3L845.4,1120.2L843.7,1124.4L842.1,1127.3L836.2,1127.7L835.4,1131.8L836.2,1136L836.6,1139.3L835.8,1143.5L836.2,1147.6L835,1150.9L837.1,1154.3L837.9,1158.4L837.1,1159.3L837.1,1161.8L837.9,1165.1L836.6,1169.3L839.6,1166.8L841.6,1165.1L842.1,1169.3L838.7,1171.7L837.5,1175.1L837.5,1178.8L841.2,1177.6L843.7,1175.9L843.7,1180.1L844.5,1182.5L841.2,1181.7L840,1185.9L841.2,1189.2L843.7,1192.1L847,1194.2L849.5,1195.4L849.5,1198.7L853.7,1200L857.9,1200L862,1197.9L865.4,1196.2L868.7,1192.5L872,1188.4L874.5,1185.4L877,1182.5L879.5,1182.1L882,1181.3L882.9,1178.4L883.7,1176.7L882.9,1173.4L883.3,1170.5L884.5,1170.5L884.9,1173.4L884.5,1176.3L886.2,1178.8L888.3,1180.1L890.8,1180.5L888.7,1181.7L889.1,1185.9L889.5,1190L890.4,1194.2L892.4,1198.3L893.7,1203.3L895.4,1207.5L895.8,1210.8L897.8,1214.9L899.5,1218.3L902,1221.6L904.1,1224.9L903.7,1226.6L902,1227.4L902,1229.9L900.8,1231.5L901.6,1234L902.8,1236.5L904.1,1239.8L904.5,1242.3L904.1,1245.7L907,1246.5L910.3,1246.1L914.5,1245.2L916.2,1243.6L915.3,1240.7L915.7,1237.3L917.8,1234.9L920.3,1232.4L923.7,1232L927,1231.5L928.7,1232.8L931.2,1230.3L932.4,1226.6L933.6,1223.2L934.9,1219.1L935.3,1212.4L937.8,1212.4ZM931.2,998.1L930.3,999.7L927,1002.2L925.7,1003.9L927,1006.4L925.3,1009.7L922.8,1012.6L918.7,1013.9L916.2,1015.5L914.5,1016.4L910.3,1015.9L907,1018L904.9,1020.5L906.2,1021.3L910.3,1020.1L915.3,1018.4L919.5,1016.4L924.5,1015.5L928.7,1014.7L932,1013.9L937.8,1011.4L937.8,1007.2L935.3,1007.2L932.8,1005.6L930.3,1006.4L929.5,1003.1L931.6,999.7ZM916.6,1008.5L919.5,1006.8L922.4,1003.1L924.1,1005.6L925.3,1008L922.8,1009.7L918.7,1009.3ZM883.7,1204.5L882,1206.6L878.7,1207.5L877,1209.9L875.4,1213.3L872,1214.5L867.9,1215.3L865.4,1217.4L863.7,1221.6L864.5,1223.2L862.5,1224.5L862.7,1229L862.9,1234L862.5,1238.2L862.5,1243.2L867,1246.5L866.2,1249.9L864.5,1253.2L863.7,1256.5L865.4,1258.2L867.9,1259L868.7,1261.5L867,1264.8L868.7,1267.3L868.7,1270.6L870.4,1273.1L867.9,1273.1L866.2,1275.6L864.5,1278.1L862.5,1276.4L860.4,1275.6L856.2,1276L853.7,1278.1L853.3,1280.6L850.4,1280.2L847,1281L843.7,1281L840.4,1283.1L838.7,1287.2L834.6,1290.5L832.9,1293.9L832.5,1298.8L830.4,1303.8L827.9,1307.2L826.6,1310.5L828.3,1313L829.1,1315.5L832.1,1316.3L835.4,1315.9L837.1,1318.8L839.6,1319.6L842.5,1321.7L842.5,1327.9L937.8,1327.9L937.8,1262.3L935.7,1262.3L932.8,1264.8L927,1267.3L921.2,1269.8L917,1272.3L914.5,1271L911.2,1269L907.8,1266.9L910.3,1264L910.3,1260.7L907.8,1259L906.2,1260.7L905.3,1263.1L900.3,1263.1L898.7,1265.6L897,1267.7L894.5,1268.5L892.4,1271L890.4,1271.9L885.8,1270.2L887.4,1268.1L888.3,1265.2L887,1264.4L883.7,1264.8L880.4,1263.6L878.7,1261.5L879.1,1259L877.9,1256.5L876.2,1254.8L876.6,1252.3L874.5,1251.5L876.2,1248.2L876.2,1244.9L877.9,1241.6L879.5,1239.1L881.2,1235.7L881.2,1232.4L882.9,1230.7L884.5,1231.1L887,1229.9L887.4,1227.4L885.8,1225.3L883.7,1225.7L882,1224.9L881.6,1220.7L882,1217.4L882.9,1214.1L883.7,1210.8L883.3,1207.5ZM877.9,1244L881.2,1242.4L884.5,1243.2L885.4,1246.5L884.9,1250.3L882.9,1251.9L879.5,1250.7L878.3,1247.4ZM888.3,1239.8L890.4,1237.3L892.4,1235.7L895.4,1235.3L898.7,1233.2L900.8,1234L901.2,1237.3L899.9,1241.5L897.8,1243.6L898.7,1246.5L897,1249L895.8,1250.6L895.8,1256.5L894.5,1254.8L893.7,1250.7L892,1249L889.5,1247.4L888.7,1243.2L887.9,1239.1ZM887.9,1254L890.4,1254.8L893.7,1256.9L894.1,1258.6L891.6,1259.4L888.7,1257.7L887.4,1255.7ZM884.9,1252.8L886.6,1252.8L885.4,1256.5L884.5,1256.1ZM919.5,1248.2L921.2,1248.2L922.8,1250.3L922.8,1251.9L920.3,1251.5L919.5,1249.9ZM749.5,1188.4L752.9,1189.2L757.9,1188.8L762,1187.9L764.5,1187.5L766.6,1188.8L767,1190.9L766.2,1193.3L763.7,1195.8L761.6,1198.3L759.5,1200.8L758.7,1203.3L758.7,1205.8L762.4,1205L767,1204.8L772,1205L777,1205.4L777.9,1208.3L776.6,1211.6L775.4,1214.9L774.1,1219.1L772.9,1222.4L771.2,1225.7L768.7,1228.2L770.8,1230.7L767.9,1232.4L766.2,1234.9L768.7,1234L771.2,1234.9L774.5,1236.5L776.2,1239L778.7,1242.3L779.5,1246.5L780.4,1250.6L781.6,1254.8L783.7,1258.9L784.5,1259.8L787.8,1261.5L789.5,1264.8L792,1268.1L791.6,1271.4L793.7,1275.6L794.1,1278.9L795.7,1283.1L796.2,1286.4L794.1,1289.7L795.3,1291.4L797.8,1288.9L801.2,1288.9L804.5,1290.1L807,1292.2L808.2,1295.5L807.8,1299.7L807,1303.8L805.3,1307.2L802.8,1310.5L801.2,1313L798.7,1315.5L800.3,1317.5L805.3,1317.1L805.7,1320.4L803.7,1322.9L801.2,1325.4L801.2,1328.3L753.3,1328.3L753.7,1324.6L756.2,1323.8L757,1320.9L761.2,1320.4L766.2,1320.4L767,1317.9L768.7,1314.6L765.4,1317.1L762,1317.5L759.5,1315L756.2,1314.6L755.4,1312.6L752.9,1312.1L749.5,1314.2L747.9,1311.3L747,1307.6L750.4,1305.5L754.5,1303L757,1300.5L757,1293.9L756.2,1291L751.6,1292.6L752,1291.4L754.5,1288.9L755.4,1286.4L753.3,1283.1L754.5,1281.4L757,1283.9L759.5,1283.9L762.9,1282.7L766.2,1280.6L766.6,1277.3L766.6,1273.1L767.9,1269.4L766.2,1269.8L764.5,1268.1L762.9,1264.8L761.6,1261.5L762.9,1257.3L763.7,1254L762,1254.8L758.7,1257.3L755.4,1258.2L752,1257.3L749.9,1259L747.9,1254.8L748.7,1252.3L750.4,1248.2L752,1244L750.4,1240.7L748.7,1239.1L750.4,1238.2L749.5,1236.5L748.3,1239L746.2,1240.7L745.8,1244L745.4,1247.3L742.5,1247.3L743.3,1243.2L743.7,1239L744.1,1234.9L744.5,1231.5L745.4,1228.2L742.9,1227.4L742,1229.5L739.1,1229.1L739.5,1226.1L738.3,1224.1L739.1,1221.6L742,1220.7L743.3,1217.4L744.5,1215.8L743.7,1213.3L741.2,1212.4L739.1,1210.8L737,1210.8L734.5,1209.5L737,1206.6L738.7,1205.8L740.4,1209.1L742.5,1209.9L742.5,1205.8L743.3,1201.7L745.4,1200.8L745.8,1198.3L747,1195.8L748.3,1192.5ZM737,1239L739.5,1237.4L742,1234.9L743.7,1233.2L744.1,1235.7L742,1237.4L740,1239L739.5,1241.5L738.3,1241.5ZM732.1,1197.5L733.7,1195.8L737,1192.5L739.1,1191.3L739.4,1193.3L737.9,1197.5L737,1200L734.5,1201.7L732.5,1203.3L732.1,1200.8ZM727.7,1205.8L729.6,1205.6L731.6,1206.6L731.4,1207.6L729.1,1207.5ZM728.7,1210.8L730,1210.8L730.2,1214.9L728.9,1215.1ZM727.5,1216.6L728.7,1216.6L728.7,1217.8L727.5,1217.8ZM752,1269L753.3,1265.6L754.9,1264L755.4,1266L754.1,1268.5L752.4,1269.4ZM729.5,1247.4L732,1249.4L735.4,1249L738.7,1248.6L740.4,1250.7L740.8,1253.2L742.9,1256.1L742.4,1259L744.5,1259.8L745.4,1262.3L744.1,1265.2L742,1267.3L741.2,1269.8L738.3,1271.4L738.7,1275.6L739.5,1279.7L739.5,1283.9L740.4,1288.1L739.9,1292.2L739.1,1296.4L737.9,1299.7L737,1300.5L738.3,1302.6L734.5,1303.4L730.4,1303.8L727.9,1305.5L725.4,1308L722.9,1309.6L720.4,1308L720,1311.3L717.1,1313.8L714.6,1315L711.2,1315L708.7,1315.9L708.3,1313.8L710.4,1312.1L706.2,1312.6L707.1,1310.5L703.3,1309.6L704.6,1307.2L707.5,1304.7L703.7,1303.4L705,1301.3L707.9,1300.5L708.3,1298L709.6,1295.5L714.6,1293.9L717.1,1294.3L713.7,1295.9L709.6,1296.4L708.7,1295.1L711.2,1292.2L712.1,1288.9L713.7,1286.4L716.2,1285.6L715.4,1284.3L711.2,1284.3L707.9,1282.2L705.4,1279.7L707.5,1278.9L707.5,1276.4L710,1273.9L707.1,1273.1L706.2,1271.4L703.7,1271L706.2,1270.6L707.1,1268.1L705.8,1266.5L707.9,1265.2L712.1,1265.2L714.1,1266.5L717.9,1266L719.1,1263.1L721.2,1260.7L719.6,1259L717.1,1258.6L718.7,1256.5L720.8,1254.8L720.4,1253.2L721.6,1249.9L725.4,1249L727,1248.2L726.6,1252.3L728.3,1252.3Z"/><path fill="#FFE529" stroke="#FFE529" stroke-width="0.25" d="M895.79,1012.81h8.62v8.94h-8.62zM757.94,1021.75h8.62v8.94h-8.62zM749.32,1030.69h8.62v8.94h-8.62zM740.70,1039.62h8.62v8.94h-8.62zM809.63,1039.62h17.23v8.94h-17.23zM757.94,1048.56h8.62v8.94h-8.62zM826.86,1048.56h8.62v8.94h-8.62zM689.01,1057.50h8.62v8.94h-8.62zM568.38,1066.44h8.62v8.94h-8.62zM680.39,1066.44h17.23v8.94h-17.23zM671.78,1075.38h34.46v8.94h-34.46zM740.70,1075.38h8.62v8.94h-8.62zM757.94,1075.38h8.62v8.94h-8.62zM585.62,1084.31h8.62v8.94h-8.62zM680.39,1084.31h8.62v8.94h-8.62zM663.16,1093.25h17.23v8.94h-17.23zM585.62,1102.19h8.62v8.94h-8.62zM602.85,1102.19h25.85v8.94h-25.85zM783.78,1102.19h8.62v8.94h-8.62zM611.46,1111.12h8.62v8.94h-8.62zM783.78,1111.12h17.23v8.94h-17.23zM775.17,1137.94h17.23v8.94h-17.23zM801.02,1137.94h8.62v8.94h-8.62zM826.86,1137.94h8.62v8.94h-8.62zM783.78,1146.88h8.62v8.94h-8.62zM749.32,1155.81h8.62v8.94h-8.62zM826.86,1155.81h8.62v8.94h-8.62zM766.55,1164.75h8.62v8.94h-8.62zM723.47,1173.69h17.23v8.94h-17.23zM749.32,1173.69h8.62v8.94h-8.62zM766.55,1173.69h8.62v8.94h-8.62zM723.47,1182.62h17.23v8.94h-17.23zM723.47,1191.56h8.62v8.94h-8.62zM706.24,1200.50h17.23v8.94h-17.23zM706.24,1209.44h8.62v8.94h-8.62zM714.86,1218.38h8.62v8.94h-8.62zM706.24,1236.25h8.62v8.94h-8.62zM706.24,1245.19h8.62v8.94h-8.62zM697.62,1254.12h8.62v8.94h-8.62zM689.01,1289.88h8.62v8.94h-8.62z"/><path fill="#FFA500" stroke="#FFA500" stroke-width="0.25" d="M792.40,1021.75h8.62v8.94h-8.62zM757.94,1030.69h8.62v8.94h-8.62zM757.94,1039.62h8.62v8.94h-8.62zM818.25,1048.56h8.62v8.94h-8.62zM749.32,1057.50h17.23v8.94h-17.23zM783.78,1057.50h8.62v8.94h-8.62zM757.94,1066.44h17.23v8.94h-17.23zM783.78,1066.44h8.62v8.94h-8.62zM568.38,1075.38h8.62v8.94h-8.62zM818.25,1075.38h8.62v8.94h-8.62zM663.16,1084.31h17.23v8.94h-17.23zM792.40,1084.31h8.62v8.94h-8.62zM826.86,1084.31h8.62v8.94h-8.62zM654.54,1093.25h8.62v8.94h-8.62zM680.39,1093.25h8.62v8.94h-8.62zM628.70,1102.19h8.62v8.94h-8.62zM645.93,1102.19h8.62v8.94h-8.62zM818.25,1102.19h8.62v8.94h-8.62zM654.54,1111.12h8.62v8.94h-8.62zM775.17,1111.12h8.62v8.94h-8.62zM818.25,1111.12h8.62v8.94h-8.62zM792.40,1120.06h8.62v8.94h-8.62zM809.63,1129.00h17.23v8.94h-17.23zM792.40,1137.94h8.62v8.94h-8.62zM809.63,1137.94h8.62v8.94h-8.62zM775.17,1146.88h8.62v8.94h-8.62zM809.63,1146.88h8.62v8.94h-8.62zM826.86,1146.88h8.62v8.94h-8.62zM775.17,1155.81h8.62v8.94h-8.62zM801.02,1155.81h17.23v8.94h-17.23zM732.09,1164.75h25.85v8.94h-25.85zM792.40,1164.75h8.62v8.94h-8.62zM740.70,1173.69h8.62v8.94h-8.62zM757.94,1173.69h8.62v8.94h-8.62zM775.17,1173.69h17.23v8.94h-17.23zM740.70,1182.62h8.62v8.94h-8.62zM775.17,1182.62h17.23v8.94h-17.23zM714.86,1191.56h8.62v8.94h-8.62zM775.17,1191.56h8.62v8.94h-8.62zM792.40,1191.56h8.62v8.94h-8.62zM792.40,1200.50h8.62v8.94h-8.62zM706.24,1227.31h8.62v8.94h-8.62z"/><path fill="#FF0000" stroke="#FF0000" stroke-width="0.25" d="M801.02,1012.81h8.62v8.94h-8.62zM904.41,1021.75h8.62v8.94h-8.62zM818.25,1030.69h8.62v8.94h-8.62zM732.09,1039.62h8.62v8.94h-8.62zM766.55,1039.62h8.62v8.94h-8.62zM792.40,1039.62h17.23v8.94h-17.23zM826.86,1039.62h8.62v8.94h-8.62zM792.40,1048.56h25.85v8.94h-25.85zM775.17,1057.50h8.62v8.94h-8.62zM740.70,1084.31h8.62v8.94h-8.62zM645.93,1093.25h8.62v8.94h-8.62zM792.40,1102.19h8.62v8.94h-8.62zM628.70,1111.12h8.62v8.94h-8.62zM801.02,1111.12h8.62v8.94h-8.62zM835.48,1111.12h8.62v8.94h-8.62zM783.78,1120.06h8.62v8.94h-8.62zM801.02,1120.06h8.62v8.94h-8.62zM835.48,1120.06h8.62v8.94h-8.62zM757.94,1129.00h8.62v8.94h-8.62zM801.02,1129.00h8.62v8.94h-8.62zM826.86,1129.00h8.62v8.94h-8.62zM766.55,1146.88h8.62v8.94h-8.62zM792.40,1146.88h17.23v8.94h-17.23zM766.55,1155.81h8.62v8.94h-8.62zM783.78,1155.81h8.62v8.94h-8.62zM757.94,1164.75h8.62v8.94h-8.62zM775.17,1164.75h17.23v8.94h-17.23zM792.40,1173.69h8.62v8.94h-8.62zM792.40,1182.62h8.62v8.94h-8.62zM783.78,1191.56h8.62v8.94h-8.62z"/><path fill="#6B181C" stroke="#6B181C" stroke-width="0.25" d="M809.63,986.00h8.62v8.94h-8.62zM835.48,986.00h17.23v8.94h-17.23zM844.10,994.94h8.62v8.94h-8.62zM775.17,1003.88h8.62v8.94h-8.62zM913.02,1003.88h8.62v8.94h-8.62zM757.94,1012.81h25.85v8.94h-25.85zM792.40,1012.81h8.62v8.94h-8.62zM904.41,1012.81h17.23v8.94h-17.23zM783.78,1021.75h8.62v8.94h-8.62zM801.02,1021.75h8.62v8.94h-8.62zM913.02,1021.75h8.62v8.94h-8.62zM740.70,1030.69h8.62v8.94h-8.62zM775.17,1030.69h8.62v8.94h-8.62zM792.40,1030.69h17.23v8.94h-17.23zM895.79,1030.69h8.62v8.94h-8.62zM775.17,1039.62h17.23v8.94h-17.23zM766.55,1048.56h17.23v8.94h-17.23zM766.55,1057.50h8.62v8.94h-8.62zM792.40,1057.50h43.08v8.94h-43.08zM775.17,1066.44h8.62v8.94h-8.62zM792.40,1066.44h43.08v8.94h-43.08zM706.24,1075.38h8.62v8.94h-8.62zM783.78,1075.38h34.46v8.94h-34.46zM783.78,1084.31h8.62v8.94h-8.62zM801.02,1084.31h25.85v8.94h-25.85zM783.78,1093.25h43.08v8.94h-43.08zM801.02,1102.19h17.23v8.94h-17.23zM826.86,1102.19h17.23v8.94h-17.23zM809.63,1111.12h8.62v8.94h-8.62zM826.86,1111.12h8.62v8.94h-8.62zM809.63,1120.06h17.23v8.94h-17.23zM757.94,1155.81h8.62v8.94h-8.62zM792.40,1155.81h8.62v8.94h-8.62zM835.48,1155.81h8.62v8.94h-8.62zM835.48,1164.75h8.62v8.94h-8.62z"/>
<path fill="#C6C8C8" d="M779.2,1155.3L780.8,1153.8L782.7,1152.2L785,1149.7L786.1,1149.9L786.1,1151.5L785,1153.8L784,1155.7L783.8,1158L783.3,1160.3L782.3,1163L781.2,1162.6L779.6,1160.7L779.4,1158.7L780,1157.2Z"/>
<path class="ez" d="M682.8,954.9L680.3,971.5L677,988.1L679.5,993.1M679.5,993.1L677.8,998.1L655.3,1004.7L632,1012.2L608.7,1018.8L592,1024.6L577,1031.3L560.4,1041.2L544.5,1053.7L537.9,1066.2L532.9,1082.8L527.9,1105.2L532.1,1114.3L538.7,1127.6L548.7,1139.2L560.4,1149.2L568.7,1153.5L585.4,1158.4L605.3,1164.3L615.3,1165.6L638.6,1163.4L655.3,1156L673.6,1150.1M679.5,993.1L688.6,994.7L701.9,998.9L713.6,1004.7L723.6,1013L731.9,1023L736.9,1032.9L740.3,1041.2L743.6,1049.6L745.3,1062M745.3,1062L738.6,1066.2L721.9,1081.1L701.9,1101L688.6,1117.6L680.3,1130.9L673.6,1149.2L673.6,1150.1M673.6,1150.1L679.5,1161.8L679.9,1167.6L675.3,1168.4L669.5,1179.2L666.1,1190.8L665.3,1204.1L667.8,1217.4L672.8,1221.6L665.3,1234L658.6,1247.3L656.1,1260.6L656.1,1277.2L655.3,1292.1L655.3,1308.8L657.8,1327.8M679.5,1161.8L693.6,1164.3L715.3,1164.6L730.3,1160.9L751.9,1157.6L752,1157.6L763.7,1134.4L768.7,1125.9L778.7,1109.3L788.7,1094.4M745.4,1062L760.4,1066.2L772,1072.8L782,1079.4L788.7,1085.3L788.7,1094.4M788.7,1094.4L793.7,1104.4L800.3,1116L804.5,1127.6L808.6,1140.9M804.5,1127.6L836.1,1127.6M906.1,954.9L915.2,964.9L931.1,971.5L931.1,985.6L862,1020.5L862,1039.1L887.8,1039.1L896.9,1030.5L901.9,1027.1M805.3,1327.5L807,1325.8L813.6,1322.1L820.4,1317.9L822.9,1317.1L827.1,1317.1L830.4,1320.4L829.6,1323.8M808.8,1141.5L807.7,1141.9L796.9,1142.6L791.9,1144L785.4,1148L783.8,1150.3L783.1,1153.4L783.8,1157.2L782.3,1164.1L780.8,1168.7L783.1,1171L783.1,1174.5L780.4,1176.8L776.9,1176.4L775.8,1175.6L775.4,1178.7L774.2,1181.7L773.5,1185.6L770.8,1187.1L768.1,1187.9L765,1185.6L763.5,1184L768.1,1183.3L773.8,1182.1"/>
</g>
<rect class="bd" x="511.3" y="956.7" width="424.6" height="371.6"/>
<path class="tk" d="M533.9,1328.7v7.4M620.1,1328.7v7.4M706.2,1328.7v7.4M792.4,1328.7v7.4M878.6,1328.7v7.4"/>
<text class="ax" x="533.9" y="1359.3" text-anchor="middle">30°W</text>
<text class="ax" x="620.1" y="1359.3" text-anchor="middle">20°W</text>
<text class="ax" x="706.2" y="1359.3" text-anchor="middle">10°W</text>
<text class="ax" x="792.4" y="1359.3" text-anchor="middle">0°</text>
<text class="ax" x="878.6" y="1359.3" text-anchor="middle">10°E</text>
<clipPath id="cA33"><rect x="951.5" y="956.7" width="424.6" height="371.6"/></clipPath>
<g clip-path="url(#cA33)">
<path class="ld" d="M950.2,955L998.6,955L998.6,957.9L1003.7,959L1008.7,959.3L1011.2,961.3L1011.6,964.2L1009.5,966.3L1005.3,968.4L999.5,968.6L993.6,968.4L988.2,968L991.5,970.9L991.1,973.8L988.6,975.5L982.8,977.6L988.6,978.9L995.3,978.9L1000.3,978.5L1002.8,977.6L1004.1,979.3L999.5,981.4L996.1,983.9L994.5,986L997.8,986L999.5,983.5L1003.7,982.2L1008.7,981.4L1012.8,980.3L1016.2,980.6L1020.4,981.8L1025.4,983.5L1030.4,984.3L1037.1,984.3L1041.3,984.3L1038.8,986.8L1033.7,989L1027.9,991L1028.3,993.6L1023.7,994L1022.9,996.5L1019.5,998.6L1015.4,999.9L1017,1001.5L1012,1004.5L1007,1007.4L1002,1009.5L995.3,1011.6L988.6,1013.3L981.9,1015.8L976.1,1015.8L972.7,1017.1L967.7,1017.9L968.5,1019.6L964.4,1020.2L961,1018.7L957.7,1016.2L954.3,1014.1L955.2,1017.1L953.5,1017.9L955.6,1020L955.2,1022.1L952.7,1024.2L950.2,1024.6ZM1012,955L1041.3,955L1041.3,957.5L1039.6,959.2L1039.6,964.2L1038.3,971.7L1038.3,977.6L1033.7,978.3L1030.4,978L1027.5,976.4L1025.4,973.4L1024.1,970.1L1023.3,966.3L1020.4,963.8L1017,962.5L1013.7,960.4L1012,958.3ZM1040.4,960.4L1045.4,960L1046.3,966.7L1046.7,972.6L1046.7,977.6L1043.8,978.3L1040,977.2L1040,971.7L1040,964.2ZM1022.5,1066.2L1026.2,1062.1L1028.7,1061.2L1028.7,1057.1L1032.1,1054.6L1035,1055.8L1034.6,1051.3L1037.9,1050L1040.4,1050.4L1042.9,1052.5L1046.2,1055L1048.7,1057.1L1050,1059.6L1049.5,1062.5L1047.5,1063.3L1048.7,1065.8L1051.2,1068.7L1051.6,1070.4L1052.9,1066.2L1054.5,1063.7L1057,1064.6L1057.9,1059.6L1058.7,1055.8L1060.8,1056.2L1062.9,1059.2L1065,1061.6L1065.8,1058.7L1066.6,1055.8L1070.4,1054.6L1072.9,1056.7L1075.4,1059.6L1077,1062.1L1077.4,1059.6L1075.8,1055L1079.5,1055.4L1082,1057.9L1083.7,1056.2L1085.8,1053.8L1087.9,1055L1091.6,1054.2L1091.2,1049.6L1093.7,1047.9L1096.2,1048.8L1097.9,1051.7L1098.7,1053.3L1102,1053.3L1104.5,1051.7L1107,1050.9L1104.9,1053.3L1103.3,1056.2L1106.2,1057.1L1106.6,1061.2L1109.1,1061.6L1110.3,1064.6L1113.7,1065L1116.2,1066.6L1114.9,1068.7L1116.2,1071.2L1117,1073.7L1114.5,1075.4L1114.1,1079.1L1111.2,1080.3L1109.5,1080.7L1108.7,1084.5L1107,1086.1L1103.7,1087.4L1099.5,1088.6L1096.2,1090.7L1092.9,1092.8L1089.5,1096.1L1086.2,1096.5L1081.2,1097.8L1079.1,1099.4L1079.1,1101.5L1075.4,1103.2L1072,1103.4L1067,1102.9L1062.9,1101.1L1058.7,1099.8L1056.6,1098.6L1057.9,1096.9L1054.5,1096.5L1052,1095.7L1051.2,1094.4L1048.7,1095.3L1047.1,1096.1L1042.9,1095.7L1038.7,1096.1L1037.5,1092L1039.6,1093.2L1042.1,1092.8L1044.1,1091.1L1045.8,1088.6L1047.1,1086.6L1044.1,1087.8L1044.6,1084.9L1047.1,1082L1044.1,1083.7L1041.6,1082.8L1042.1,1080.7L1040.4,1079.5L1036.2,1079.5L1032.1,1079.1L1028.7,1080.2L1026.6,1078.3L1028.7,1077L1032.9,1075.8L1036.2,1075.4L1038.7,1074.5L1042.9,1074.4L1046.2,1073.7L1046.2,1072.4L1042.9,1072.4L1039.6,1072L1042.1,1070.4L1044.6,1068.7L1045.4,1067.5L1042.9,1066.6L1039.6,1065.8L1035.4,1065.8L1031.2,1067L1027.5,1068.3L1025.4,1067ZM1377.8,1013.5L1375.7,1013.5L1372.8,1014.7L1368.7,1017.6L1365.3,1019.7L1366.2,1022.2L1362,1022.2L1359.5,1023.8L1360.3,1027.2L1362.8,1027.2L1362,1028.8L1359.5,1030.1L1358.7,1032.1L1356.2,1034.2L1356.2,1036.3L1352.8,1038.8L1349.5,1039.6L1349.1,1042.1L1346.2,1044.6L1345.3,1048.7L1346.2,1051.2L1343.7,1054.6L1341.2,1057.9L1339.5,1061.2L1337.8,1065.3L1336.2,1069.5L1333.7,1074.5L1330.4,1076.2L1330.4,1079.5L1327,1082.4L1322.9,1084.9L1321.2,1088.7L1319.5,1091.1L1317.9,1094.5L1315.4,1097L1314.5,1099.4L1311.2,1101.1L1308.7,1099.9L1306.2,1101.1L1307,1103.6L1303.7,1106.1L1302,1108.6L1297,1109L1292.9,1110.7L1291.2,1113.6L1290.4,1116.1L1287,1117.3L1285.4,1120.2L1283.7,1124.4L1282.1,1127.3L1276.2,1127.7L1275.4,1131.8L1276.2,1136L1276.6,1139.3L1275.8,1143.5L1276.2,1147.6L1275,1150.9L1277.1,1154.3L1277.9,1158.4L1277.1,1159.3L1277.1,1161.8L1277.9,1165.1L1276.6,1169.3L1279.6,1166.8L1281.6,1165.1L1282.1,1169.3L1278.7,1171.7L1277.5,1175.1L1277.5,1178.8L1281.2,1177.6L1283.7,1175.9L1283.7,1180.1L1284.5,1182.5L1281.2,1181.7L1280,1185.9L1281.2,1189.2L1283.7,1192.1L1287,1194.2L1289.5,1195.4L1289.5,1198.7L1293.7,1200L1297.9,1200L1302,1197.9L1305.4,1196.2L1308.7,1192.5L1312,1188.4L1314.5,1185.4L1317,1182.5L1319.5,1182.1L1322,1181.3L1322.9,1178.4L1323.7,1176.7L1322.9,1173.4L1323.3,1170.5L1324.5,1170.5L1324.9,1173.4L1324.5,1176.3L1326.2,1178.8L1328.3,1180.1L1330.8,1180.5L1328.7,1181.7L1329.1,1185.9L1329.5,1190L1330.4,1194.2L1332.4,1198.3L1333.7,1203.3L1335.4,1207.5L1335.8,1210.8L1337.8,1214.9L1339.5,1218.3L1342,1221.6L1344.1,1224.9L1343.7,1226.6L1342,1227.4L1342,1229.9L1340.8,1231.5L1341.6,1234L1342.8,1236.5L1344.1,1239.8L1344.5,1242.3L1344.1,1245.7L1347,1246.5L1350.3,1246.1L1354.5,1245.2L1356.2,1243.6L1355.3,1240.7L1355.8,1237.3L1357.8,1234.9L1360.3,1232.4L1363.7,1232L1367,1231.5L1368.7,1232.8L1371.2,1230.3L1372.4,1226.6L1373.7,1223.2L1374.9,1219.1L1375.3,1212.4L1377.8,1212.4ZM1371.2,998.1L1370.3,999.7L1367,1002.2L1365.7,1003.9L1367,1006.4L1365.3,1009.7L1362.8,1012.6L1358.7,1013.9L1356.2,1015.5L1354.5,1016.4L1350.3,1015.9L1347,1018L1344.9,1020.5L1346.2,1021.3L1350.3,1020.1L1355.3,1018.4L1359.5,1016.4L1364.5,1015.5L1368.7,1014.7L1372,1013.9L1377.8,1011.4L1377.8,1007.2L1375.3,1007.2L1372.8,1005.6L1370.3,1006.4L1369.5,1003.1L1371.6,999.7ZM1356.6,1008.5L1359.5,1006.8L1362.4,1003.1L1364.1,1005.6L1365.3,1008L1362.8,1009.7L1358.7,1009.3ZM1323.7,1204.5L1322,1206.6L1318.7,1207.5L1317,1209.9L1315.4,1213.3L1312,1214.5L1307.9,1215.3L1305.4,1217.4L1303.7,1221.6L1304.5,1223.2L1302.5,1224.5L1302.7,1229L1302.9,1234L1302.5,1238.2L1302.5,1243.2L1307,1246.5L1306.2,1249.9L1304.5,1253.2L1303.7,1256.5L1305.4,1258.2L1307.9,1259L1308.7,1261.5L1307,1264.8L1308.7,1267.3L1308.7,1270.6L1310.4,1273.1L1307.9,1273.1L1306.2,1275.6L1304.5,1278.1L1302.5,1276.4L1300.4,1275.6L1296.2,1276L1293.7,1278.1L1293.3,1280.6L1290.4,1280.2L1287,1281L1283.7,1281L1280.4,1283.1L1278.7,1287.2L1274.6,1290.5L1272.9,1293.9L1272.5,1298.8L1270.4,1303.8L1267.9,1307.2L1266.6,1310.5L1268.3,1313L1269.1,1315.5L1272.1,1316.3L1275.4,1315.9L1277.1,1318.8L1279.6,1319.6L1282.5,1321.7L1282.5,1327.9L1377.8,1327.9L1377.8,1262.3L1375.7,1262.3L1372.8,1264.8L1367,1267.3L1361.2,1269.8L1357,1272.3L1354.5,1271L1351.2,1269L1347.8,1266.9L1350.3,1264L1350.3,1260.7L1347.8,1259L1346.2,1260.7L1345.3,1263.1L1340.3,1263.1L1338.7,1265.6L1337,1267.7L1334.5,1268.5L1332.4,1271L1330.4,1271.9L1325.8,1270.2L1327.4,1268.1L1328.3,1265.2L1327,1264.4L1323.7,1264.8L1320.4,1263.6L1318.7,1261.5L1319.1,1259L1317.9,1256.5L1316.2,1254.8L1316.6,1252.3L1314.5,1251.5L1316.2,1248.2L1316.2,1244.9L1317.9,1241.6L1319.5,1239.1L1321.2,1235.7L1321.2,1232.4L1322.9,1230.7L1324.5,1231.1L1327,1229.9L1327.4,1227.4L1325.8,1225.3L1323.7,1225.7L1322,1224.9L1321.6,1220.7L1322,1217.4L1322.9,1214.1L1323.7,1210.8L1323.3,1207.5ZM1317.9,1244L1321.2,1242.4L1324.5,1243.2L1325.4,1246.5L1324.9,1250.3L1322.9,1251.9L1319.5,1250.7L1318.3,1247.4ZM1328.3,1239.8L1330.4,1237.3L1332.4,1235.7L1335.4,1235.3L1338.7,1233.2L1340.8,1234L1341.2,1237.3L1339.9,1241.5L1337.8,1243.6L1338.7,1246.5L1337,1249L1335.8,1250.6L1335.8,1256.5L1334.5,1254.8L1333.7,1250.7L1332,1249L1329.5,1247.4L1328.7,1243.2L1327.9,1239.1ZM1327.9,1254L1330.4,1254.8L1333.7,1256.9L1334.1,1258.6L1331.6,1259.4L1328.7,1257.7L1327.4,1255.7ZM1324.9,1252.8L1326.6,1252.8L1325.4,1256.5L1324.5,1256.1ZM1359.5,1248.2L1361.2,1248.2L1362.8,1250.3L1362.8,1251.9L1360.3,1251.5L1359.5,1249.9ZM1189.5,1188.4L1192.9,1189.2L1197.9,1188.8L1202,1187.9L1204.5,1187.5L1206.6,1188.8L1207,1190.9L1206.2,1193.3L1203.7,1195.8L1201.6,1198.3L1199.5,1200.8L1198.7,1203.3L1198.7,1205.8L1202.4,1205L1207,1204.8L1212,1205L1217,1205.4L1217.9,1208.3L1216.6,1211.6L1215.4,1214.9L1214.1,1219.1L1212.9,1222.4L1211.2,1225.7L1208.7,1228.2L1210.8,1230.7L1207.9,1232.4L1206.2,1234.9L1208.7,1234L1211.2,1234.9L1214.5,1236.5L1216.2,1239L1218.7,1242.3L1219.5,1246.5L1220.4,1250.6L1221.6,1254.8L1223.7,1258.9L1224.5,1259.8L1227.8,1261.5L1229.5,1264.8L1232,1268.1L1231.6,1271.4L1233.7,1275.6L1234.1,1278.9L1235.8,1283.1L1236.2,1286.4L1234.1,1289.7L1235.3,1291.4L1237.8,1288.9L1241.2,1288.9L1244.5,1290.1L1247,1292.2L1248.2,1295.5L1247.8,1299.7L1247,1303.8L1245.3,1307.2L1242.8,1310.5L1241.2,1313L1238.7,1315.5L1240.3,1317.5L1245.3,1317.1L1245.7,1320.4L1243.7,1322.9L1241.2,1325.4L1241.2,1328.3L1193.3,1328.3L1193.7,1324.6L1196.2,1323.8L1197,1320.9L1201.2,1320.4L1206.2,1320.4L1207,1317.9L1208.7,1314.6L1205.4,1317.1L1202,1317.5L1199.5,1315L1196.2,1314.6L1195.4,1312.6L1192.9,1312.1L1189.5,1314.2L1187.9,1311.3L1187,1307.6L1190.4,1305.5L1194.5,1303L1197,1300.5L1197,1293.9L1196.2,1291L1191.6,1292.6L1192,1291.4L1194.5,1288.9L1195.4,1286.4L1193.3,1283.1L1194.5,1281.4L1197,1283.9L1199.5,1283.9L1202.9,1282.7L1206.2,1280.6L1206.6,1277.3L1206.6,1273.1L1207.9,1269.4L1206.2,1269.8L1204.5,1268.1L1202.9,1264.8L1201.6,1261.5L1202.9,1257.3L1203.7,1254L1202,1254.8L1198.7,1257.3L1195.4,1258.2L1192,1257.3L1190,1259L1187.9,1254.8L1188.7,1252.3L1190.4,1248.2L1192,1244L1190.4,1240.7L1188.7,1239.1L1190.4,1238.2L1189.5,1236.5L1188.3,1239L1186.2,1240.7L1185.8,1244L1185.4,1247.3L1182.5,1247.3L1183.3,1243.2L1183.7,1239L1184.1,1234.9L1184.5,1231.5L1185.4,1228.2L1182.9,1227.4L1182,1229.5L1179.1,1229.1L1179.5,1226.1L1178.3,1224.1L1179.1,1221.6L1182,1220.7L1183.3,1217.4L1184.5,1215.8L1183.7,1213.3L1181.2,1212.4L1179.1,1210.8L1177,1210.8L1174.5,1209.5L1177,1206.6L1178.7,1205.8L1180.4,1209.1L1182.5,1209.9L1182.5,1205.8L1183.3,1201.7L1185.4,1200.8L1185.8,1198.3L1187,1195.8L1188.3,1192.5ZM1177,1239L1179.5,1237.4L1182,1234.9L1183.7,1233.2L1184.1,1235.7L1182,1237.4L1180,1239L1179.5,1241.5L1178.3,1241.5ZM1172.1,1197.5L1173.7,1195.8L1177,1192.5L1179.1,1191.3L1179.4,1193.3L1177.9,1197.5L1177,1200L1174.5,1201.7L1172.5,1203.3L1172.1,1200.8ZM1167.7,1205.8L1169.6,1205.6L1171.6,1206.6L1171.4,1207.6L1169.1,1207.5ZM1168.7,1210.8L1170,1210.8L1170.2,1214.9L1168.9,1215.1ZM1167.5,1216.6L1168.7,1216.6L1168.7,1217.8L1167.5,1217.8ZM1192,1269L1193.3,1265.6L1194.9,1264L1195.4,1266L1194.1,1268.5L1192.4,1269.4ZM1169.5,1247.4L1172,1249.4L1175.4,1249L1178.7,1248.6L1180.4,1250.7L1180.8,1253.2L1182.9,1256.1L1182.5,1259L1184.5,1259.8L1185.4,1262.3L1184.1,1265.2L1182,1267.3L1181.2,1269.8L1178.3,1271.4L1178.7,1275.6L1179.5,1279.7L1179.5,1283.9L1180.4,1288.1L1180,1292.2L1179.1,1296.4L1177.9,1299.7L1177,1300.5L1178.3,1302.6L1174.5,1303.4L1170.4,1303.8L1167.9,1305.5L1165.4,1308L1162.9,1309.6L1160.4,1308L1160,1311.3L1157.1,1313.8L1154.6,1315L1151.2,1315L1148.7,1315.9L1148.3,1313.8L1150.4,1312.1L1146.2,1312.6L1147.1,1310.5L1143.3,1309.6L1144.6,1307.2L1147.5,1304.7L1143.7,1303.4L1145,1301.3L1147.9,1300.5L1148.3,1298L1149.6,1295.5L1154.6,1293.9L1157.1,1294.3L1153.7,1295.9L1149.6,1296.4L1148.7,1295.1L1151.2,1292.2L1152.1,1288.9L1153.7,1286.4L1156.2,1285.6L1155.4,1284.3L1151.2,1284.3L1147.9,1282.2L1145.4,1279.7L1147.5,1278.9L1147.5,1276.4L1150,1273.9L1147.1,1273.1L1146.2,1271.4L1143.7,1271L1146.2,1270.6L1147.1,1268.1L1145.8,1266.5L1147.9,1265.2L1152.1,1265.2L1154.1,1266.5L1157.9,1266L1159.1,1263.1L1161.2,1260.7L1159.6,1259L1157.1,1258.6L1158.7,1256.5L1160.8,1254.8L1160.4,1253.2L1161.6,1249.9L1165.4,1249L1167,1248.2L1166.6,1252.3L1168.3,1252.3Z"/><path fill="#FFE529" stroke="#FFE529" stroke-width="0.25" d="M1249.63,986.00h8.62v8.94h-8.62zM1241.02,1012.81h8.62v8.94h-8.62zM1172.09,1021.75h8.62v8.94h-8.62zM1189.32,1030.69h8.62v8.94h-8.62zM1241.02,1030.69h8.62v8.94h-8.62zM1180.70,1039.62h8.62v8.94h-8.62zM1197.94,1039.62h8.62v8.94h-8.62zM1215.17,1039.62h8.62v8.94h-8.62zM1241.02,1039.62h8.62v8.94h-8.62zM1189.32,1048.56h17.23v8.94h-17.23zM1129.01,1057.50h8.62v8.94h-8.62zM1206.55,1066.44h8.62v8.94h-8.62zM965.30,1066.44h8.62v8.94h-8.62zM1266.86,1075.38h8.62v8.94h-8.62zM1025.62,1084.31h8.62v8.94h-8.62zM1111.78,1084.31h17.23v8.94h-17.23zM1154.86,1084.31h8.62v8.94h-8.62zM1094.54,1093.25h8.62v8.94h-8.62zM1025.62,1102.19h17.23v8.94h-17.23zM1051.46,1102.19h8.62v8.94h-8.62zM1094.54,1102.19h8.62v8.94h-8.62zM1232.40,1102.19h8.62v8.94h-8.62zM1051.46,1111.12h17.23v8.94h-17.23zM1232.40,1111.12h8.62v8.94h-8.62zM1241.02,1120.06h8.62v8.94h-8.62zM1275.48,1120.06h8.62v8.94h-8.62zM1215.17,1137.94h17.23v8.94h-17.23zM1241.02,1137.94h8.62v8.94h-8.62zM1206.55,1146.88h8.62v8.94h-8.62zM1223.78,1146.88h8.62v8.94h-8.62zM1249.63,1146.88h8.62v8.94h-8.62zM1241.02,1155.81h8.62v8.94h-8.62zM1275.48,1155.81h8.62v8.94h-8.62zM1206.55,1164.75h8.62v8.94h-8.62zM1163.47,1173.69h17.23v8.94h-17.23zM1197.94,1173.69h8.62v8.94h-8.62zM1232.40,1173.69h8.62v8.94h-8.62zM1163.47,1182.62h8.62v8.94h-8.62zM1215.17,1182.62h8.62v8.94h-8.62zM1146.24,1200.50h8.62v8.94h-8.62zM1232.40,1200.50h8.62v8.94h-8.62zM1146.24,1245.19h8.62v8.94h-8.62z"/><path fill="#FFA500" stroke="#FFA500" stroke-width="0.25" d="M1232.40,1012.81h8.62v8.94h-8.62zM1223.78,1030.69h17.23v8.94h-17.23zM1206.55,1039.62h8.62v8.94h-8.62zM1232.40,1039.62h8.62v8.94h-8.62zM1249.63,1039.62h17.23v8.94h-17.23zM1232.40,1048.56h8.62v8.94h-8.62zM1258.25,1048.56h8.62v8.94h-8.62zM1206.55,1057.50h8.62v8.94h-8.62zM1241.02,1057.50h17.23v8.94h-17.23zM1120.39,1066.44h25.85v8.94h-25.85zM1223.78,1066.44h17.23v8.94h-17.23zM1249.63,1066.44h8.62v8.94h-8.62zM1120.39,1075.38h17.23v8.94h-17.23zM1223.78,1075.38h8.62v8.94h-8.62zM1017.00,1084.31h8.62v8.94h-8.62zM1103.16,1084.31h8.62v8.94h-8.62zM1223.78,1084.31h17.23v8.94h-17.23zM1249.63,1084.31h8.62v8.94h-8.62zM1111.78,1093.25h8.62v8.94h-8.62zM1223.78,1093.25h8.62v8.94h-8.62zM1241.02,1093.25h8.62v8.94h-8.62zM1042.85,1102.19h8.62v8.94h-8.62zM1060.08,1102.19h17.23v8.94h-17.23zM1085.93,1102.19h8.62v8.94h-8.62zM1197.94,1102.19h8.62v8.94h-8.62zM1223.78,1102.19h8.62v8.94h-8.62zM1241.02,1102.19h8.62v8.94h-8.62zM1258.25,1102.19h8.62v8.94h-8.62zM1223.78,1111.12h8.62v8.94h-8.62zM1249.63,1111.12h25.85v8.94h-25.85zM1232.40,1120.06h8.62v8.94h-8.62zM1249.63,1120.06h8.62v8.94h-8.62zM1206.55,1129.00h8.62v8.94h-8.62zM1249.63,1129.00h8.62v8.94h-8.62zM1206.55,1155.81h34.46v8.94h-34.46zM1266.86,1155.81h8.62v8.94h-8.62zM1172.09,1164.75h34.46v8.94h-34.46zM1215.17,1164.75h17.23v8.94h-17.23zM1180.70,1173.69h8.62v8.94h-8.62zM1206.55,1173.69h25.85v8.94h-25.85zM1275.48,1173.69h8.62v8.94h-8.62zM1172.09,1182.62h17.23v8.94h-17.23zM1223.78,1182.62h8.62v8.94h-8.62zM1154.86,1191.56h17.23v8.94h-17.23zM1215.17,1191.56h17.23v8.94h-17.23zM1146.24,1209.44h8.62v8.94h-8.62zM1154.86,1218.38h8.62v8.94h-8.62zM1146.24,1236.25h8.62v8.94h-8.62z"/><path fill="#FF0000" stroke="#FF0000" stroke-width="0.25" d="M1275.48,1003.88h8.62v8.94h-8.62zM1353.02,1003.88h8.62v8.94h-8.62zM1215.17,1012.81h8.62v8.94h-8.62zM1353.02,1012.81h8.62v8.94h-8.62zM1189.32,1021.75h8.62v8.94h-8.62zM1232.40,1021.75h8.62v8.94h-8.62zM1344.41,1021.75h8.62v8.94h-8.62zM1180.70,1030.69h8.62v8.94h-8.62zM1215.17,1030.69h8.62v8.94h-8.62zM1163.47,1039.62h8.62v8.94h-8.62zM1215.17,1048.56h8.62v8.94h-8.62zM1241.02,1048.56h17.23v8.94h-17.23zM1197.94,1057.50h8.62v8.94h-8.62zM1215.17,1057.50h8.62v8.94h-8.62zM1232.40,1057.50h8.62v8.94h-8.62zM1275.48,1057.50h8.62v8.94h-8.62zM1008.38,1066.44h8.62v8.94h-8.62zM1163.47,1066.44h8.62v8.94h-8.62zM1241.02,1066.44h8.62v8.94h-8.62zM1266.86,1066.44h8.62v8.94h-8.62zM1146.24,1075.38h8.62v8.94h-8.62zM1232.40,1075.38h25.85v8.94h-25.85zM1241.02,1084.31h8.62v8.94h-8.62zM1258.25,1084.31h17.23v8.94h-17.23zM1232.40,1093.25h8.62v8.94h-8.62zM1249.63,1093.25h8.62v8.94h-8.62zM1077.31,1102.19h8.62v8.94h-8.62zM1249.63,1102.19h8.62v8.94h-8.62zM1275.48,1102.19h8.62v8.94h-8.62zM1241.02,1111.12h8.62v8.94h-8.62zM1223.78,1120.06h8.62v8.94h-8.62zM1197.94,1129.00h8.62v8.94h-8.62zM1241.02,1129.00h8.62v8.94h-8.62zM1215.17,1146.88h8.62v8.94h-8.62zM1189.32,1155.81h17.23v8.94h-17.23zM1232.40,1164.75h8.62v8.94h-8.62zM1189.32,1173.69h8.62v8.94h-8.62zM1154.86,1182.62h8.62v8.94h-8.62zM1189.32,1182.62h8.62v8.94h-8.62zM1232.40,1182.62h8.62v8.94h-8.62zM1146.24,1191.56h8.62v8.94h-8.62zM1232.40,1191.56h8.62v8.94h-8.62zM1154.86,1200.50h8.62v8.94h-8.62zM1137.62,1254.12h8.62v8.94h-8.62zM1129.01,1289.88h8.62v8.94h-8.62z"/><path fill="#6B181C" stroke="#6B181C" stroke-width="0.25" d="M1215.17,1066.44h8.62v8.94h-8.62zM1215.17,1084.31h8.62v8.94h-8.62zM1094.54,1111.12h8.62v8.94h-8.62zM1266.86,1129.00h8.62v8.94h-8.62zM1266.86,1173.69h8.62v8.94h-8.62z"/>
<path fill="#C6C8C8" d="M1219.2,1155.3L1220.8,1153.8L1222.7,1152.2L1225,1149.7L1226.1,1149.9L1226.1,1151.5L1225,1153.8L1224,1155.7L1223.8,1158L1223.3,1160.3L1222.3,1163L1221.2,1162.6L1219.6,1160.7L1219.4,1158.7L1220,1157.2Z"/>
<path class="ez" d="M1122.8,954.9L1120.3,971.5L1117,988.1L1119.5,993.1M1119.5,993.1L1117.8,998.1L1095.3,1004.7L1072,1012.2L1048.7,1018.8L1032,1024.6L1017,1031.3L1000.4,1041.2L984.5,1053.7L977.9,1066.2L972.9,1082.8L967.9,1105.2L972.1,1114.3L978.7,1127.6L988.7,1139.2L1000.4,1149.2L1008.7,1153.5L1025.4,1158.4L1045.3,1164.3L1055.3,1165.6L1078.7,1163.4L1095.3,1156L1113.6,1150.1M1119.5,993.1L1128.6,994.7L1141.9,998.9L1153.6,1004.7L1163.6,1013L1171.9,1023L1176.9,1032.9L1180.3,1041.2L1183.6,1049.6L1185.3,1062M1185.3,1062L1178.6,1066.2L1161.9,1081.1L1141.9,1101L1128.6,1117.6L1120.3,1130.9L1113.6,1149.2L1113.6,1150.1M1113.6,1150.1L1119.5,1161.8L1120,1167.6L1115.3,1168.4L1109.5,1179.2L1106.1,1190.8L1105.3,1204.1L1107.8,1217.4L1112.8,1221.6L1105.3,1234L1098.6,1247.3L1096.1,1260.6L1096.1,1277.2L1095.3,1292.1L1095.3,1308.8L1097.8,1327.8M1119.5,1161.8L1133.6,1164.3L1155.3,1164.6L1170.3,1160.9L1191.9,1157.6L1192,1157.6L1203.7,1134.4L1208.7,1125.9L1218.7,1109.3L1228.7,1094.4M1185.4,1062L1200.4,1066.2L1212,1072.8L1222,1079.4L1228.7,1085.3L1228.7,1094.4M1228.7,1094.4L1233.7,1104.4L1240.3,1116L1244.5,1127.6L1248.7,1140.9M1244.5,1127.6L1276.1,1127.6M1346.1,954.9L1355.2,964.9L1371.1,971.5L1371.1,985.6L1302,1020.5L1302,1039.1L1327.8,1039.1L1336.9,1030.5L1341.9,1027.1M1245.3,1327.5L1247,1325.8L1253.7,1322.1L1260.4,1317.9L1262.9,1317.1L1267.1,1317.1L1270.4,1320.4L1269.6,1323.8M1248.8,1141.5L1247.7,1141.9L1236.9,1142.6L1231.9,1144L1225.4,1148L1223.8,1150.3L1223.1,1153.4L1223.8,1157.2L1222.3,1164.1L1220.8,1168.7L1223.1,1171L1223.1,1174.5L1220.4,1176.8L1216.9,1176.4L1215.8,1175.6L1215.4,1178.7L1214.2,1181.7L1213.5,1185.6L1210.8,1187.1L1208.1,1187.9L1205,1185.6L1203.5,1184L1208.1,1183.3L1213.8,1182.1"/>
</g>
<rect class="bd" x="951.5" y="956.7" width="424.6" height="371.6"/>
<path class="tk" d="M973.9,1328.7v7.4M1060.1,1328.7v7.4M1146.2,1328.7v7.4M1232.4,1328.7v7.4M1318.6,1328.7v7.4"/>
<text class="ax" x="973.9" y="1359.3" text-anchor="middle">30°W</text>
<text class="ax" x="1060.1" y="1359.3" text-anchor="middle">20°W</text>
<text class="ax" x="1146.2" y="1359.3" text-anchor="middle">10°W</text>
<text class="ax" x="1232.4" y="1359.3" text-anchor="middle">0°</text>
<text class="ax" x="1318.6" y="1359.3" text-anchor="middle">10°E</text>
<clipPath id="cB11"><rect x="70.9" y="1521.6" width="424.6" height="372.3"/></clipPath>
<g clip-path="url(#cB11)">
<path fill="#FFE529" stroke="#FFE529" stroke-width="0.25" d="M352.40,1586.25h8.62v8.96h-8.62zM309.32,1613.14h8.62v8.96h-8.62zM309.32,1622.11h8.62v8.96h-8.62zM361.02,1622.11h8.62v8.96h-8.62zM335.17,1640.04h8.62v8.96h-8.62zM352.40,1640.04h8.62v8.96h-8.62zM361.02,1657.96h17.23v8.96h-17.23zM369.63,1684.85h17.23v8.96h-17.23zM335.17,1702.78h8.62v8.96h-8.62zM369.63,1702.78h8.62v8.96h-8.62zM326.55,1711.74h8.62v8.96h-8.62zM343.78,1711.74h8.62v8.96h-8.62zM317.94,1720.71h8.62v8.96h-8.62zM343.78,1720.71h8.62v8.96h-8.62zM369.63,1720.71h8.62v8.96h-8.62zM352.40,1729.67h8.62v8.96h-8.62zM386.86,1738.63h8.62v8.96h-8.62zM283.47,1747.60h8.62v8.96h-8.62zM335.17,1747.60h8.62v8.96h-8.62zM274.86,1756.56h8.62v8.96h-8.62zM343.78,1756.56h8.62v8.96h-8.62z"/><path fill="#FFA500" stroke="#FFA500" stroke-width="0.25" d="M240.39,1649.00h8.62v8.96h-8.62zM343.78,1657.96h8.62v8.96h-8.62zM343.78,1666.93h25.85v8.96h-25.85zM361.02,1675.89h8.62v8.96h-8.62zM378.25,1675.89h8.62v8.96h-8.62zM361.02,1684.85h8.62v8.96h-8.62zM369.63,1693.82h8.62v8.96h-8.62zM309.32,1720.71h8.62v8.96h-8.62zM326.55,1720.71h17.23v8.96h-17.23zM309.32,1729.67h8.62v8.96h-8.62zM326.55,1729.67h8.62v8.96h-8.62zM343.78,1729.67h8.62v8.96h-8.62zM292.09,1738.63h8.62v8.96h-8.62zM343.78,1747.60h8.62v8.96h-8.62z"/><path fill="#FF0000" stroke="#FF0000" stroke-width="0.25" d="M249.01,1640.04h8.62v8.96h-8.62zM300.70,1729.67h8.62v8.96h-8.62zM335.17,1729.67h8.62v8.96h-8.62zM300.70,1738.63h8.62v8.96h-8.62zM335.17,1738.63h17.23v8.96h-17.23z"/><path fill="#6B181C" stroke="#6B181C" stroke-width="0.25" d="M240.39,1640.04h8.62v8.96h-8.62zM231.78,1649.00h8.62v8.96h-8.62z"/><path class="ld" d="M70.2,1520.1L118.6,1520.1L118.6,1523L123.7,1524.1L128.7,1524.5L131.2,1526.4L131.6,1529.3L129.5,1531.4L125.3,1533.5L119.5,1533.7L113.6,1533.5L108.2,1533.1L111.5,1536.1L111.1,1539L108.6,1540.7L102.8,1542.8L108.6,1544.1L115.3,1544.1L120.3,1543.6L122.8,1542.8L124.1,1544.5L119.5,1546.6L116.1,1549.1L114.5,1551.2L117.8,1551.2L119.5,1548.7L123.7,1547.4L128.7,1546.6L132.8,1545.5L136.2,1545.7L140.4,1547L145.4,1548.7L150.4,1549.5L157.1,1549.5L161.3,1549.5L158.8,1552L153.7,1554.2L147.9,1556.3L148.3,1558.8L143.7,1559.2L142.9,1561.7L139.5,1563.8L135.4,1565.1L137,1566.8L132,1569.7L127,1572.7L122,1574.8L115.3,1576.9L108.6,1578.6L101.9,1581.1L96.1,1581.1L92.7,1582.3L87.7,1583.2L88.5,1584.9L84.4,1585.5L81,1584L77.7,1581.5L74.3,1579.4L75.2,1582.3L73.5,1583.2L75.6,1585.3L75.2,1587.4L72.7,1589.5L70.2,1589.9ZM132,1520.1L161.3,1520.1L161.3,1522.6L159.6,1524.3L159.6,1529.3L158.3,1536.9L158.3,1542.8L153.7,1543.5L150.4,1543.2L147.5,1541.5L145.4,1538.6L144.1,1535.2L143.3,1531.4L140.4,1528.9L137,1527.6L133.7,1525.5L132,1523.4ZM160.4,1525.5L165.4,1525.1L166.3,1531.9L166.7,1537.7L166.7,1542.8L163.8,1543.5L160,1542.4L160,1536.9L160,1529.3ZM142.5,1631.7L146.2,1627.5L148.7,1626.7L148.7,1622.5L152.1,1620L155,1621.2L154.6,1616.7L157.9,1615.4L160.4,1615.8L162.9,1617.9L166.2,1620.4L168.7,1622.5L170,1625L169.5,1627.9L167.5,1628.7L168.7,1631.2L171.2,1634.1L171.6,1635.8L172.9,1631.7L174.5,1629.2L177,1630L177.9,1625L178.7,1621.2L180.8,1621.7L182.9,1624.6L184.9,1627.1L185.8,1624.2L186.6,1621.2L190.4,1620L192.9,1622.1L195.4,1625L197,1627.5L197.4,1625L195.8,1620.4L199.5,1620.8L202,1623.3L203.7,1621.7L205.8,1619.2L207.9,1620.4L211.6,1619.6L211.2,1615L213.7,1613.3L216.2,1614.2L217.9,1617.1L218.7,1618.7L222,1618.7L224.5,1617.1L227,1616.2L224.9,1618.7L223.3,1621.7L226.2,1622.5L226.6,1626.7L229.1,1627.1L230.3,1630L233.7,1630.4L236.2,1632.1L234.9,1634.1L236.2,1636.6L237,1639.1L234.5,1640.8L234.1,1644.5L231.2,1645.8L229.5,1646.2L228.7,1650L227,1651.6L223.7,1652.9L219.5,1654.1L216.2,1656.2L212.9,1658.3L209.5,1661.6L206.2,1662L201.2,1663.3L199.1,1665L199.1,1667L195.4,1668.7L192,1669L187,1668.5L182.9,1666.6L178.7,1665.4L176.6,1664.1L177.9,1662.5L174.5,1662L172,1661.2L171.2,1660L168.7,1660.8L167.1,1661.6L162.9,1661.2L158.7,1661.6L157.5,1657.5L159.6,1658.7L162.1,1658.3L164.1,1656.6L165.8,1654.1L167.1,1652L164.1,1653.3L164.6,1650.4L167.1,1647.5L164.1,1649.1L161.6,1648.3L162.1,1646.2L160.4,1645L156.2,1645L152.1,1644.5L148.7,1645.6L146.6,1643.7L148.7,1642.5L152.9,1641.2L156.2,1640.8L158.7,1640L162.9,1639.8L166.2,1639.1L166.2,1637.9L162.9,1637.9L159.6,1637.5L162.1,1635.8L164.6,1634.1L165.4,1632.9L162.9,1632.1L159.6,1631.2L155.4,1631.2L151.2,1632.5L147.5,1633.7L145.4,1632.5ZM497.8,1578.7L495.7,1578.7L492.8,1580L488.7,1582.9L485.3,1585L486.2,1587.5L482,1587.5L479.5,1589.1L480.3,1592.5L482.8,1592.5L482,1594.1L479.5,1595.4L478.7,1597.5L476.2,1599.5L476.2,1601.6L472.8,1604.1L469.5,1605L469.1,1607.5L466.2,1610L465.3,1614.1L466.2,1616.6L463.7,1620L461.2,1623.3L459.5,1626.6L457.8,1630.8L456.2,1634.9L453.7,1639.9L450.4,1641.7L450.4,1645L447,1647.9L442.9,1650.4L441.2,1654.2L439.5,1656.7L437.9,1660L435.4,1662.5L434.5,1665L431.2,1666.6L428.7,1665.4L426.2,1666.6L427,1669.1L423.7,1671.6L422,1674.1L417,1674.5L412.9,1676.2L411.2,1679.1L410.4,1681.6L407,1682.9L405.4,1685.8L403.7,1690L402.1,1692.9L396.2,1693.3L395.4,1697.5L396.2,1701.6L396.6,1705L395.8,1709.1L396.2,1713.3L395,1716.6L397.1,1719.9L397.9,1724.1L397.1,1725L397.1,1727.5L397.9,1730.8L396.6,1735L399.6,1732.5L401.6,1730.8L402.1,1735L398.7,1737.5L397.5,1740.8L397.5,1744.6L401.2,1743.3L403.7,1741.7L403.7,1745.8L404.5,1748.3L401.2,1747.5L400,1751.7L401.2,1755L403.7,1757.9L407,1760L409.5,1761.2L409.5,1764.5L413.7,1765.8L417.9,1765.8L422,1763.7L425.4,1762.1L428.7,1758.3L432,1754.1L434.5,1751.2L437,1748.3L439.5,1747.9L442,1747.1L442.9,1744.2L443.7,1742.5L442.9,1739.2L443.3,1736.2L444.5,1736.2L444.9,1739.2L444.5,1742.1L446.2,1744.6L448.3,1745.8L450.8,1746.2L448.7,1747.5L449.1,1751.7L449.5,1755.8L450.4,1760L452.4,1764.1L453.7,1769.1L455.4,1773.3L455.8,1776.6L457.8,1780.8L459.5,1784.1L462,1787.5L464.1,1790.8L463.7,1792.5L462,1793.3L462,1795.8L460.8,1797.5L461.6,1800L462.8,1802.5L464.1,1805.8L464.5,1808.3L464.1,1811.6L467,1812.4L470.3,1812L474.5,1811.2L476.2,1809.5L475.3,1806.6L475.7,1803.3L477.8,1800.8L480.3,1798.3L483.7,1797.9L487,1797.5L488.7,1798.7L491.2,1796.2L492.4,1792.5L493.6,1789.1L494.9,1785L495.3,1778.3L497.8,1778.3ZM491.2,1563.3L490.3,1565L487,1567.5L485.7,1569.2L487,1571.7L485.3,1575L482.8,1577.9L478.7,1579.1L476.2,1580.8L474.5,1581.6L470.3,1581.2L467,1583.3L464.9,1585.8L466.2,1586.6L470.3,1585.4L475.3,1583.7L479.5,1581.6L484.5,1580.8L488.7,1580L492,1579.1L497.8,1576.6L497.8,1572.5L495.3,1572.5L492.8,1570.8L490.3,1571.7L489.5,1568.3L491.6,1565ZM476.6,1573.7L479.5,1572.1L482.4,1568.3L484.1,1570.8L485.3,1573.3L482.8,1575L478.7,1574.6ZM443.7,1770.4L442,1772.5L438.7,1773.3L437,1775.8L435.4,1779.1L432,1780.4L427.9,1781.2L425.4,1783.3L423.7,1787.5L424.5,1789.1L422.5,1790.4L422.7,1795L422.9,1800L422.5,1804.2L422.5,1809.2L427,1812.5L426.2,1815.8L424.5,1819.2L423.7,1822.5L425.4,1824.2L427.9,1825L428.7,1827.5L427,1830.8L428.7,1833.3L428.7,1836.6L430.4,1839.1L427.9,1839.1L426.2,1841.6L424.5,1844.1L422.5,1842.5L420.4,1841.6L416.2,1842.1L413.7,1844.1L413.3,1846.6L410.4,1846.2L407,1847.1L403.7,1847.1L400.4,1849.1L398.7,1853.3L394.6,1856.6L392.9,1860L392.5,1865L390.4,1870L387.9,1873.3L386.6,1876.6L388.3,1879.1L389.1,1881.6L392.1,1882.5L395.4,1882L397.1,1885L399.6,1885.8L402.5,1887.9L402.5,1894.1L497.8,1894.1L497.8,1828.3L495.7,1828.3L492.8,1830.8L487,1833.3L481.2,1835.8L477,1838.3L474.5,1837.1L471.2,1835L467.8,1832.9L470.3,1830L470.3,1826.7L467.8,1825L466.2,1826.7L465.3,1829.2L460.3,1829.2L458.7,1831.7L457,1833.7L454.5,1834.6L452.4,1837.1L450.4,1837.9L445.8,1836.2L447.4,1834.1L448.3,1831.2L447,1830.4L443.7,1830.8L440.4,1829.6L438.7,1827.5L439.1,1825L437.9,1822.5L436.2,1820.8L436.6,1818.3L434.5,1817.5L436.2,1814.2L436.2,1810.8L437.9,1807.5L439.5,1805L441.2,1801.7L441.2,1798.3L442.9,1796.6L444.5,1797L447,1795.8L447.4,1793.3L445.8,1791.2L443.7,1791.6L442,1790.8L441.6,1786.6L442,1783.3L442.9,1780L443.7,1776.6L443.3,1773.3ZM437.9,1810L441.2,1808.3L444.5,1809.2L445.4,1812.5L444.9,1816.2L442.9,1817.9L439.5,1816.7L438.3,1813.3ZM448.3,1805.8L450.4,1803.3L452.4,1801.6L455.4,1801.2L458.7,1799.1L460.8,1800L461.2,1803.3L459.9,1807.4L457.8,1809.5L458.7,1812.4L457,1814.9L455.8,1816.6L455.8,1822.5L454.5,1820.8L453.7,1816.7L452,1815L449.5,1813.3L448.7,1809.2L447.9,1805ZM447.9,1820L450.4,1820.8L453.7,1822.9L454.1,1824.6L451.6,1825.4L448.7,1823.7L447.4,1821.7ZM444.9,1818.7L446.6,1818.7L445.4,1822.5L444.5,1822.1ZM479.5,1814.2L481.2,1814.2L482.8,1816.2L482.8,1817.9L480.3,1817.5L479.5,1815.8ZM309.5,1754.2L312.9,1755L317.9,1754.6L322,1753.7L324.5,1753.3L326.6,1754.6L327,1756.7L326.2,1759.2L323.7,1761.7L321.6,1764.1L319.5,1766.6L318.7,1769.1L318.7,1771.6L322.4,1770.8L327,1770.6L332,1770.8L337,1771.2L337.9,1774.1L336.6,1777.5L335.4,1780.8L334.1,1785L332.9,1788.3L331.2,1791.6L328.7,1794.1L330.8,1796.6L327.9,1798.3L326.2,1800.8L328.7,1800L331.2,1800.8L334.5,1802.5L336.2,1805L338.7,1808.3L339.5,1812.5L340.4,1816.6L341.6,1820.8L343.7,1824.9L344.5,1825.8L347.8,1827.5L349.5,1830.8L352,1834.1L351.6,1837.5L353.7,1841.6L354.1,1845L355.7,1849.1L356.2,1852.5L354.1,1855.8L355.3,1857.5L357.8,1855L361.2,1855L364.5,1856.2L367,1858.3L368.2,1861.6L367.8,1865.8L367,1870L365.3,1873.3L362.8,1876.6L361.2,1879.1L358.7,1881.6L360.3,1883.7L365.3,1883.3L365.7,1886.6L363.7,1889.1L361.2,1891.6L361.2,1894.5L313.3,1894.5L313.7,1890.8L316.2,1889.9L317,1887L321.2,1886.6L326.2,1886.6L327,1884.1L328.7,1880.8L325.4,1883.3L322,1883.7L319.5,1881.2L316.2,1880.8L315.4,1878.7L312.9,1878.3L309.5,1880.4L307.9,1877.5L307,1873.7L310.4,1871.6L314.5,1869.1L317,1866.6L317,1860L316.2,1857.1L311.6,1858.7L312,1857.5L314.5,1855L315.4,1852.5L313.3,1849.1L314.5,1847.5L317,1850L319.5,1850L322.9,1848.7L326.2,1846.6L326.6,1843.3L326.6,1839.1L327.9,1835.4L326.2,1835.8L324.5,1834.1L322.9,1830.8L321.6,1827.5L322.9,1823.3L323.7,1820L322,1820.8L318.7,1823.3L315.4,1824.2L312,1823.3L309.9,1825L307.9,1820.8L308.7,1818.3L310.4,1814.2L312,1810L310.4,1806.7L308.7,1805L310.4,1804.1L309.5,1802.5L308.3,1805L306.2,1806.6L305.8,1810L305.4,1813.3L302.5,1813.3L303.3,1809.1L303.7,1805L304.1,1800.8L304.5,1797.5L305.4,1794.1L302.9,1793.3L302,1795.4L299.1,1795L299.5,1792L298.3,1790L299.1,1787.5L302,1786.6L303.3,1783.3L304.5,1781.6L303.7,1779.1L301.2,1778.3L299.1,1776.6L297,1776.6L294.5,1775.4L297,1772.5L298.7,1771.6L300.4,1775L302.5,1775.8L302.5,1771.6L303.3,1767.5L305.4,1766.6L305.8,1764.1L307,1761.7L308.3,1758.3ZM297,1805L299.5,1803.3L302,1800.8L303.7,1799.1L304.1,1801.6L302,1803.3L300,1805L299.5,1807.5L298.3,1807.5ZM292.1,1763.3L293.7,1761.7L297,1758.3L299.1,1757.1L299.4,1759.2L297.9,1763.3L297,1765.8L294.5,1767.5L292.5,1769.1L292.1,1766.6ZM287.7,1771.6L289.6,1771.5L291.6,1772.5L291.4,1773.5L289.1,1773.3ZM288.7,1776.6L290,1776.6L290.2,1780.8L288.9,1781ZM287.5,1782.5L288.7,1782.5L288.7,1783.7L287.5,1783.7ZM312,1835L313.3,1831.7L314.9,1830L315.4,1832.1L314.1,1834.6L312.4,1835.4ZM289.5,1813.3L292,1815.4L295.4,1815L298.7,1814.6L300.4,1816.7L300.8,1819.2L302.9,1822.1L302.4,1825L304.5,1825.8L305.4,1828.3L304.1,1831.2L302,1833.3L301.2,1835.8L298.3,1837.5L298.7,1841.6L299.5,1845.8L299.5,1850L300.4,1854.1L299.9,1858.3L299.1,1862.5L297.9,1865.8L297,1866.6L298.3,1868.7L294.5,1869.5L290.4,1870L287.9,1871.6L285.4,1874.1L282.9,1875.8L280.4,1874.1L280,1877.5L277.1,1880L274.6,1881.2L271.2,1881.2L268.7,1882L268.3,1880L270.4,1878.3L266.2,1878.7L267.1,1876.6L263.3,1875.8L264.6,1873.3L267.5,1870.8L263.7,1869.5L265,1867.5L267.9,1866.6L268.3,1864.1L269.6,1861.6L274.6,1860L277.1,1860.4L273.7,1862L269.6,1862.5L268.7,1861.2L271.2,1858.3L272.1,1855L273.7,1852.5L276.2,1851.6L275.4,1850.4L271.2,1850.4L267.9,1848.3L265.4,1845.8L267.5,1845L267.5,1842.5L270,1840L267.1,1839.1L266.2,1837.5L263.7,1837.1L266.2,1836.6L267.1,1834.1L265.8,1832.5L267.9,1831.2L272.1,1831.2L274.1,1832.5L277.9,1832.1L279.1,1829.2L281.2,1826.7L279.6,1825L277.1,1824.6L278.7,1822.5L280.8,1820.8L280.4,1819.2L281.6,1815.8L285.4,1815L287,1814.2L286.6,1818.3L288.3,1818.3Z"/>
<path fill="#C6C8C8" d="M339.2,1721L340.8,1719.4L342.7,1717.9L345,1715.4L346.1,1715.6L346.1,1717.1L345,1719.4L344,1721.4L343.8,1723.7L343.3,1726L342.3,1728.7L341.2,1728.3L339.6,1726.4L339.4,1724.4L340,1722.9Z"/>
<path class="ez" d="M242.8,1520L240.3,1536.7L237,1553.3L239.5,1558.3M239.5,1558.3L237.8,1563.3L215.3,1570L192,1577.5L168.7,1584.1L152,1590L137,1596.6L120.4,1606.6L104.5,1619.1L97.9,1631.6L92.9,1648.2L87.9,1670.7L92.1,1679.9L98.7,1693.2L108.7,1704.9L120.4,1714.9L128.7,1719.2L145.4,1724.2L165.3,1730L175.3,1731.3L198.6,1729.2L215.3,1721.7L233.6,1715.8M239.5,1558.3L248.6,1560L261.9,1564.1L273.6,1570L283.6,1578.3L291.9,1588.3L296.9,1598.3L300.3,1606.6L303.6,1614.9L305.3,1627.4M305.3,1627.4L298.6,1631.6L281.9,1646.6L261.9,1666.6L248.6,1683.2L240.3,1696.5L233.6,1714.9L233.6,1715.8M233.6,1715.8L239.5,1727.5L239.9,1733.3L235.3,1734.1L229.5,1745L226.1,1756.6L225.3,1770L227.8,1783.3L232.8,1787.4L225.3,1799.9L218.6,1813.3L216.1,1826.6L216.1,1843.2L215.3,1858.2L215.3,1874.9L217.8,1894M239.5,1727.5L253.6,1730L275.3,1730.3L290.3,1726.7L311.9,1723.3L312,1723.3L323.7,1700L328.7,1691.5L338.7,1674.9L348.7,1659.9M305.4,1627.4L320.4,1631.6L332,1638.2L342,1644.9L348.7,1650.8L348.7,1659.9M348.7,1659.9L353.7,1669.9L360.3,1681.6L364.5,1693.2L368.6,1706.5M364.5,1693.2L396.1,1693.2M466.1,1520L475.2,1530L491.1,1536.7L491.1,1550.8L422,1585.8L422,1604.4L447.8,1604.4L456.9,1595.8L461.9,1592.5M365.3,1893.7L367,1892L373.6,1888.3L380.4,1884.1L382.9,1883.3L387.1,1883.3L390.4,1886.6L389.6,1889.9M368.8,1707.1L367.7,1707.5L356.9,1708.3L351.9,1709.6L345.4,1713.7L343.8,1716L343.1,1719.1L343.8,1722.9L342.3,1729.8L340.8,1734.4L343.1,1736.7L343.1,1740.2L340.4,1742.5L336.9,1742.1L335.8,1741.4L335.4,1744.4L334.2,1747.5L333.5,1751.3L330.8,1752.9L328.1,1753.7L325,1751.3L323.5,1749.8L328.1,1749L333.8,1747.9"/>
</g>
<rect class="bd" x="70.9" y="1521.6" width="424.6" height="372.3"/>
<path class="tk" d="M93.9,1894.3v7.4M180.1,1894.3v7.4M266.2,1894.3v7.4M352.4,1894.3v7.4M438.6,1894.3v7.4M70.5,1551.2h-7.4M70.5,1640.8h-7.4M70.5,1730.5h-7.4M70.5,1820.1h-7.4"/>
<text class="ax" x="56.5" y="1558.7" text-anchor="end">70°</text>
<text class="ax" x="56.5" y="1648.3" text-anchor="end">65°</text>
<text class="ax" x="56.5" y="1738" text-anchor="end">60°</text>
<text class="ax" x="56.5" y="1827.6" text-anchor="end">55°</text>
<text class="st" x="283.2" y="1499.3" text-anchor="middle">Migration cycle 1</text>
<text class="n" x="149.3" y="1542.8">n = 135</text>
<clipPath id="cB12"><rect x="511.3" y="1521.6" width="424.6" height="372.3"/></clipPath>
<g clip-path="url(#cB12)">
<path fill="#FFE529" stroke="#FFE529" stroke-width="0.25" d="M749.32,1595.22h8.62v8.96h-8.62zM757.94,1613.14h25.85v8.96h-25.85zM697.62,1622.11h8.62v8.96h-8.62zM766.55,1622.11h8.62v8.96h-8.62zM783.78,1631.07h8.62v8.96h-8.62zM689.01,1640.04h8.62v8.96h-8.62zM783.78,1640.04h8.62v8.96h-8.62zM818.25,1640.04h8.62v8.96h-8.62zM680.39,1649.00h8.62v8.96h-8.62zM714.86,1649.00h8.62v8.96h-8.62zM818.25,1649.00h8.62v8.96h-8.62zM654.54,1657.96h8.62v8.96h-8.62zM792.40,1657.96h8.62v8.96h-8.62zM628.70,1666.93h8.62v8.96h-8.62zM783.78,1666.93h8.62v8.96h-8.62zM611.46,1675.89h8.62v8.96h-8.62zM809.63,1675.89h17.23v8.96h-17.23zM783.78,1684.85h8.62v8.96h-8.62zM801.02,1684.85h17.23v8.96h-17.23zM775.17,1711.74h8.62v8.96h-8.62zM792.40,1711.74h8.62v8.96h-8.62zM792.40,1720.71h8.62v8.96h-8.62zM732.09,1729.67h8.62v8.96h-8.62zM757.94,1729.67h8.62v8.96h-8.62zM749.32,1738.63h8.62v8.96h-8.62zM792.40,1738.63h8.62v8.96h-8.62zM723.47,1747.60h25.85v8.96h-25.85zM775.17,1747.60h8.62v8.96h-8.62zM792.40,1747.60h8.62v8.96h-8.62zM714.86,1756.56h17.23v8.96h-17.23zM783.78,1756.56h17.23v8.96h-17.23zM706.24,1774.49h8.62v8.96h-8.62z"/><path fill="#FFA500" stroke="#FFA500" stroke-width="0.25" d="M818.25,1604.18h8.62v8.96h-8.62zM792.40,1613.14h8.62v8.96h-8.62zM689.01,1631.07h8.62v8.96h-8.62zM775.17,1631.07h8.62v8.96h-8.62zM792.40,1640.04h8.62v8.96h-8.62zM671.78,1649.00h8.62v8.96h-8.62zM637.31,1666.93h17.23v8.96h-17.23zM783.78,1711.74h8.62v8.96h-8.62zM766.55,1720.71h17.23v8.96h-17.23zM740.70,1729.67h8.62v8.96h-8.62zM775.17,1729.67h8.62v8.96h-8.62zM740.70,1738.63h8.62v8.96h-8.62zM775.17,1738.63h17.23v8.96h-17.23zM783.78,1747.60h8.62v8.96h-8.62z"/><path fill="#FF0000" stroke="#FF0000" stroke-width="0.25" d="M783.78,1720.71h8.62v8.96h-8.62zM749.32,1729.67h8.62v8.96h-8.62z"/><path fill="#6B181C" stroke="#6B181C" stroke-width="0.25" d="M783.78,1729.67h8.62v8.96h-8.62z"/><path class="ld" d="M510.2,1520.1L558.6,1520.1L558.6,1523L563.7,1524.1L568.7,1524.5L571.2,1526.4L571.6,1529.3L569.5,1531.4L565.3,1533.5L559.5,1533.7L553.6,1533.5L548.2,1533.1L551.5,1536.1L551.1,1539L548.6,1540.7L542.8,1542.8L548.6,1544.1L555.3,1544.1L560.3,1543.6L562.8,1542.8L564.1,1544.5L559.5,1546.6L556.1,1549.1L554.5,1551.2L557.8,1551.2L559.5,1548.7L563.7,1547.4L568.7,1546.6L572.8,1545.5L576.2,1545.7L580.4,1547L585.4,1548.7L590.4,1549.5L597.1,1549.5L601.3,1549.5L598.8,1552L593.7,1554.2L587.9,1556.3L588.3,1558.8L583.7,1559.2L582.9,1561.7L579.5,1563.8L575.4,1565.1L577,1566.8L572,1569.7L567,1572.7L562,1574.8L555.3,1576.9L548.6,1578.6L541.9,1581.1L536.1,1581.1L532.7,1582.3L527.7,1583.2L528.5,1584.9L524.4,1585.5L521,1584L517.7,1581.5L514.3,1579.4L515.2,1582.3L513.5,1583.2L515.6,1585.3L515.2,1587.4L512.7,1589.5L510.2,1589.9ZM572,1520.1L601.3,1520.1L601.3,1522.6L599.6,1524.3L599.6,1529.3L598.3,1536.9L598.3,1542.8L593.7,1543.5L590.4,1543.2L587.5,1541.5L585.4,1538.6L584.1,1535.2L583.3,1531.4L580.4,1528.9L577,1527.6L573.7,1525.5L572,1523.4ZM600.4,1525.5L605.4,1525.1L606.3,1531.9L606.7,1537.7L606.7,1542.8L603.8,1543.5L600,1542.4L600,1536.9L600,1529.3ZM582.5,1631.7L586.2,1627.5L588.7,1626.7L588.7,1622.5L592.1,1620L595,1621.2L594.6,1616.7L597.9,1615.4L600.4,1615.8L602.9,1617.9L606.2,1620.4L608.7,1622.5L610,1625L609.5,1627.9L607.5,1628.7L608.7,1631.2L611.2,1634.1L611.6,1635.8L612.9,1631.7L614.5,1629.2L617,1630L617.9,1625L618.7,1621.2L620.8,1621.7L622.9,1624.6L624.9,1627.1L625.8,1624.2L626.6,1621.2L630.4,1620L632.9,1622.1L635.4,1625L637,1627.5L637.4,1625L635.8,1620.4L639.5,1620.8L642,1623.3L643.7,1621.7L645.8,1619.2L647.9,1620.4L651.6,1619.6L651.2,1615L653.7,1613.3L656.2,1614.2L657.9,1617.1L658.7,1618.7L662,1618.7L664.5,1617.1L667,1616.2L664.9,1618.7L663.3,1621.7L666.2,1622.5L666.6,1626.7L669.1,1627.1L670.3,1630L673.7,1630.4L676.2,1632.1L674.9,1634.1L676.2,1636.6L677,1639.1L674.5,1640.8L674.1,1644.5L671.2,1645.8L669.5,1646.2L668.7,1650L667,1651.6L663.7,1652.9L659.5,1654.1L656.2,1656.2L652.9,1658.3L649.5,1661.6L646.2,1662L641.2,1663.3L639.1,1665L639.1,1667L635.4,1668.7L632,1669L627,1668.5L622.9,1666.6L618.7,1665.4L616.6,1664.1L617.9,1662.5L614.5,1662L612,1661.2L611.2,1660L608.7,1660.8L607.1,1661.6L602.9,1661.2L598.7,1661.6L597.5,1657.5L599.6,1658.7L602.1,1658.3L604.1,1656.6L605.8,1654.1L607.1,1652L604.1,1653.3L604.6,1650.4L607.1,1647.5L604.1,1649.1L601.6,1648.3L602.1,1646.2L600.4,1645L596.2,1645L592.1,1644.5L588.7,1645.6L586.6,1643.7L588.7,1642.5L592.9,1641.2L596.2,1640.8L598.7,1640L602.9,1639.8L606.2,1639.1L606.2,1637.9L602.9,1637.9L599.6,1637.5L602.1,1635.8L604.6,1634.1L605.4,1632.9L602.9,1632.1L599.6,1631.2L595.4,1631.2L591.2,1632.5L587.5,1633.7L585.4,1632.5ZM937.8,1578.7L935.7,1578.7L932.8,1580L928.7,1582.9L925.3,1585L926.2,1587.5L922,1587.5L919.5,1589.1L920.3,1592.5L922.8,1592.5L922,1594.1L919.5,1595.4L918.7,1597.5L916.2,1599.5L916.2,1601.6L912.8,1604.1L909.5,1605L909.1,1607.5L906.2,1610L905.3,1614.1L906.2,1616.6L903.7,1620L901.2,1623.3L899.5,1626.6L897.8,1630.8L896.2,1634.9L893.7,1639.9L890.4,1641.7L890.4,1645L887,1647.9L882.9,1650.4L881.2,1654.2L879.5,1656.7L877.9,1660L875.4,1662.5L874.5,1665L871.2,1666.6L868.7,1665.4L866.2,1666.6L867,1669.1L863.7,1671.6L862,1674.1L857,1674.5L852.9,1676.2L851.2,1679.1L850.4,1681.6L847,1682.9L845.4,1685.8L843.7,1690L842.1,1692.9L836.2,1693.3L835.4,1697.5L836.2,1701.6L836.6,1705L835.8,1709.1L836.2,1713.3L835,1716.6L837.1,1719.9L837.9,1724.1L837.1,1725L837.1,1727.5L837.9,1730.8L836.6,1735L839.6,1732.5L841.6,1730.8L842.1,1735L838.7,1737.5L837.5,1740.8L837.5,1744.6L841.2,1743.3L843.7,1741.7L843.7,1745.8L844.5,1748.3L841.2,1747.5L840,1751.7L841.2,1755L843.7,1757.9L847,1760L849.5,1761.2L849.5,1764.5L853.7,1765.8L857.9,1765.8L862,1763.7L865.4,1762.1L868.7,1758.3L872,1754.1L874.5,1751.2L877,1748.3L879.5,1747.9L882,1747.1L882.9,1744.2L883.7,1742.5L882.9,1739.2L883.3,1736.2L884.5,1736.2L884.9,1739.2L884.5,1742.1L886.2,1744.6L888.3,1745.8L890.8,1746.2L888.7,1747.5L889.1,1751.7L889.5,1755.8L890.4,1760L892.4,1764.1L893.7,1769.1L895.4,1773.3L895.8,1776.6L897.8,1780.8L899.5,1784.1L902,1787.5L904.1,1790.8L903.7,1792.5L902,1793.3L902,1795.8L900.8,1797.5L901.6,1800L902.8,1802.5L904.1,1805.8L904.5,1808.3L904.1,1811.6L907,1812.4L910.3,1812L914.5,1811.2L916.2,1809.5L915.3,1806.6L915.7,1803.3L917.8,1800.8L920.3,1798.3L923.7,1797.9L927,1797.5L928.7,1798.7L931.2,1796.2L932.4,1792.5L933.6,1789.1L934.9,1785L935.3,1778.3L937.8,1778.3ZM931.2,1563.3L930.3,1565L927,1567.5L925.7,1569.2L927,1571.7L925.3,1575L922.8,1577.9L918.7,1579.1L916.2,1580.8L914.5,1581.6L910.3,1581.2L907,1583.3L904.9,1585.8L906.2,1586.6L910.3,1585.4L915.3,1583.7L919.5,1581.6L924.5,1580.8L928.7,1580L932,1579.1L937.8,1576.6L937.8,1572.5L935.3,1572.5L932.8,1570.8L930.3,1571.7L929.5,1568.3L931.6,1565ZM916.6,1573.7L919.5,1572.1L922.4,1568.3L924.1,1570.8L925.3,1573.3L922.8,1575L918.7,1574.6ZM883.7,1770.4L882,1772.5L878.7,1773.3L877,1775.8L875.4,1779.1L872,1780.4L867.9,1781.2L865.4,1783.3L863.7,1787.5L864.5,1789.1L862.5,1790.4L862.7,1795L862.9,1800L862.5,1804.2L862.5,1809.2L867,1812.5L866.2,1815.8L864.5,1819.2L863.7,1822.5L865.4,1824.2L867.9,1825L868.7,1827.5L867,1830.8L868.7,1833.3L868.7,1836.6L870.4,1839.1L867.9,1839.1L866.2,1841.6L864.5,1844.1L862.5,1842.5L860.4,1841.6L856.2,1842.1L853.7,1844.1L853.3,1846.6L850.4,1846.2L847,1847.1L843.7,1847.1L840.4,1849.1L838.7,1853.3L834.6,1856.6L832.9,1860L832.5,1865L830.4,1870L827.9,1873.3L826.6,1876.6L828.3,1879.1L829.1,1881.6L832.1,1882.5L835.4,1882L837.1,1885L839.6,1885.8L842.5,1887.9L842.5,1894.1L937.8,1894.1L937.8,1828.3L935.7,1828.3L932.8,1830.8L927,1833.3L921.2,1835.8L917,1838.3L914.5,1837.1L911.2,1835L907.8,1832.9L910.3,1830L910.3,1826.7L907.8,1825L906.2,1826.7L905.3,1829.2L900.3,1829.2L898.7,1831.7L897,1833.7L894.5,1834.6L892.4,1837.1L890.4,1837.9L885.8,1836.2L887.4,1834.1L888.3,1831.2L887,1830.4L883.7,1830.8L880.4,1829.6L878.7,1827.5L879.1,1825L877.9,1822.5L876.2,1820.8L876.6,1818.3L874.5,1817.5L876.2,1814.2L876.2,1810.8L877.9,1807.5L879.5,1805L881.2,1801.7L881.2,1798.3L882.9,1796.6L884.5,1797L887,1795.8L887.4,1793.3L885.8,1791.2L883.7,1791.6L882,1790.8L881.6,1786.6L882,1783.3L882.9,1780L883.7,1776.6L883.3,1773.3ZM877.9,1810L881.2,1808.3L884.5,1809.2L885.4,1812.5L884.9,1816.2L882.9,1817.9L879.5,1816.7L878.3,1813.3ZM888.3,1805.8L890.4,1803.3L892.4,1801.6L895.4,1801.2L898.7,1799.1L900.8,1800L901.2,1803.3L899.9,1807.4L897.8,1809.5L898.7,1812.4L897,1814.9L895.8,1816.6L895.8,1822.5L894.5,1820.8L893.7,1816.7L892,1815L889.5,1813.3L888.7,1809.2L887.9,1805ZM887.9,1820L890.4,1820.8L893.7,1822.9L894.1,1824.6L891.6,1825.4L888.7,1823.7L887.4,1821.7ZM884.9,1818.7L886.6,1818.7L885.4,1822.5L884.5,1822.1ZM919.5,1814.2L921.2,1814.2L922.8,1816.2L922.8,1817.9L920.3,1817.5L919.5,1815.8ZM749.5,1754.2L752.9,1755L757.9,1754.6L762,1753.7L764.5,1753.3L766.6,1754.6L767,1756.7L766.2,1759.2L763.7,1761.7L761.6,1764.1L759.5,1766.6L758.7,1769.1L758.7,1771.6L762.4,1770.8L767,1770.6L772,1770.8L777,1771.2L777.9,1774.1L776.6,1777.5L775.4,1780.8L774.1,1785L772.9,1788.3L771.2,1791.6L768.7,1794.1L770.8,1796.6L767.9,1798.3L766.2,1800.8L768.7,1800L771.2,1800.8L774.5,1802.5L776.2,1805L778.7,1808.3L779.5,1812.5L780.4,1816.6L781.6,1820.8L783.7,1824.9L784.5,1825.8L787.8,1827.5L789.5,1830.8L792,1834.1L791.6,1837.5L793.7,1841.6L794.1,1845L795.7,1849.1L796.2,1852.5L794.1,1855.8L795.3,1857.5L797.8,1855L801.2,1855L804.5,1856.2L807,1858.3L808.2,1861.6L807.8,1865.8L807,1870L805.3,1873.3L802.8,1876.6L801.2,1879.1L798.7,1881.6L800.3,1883.7L805.3,1883.3L805.7,1886.6L803.7,1889.1L801.2,1891.6L801.2,1894.5L753.3,1894.5L753.7,1890.8L756.2,1889.9L757,1887L761.2,1886.6L766.2,1886.6L767,1884.1L768.7,1880.8L765.4,1883.3L762,1883.7L759.5,1881.2L756.2,1880.8L755.4,1878.7L752.9,1878.3L749.5,1880.4L747.9,1877.5L747,1873.7L750.4,1871.6L754.5,1869.1L757,1866.6L757,1860L756.2,1857.1L751.6,1858.7L752,1857.5L754.5,1855L755.4,1852.5L753.3,1849.1L754.5,1847.5L757,1850L759.5,1850L762.9,1848.7L766.2,1846.6L766.6,1843.3L766.6,1839.1L767.9,1835.4L766.2,1835.8L764.5,1834.1L762.9,1830.8L761.6,1827.5L762.9,1823.3L763.7,1820L762,1820.8L758.7,1823.3L755.4,1824.2L752,1823.3L749.9,1825L747.9,1820.8L748.7,1818.3L750.4,1814.2L752,1810L750.4,1806.7L748.7,1805L750.4,1804.1L749.5,1802.5L748.3,1805L746.2,1806.6L745.8,1810L745.4,1813.3L742.5,1813.3L743.3,1809.1L743.7,1805L744.1,1800.8L744.5,1797.5L745.4,1794.1L742.9,1793.3L742,1795.4L739.1,1795L739.5,1792L738.3,1790L739.1,1787.5L742,1786.6L743.3,1783.3L744.5,1781.6L743.7,1779.1L741.2,1778.3L739.1,1776.6L737,1776.6L734.5,1775.4L737,1772.5L738.7,1771.6L740.4,1775L742.5,1775.8L742.5,1771.6L743.3,1767.5L745.4,1766.6L745.8,1764.1L747,1761.7L748.3,1758.3ZM737,1805L739.5,1803.3L742,1800.8L743.7,1799.1L744.1,1801.6L742,1803.3L740,1805L739.5,1807.5L738.3,1807.5ZM732.1,1763.3L733.7,1761.7L737,1758.3L739.1,1757.1L739.4,1759.2L737.9,1763.3L737,1765.8L734.5,1767.5L732.5,1769.1L732.1,1766.6ZM727.7,1771.6L729.6,1771.5L731.6,1772.5L731.4,1773.5L729.1,1773.3ZM728.7,1776.6L730,1776.6L730.2,1780.8L728.9,1781ZM727.5,1782.5L728.7,1782.5L728.7,1783.7L727.5,1783.7ZM752,1835L753.3,1831.7L754.9,1830L755.4,1832.1L754.1,1834.6L752.4,1835.4ZM729.5,1813.3L732,1815.4L735.4,1815L738.7,1814.6L740.4,1816.7L740.8,1819.2L742.9,1822.1L742.4,1825L744.5,1825.8L745.4,1828.3L744.1,1831.2L742,1833.3L741.2,1835.8L738.3,1837.5L738.7,1841.6L739.5,1845.8L739.5,1850L740.4,1854.1L739.9,1858.3L739.1,1862.5L737.9,1865.8L737,1866.6L738.3,1868.7L734.5,1869.5L730.4,1870L727.9,1871.6L725.4,1874.1L722.9,1875.8L720.4,1874.1L720,1877.5L717.1,1880L714.6,1881.2L711.2,1881.2L708.7,1882L708.3,1880L710.4,1878.3L706.2,1878.7L707.1,1876.6L703.3,1875.8L704.6,1873.3L707.5,1870.8L703.7,1869.5L705,1867.5L707.9,1866.6L708.3,1864.1L709.6,1861.6L714.6,1860L717.1,1860.4L713.7,1862L709.6,1862.5L708.7,1861.2L711.2,1858.3L712.1,1855L713.7,1852.5L716.2,1851.6L715.4,1850.4L711.2,1850.4L707.9,1848.3L705.4,1845.8L707.5,1845L707.5,1842.5L710,1840L707.1,1839.1L706.2,1837.5L703.7,1837.1L706.2,1836.6L707.1,1834.1L705.8,1832.5L707.9,1831.2L712.1,1831.2L714.1,1832.5L717.9,1832.1L719.1,1829.2L721.2,1826.7L719.6,1825L717.1,1824.6L718.7,1822.5L720.8,1820.8L720.4,1819.2L721.6,1815.8L725.4,1815L727,1814.2L726.6,1818.3L728.3,1818.3Z"/>
<path fill="#C6C8C8" d="M779.2,1721L780.8,1719.4L782.7,1717.9L785,1715.4L786.1,1715.6L786.1,1717.1L785,1719.4L784,1721.4L783.8,1723.7L783.3,1726L782.3,1728.7L781.2,1728.3L779.6,1726.4L779.4,1724.4L780,1722.9Z"/>
<path class="ez" d="M682.8,1520L680.3,1536.7L677,1553.3L679.5,1558.3M679.5,1558.3L677.8,1563.3L655.3,1570L632,1577.5L608.7,1584.1L592,1590L577,1596.6L560.4,1606.6L544.5,1619.1L537.9,1631.6L532.9,1648.2L527.9,1670.7L532.1,1679.9L538.7,1693.2L548.7,1704.9L560.4,1714.9L568.7,1719.2L585.4,1724.2L605.3,1730L615.3,1731.3L638.6,1729.2L655.3,1721.7L673.6,1715.8M679.5,1558.3L688.6,1560L701.9,1564.1L713.6,1570L723.6,1578.3L731.9,1588.3L736.9,1598.3L740.3,1606.6L743.6,1614.9L745.3,1627.4M745.3,1627.4L738.6,1631.6L721.9,1646.6L701.9,1666.6L688.6,1683.2L680.3,1696.5L673.6,1714.9L673.6,1715.8M673.6,1715.8L679.5,1727.5L679.9,1733.3L675.3,1734.1L669.5,1745L666.1,1756.6L665.3,1770L667.8,1783.3L672.8,1787.4L665.3,1799.9L658.6,1813.3L656.1,1826.6L656.1,1843.2L655.3,1858.2L655.3,1874.9L657.8,1894M679.5,1727.5L693.6,1730L715.3,1730.3L730.3,1726.7L751.9,1723.3L752,1723.3L763.7,1700L768.7,1691.5L778.7,1674.9L788.7,1659.9M745.4,1627.4L760.4,1631.6L772,1638.2L782,1644.9L788.7,1650.8L788.7,1659.9M788.7,1659.9L793.7,1669.9L800.3,1681.6L804.5,1693.2L808.6,1706.5M804.5,1693.2L836.1,1693.2M906.1,1520L915.2,1530L931.1,1536.7L931.1,1550.8L862,1585.8L862,1604.4L887.8,1604.4L896.9,1595.8L901.9,1592.5M805.3,1893.7L807,1892L813.6,1888.3L820.4,1884.1L822.9,1883.3L827.1,1883.3L830.4,1886.6L829.6,1889.9M808.8,1707.1L807.7,1707.5L796.9,1708.3L791.9,1709.6L785.4,1713.7L783.8,1716L783.1,1719.1L783.8,1722.9L782.3,1729.8L780.8,1734.4L783.1,1736.7L783.1,1740.2L780.4,1742.5L776.9,1742.1L775.8,1741.4L775.4,1744.4L774.2,1747.5L773.5,1751.3L770.8,1752.9L768.1,1753.7L765,1751.3L763.5,1749.8L768.1,1749L773.8,1747.9"/>
</g>
<rect class="bd" x="511.3" y="1521.6" width="424.6" height="372.3"/>
<path class="tk" d="M533.9,1894.3v7.4M620.1,1894.3v7.4M706.2,1894.3v7.4M792.4,1894.3v7.4M878.6,1894.3v7.4"/>
<text class="st" x="723.6" y="1499.3" text-anchor="middle">Migration cycle 2</text>
<text class="n" x="589.3" y="1542.8">n = 111</text>
<clipPath id="cB13"><rect x="951.5" y="1521.6" width="424.6" height="372.3"/></clipPath>
<g clip-path="url(#cB13)">
<path fill="#FFE529" stroke="#FFE529" stroke-width="0.25" d="M1232.40,1595.22h8.62v8.96h-8.62zM1241.02,1622.11h8.62v8.96h-8.62zM1129.01,1631.07h8.62v8.96h-8.62zM1232.40,1631.07h8.62v8.96h-8.62zM1120.39,1640.04h8.62v8.96h-8.62zM1266.86,1640.04h8.62v8.96h-8.62zM1111.78,1657.96h8.62v8.96h-8.62zM1249.63,1684.85h8.62v8.96h-8.62zM1266.86,1702.78h8.62v8.96h-8.62zM1223.78,1711.74h8.62v8.96h-8.62zM1189.32,1720.71h8.62v8.96h-8.62zM1215.17,1720.71h8.62v8.96h-8.62zM1180.70,1729.67h8.62v8.96h-8.62zM1215.17,1729.67h8.62v8.96h-8.62zM1206.55,1738.63h17.23v8.96h-17.23zM1163.47,1747.60h8.62v8.96h-8.62zM1215.17,1747.60h8.62v8.96h-8.62zM1163.47,1756.56h8.62v8.96h-8.62zM1223.78,1756.56h8.62v8.96h-8.62zM1154.86,1783.45h8.62v8.96h-8.62z"/><path fill="#FFA500" stroke="#FFA500" stroke-width="0.25" d="M1275.48,1684.85h8.62v8.96h-8.62zM1223.78,1702.78h8.62v8.96h-8.62zM1215.17,1711.74h8.62v8.96h-8.62zM1206.55,1720.71h8.62v8.96h-8.62zM1223.78,1720.71h8.62v8.96h-8.62zM1223.78,1738.63h8.62v8.96h-8.62z"/><path fill="#FF0000" stroke="#FF0000" stroke-width="0.25" d="M1189.32,1729.67h8.62v8.96h-8.62zM1223.78,1729.67h8.62v8.96h-8.62zM1223.78,1747.60h8.62v8.96h-8.62z"/><path class="ld" d="M950.2,1520.1L998.6,1520.1L998.6,1523L1003.7,1524.1L1008.7,1524.5L1011.2,1526.4L1011.6,1529.3L1009.5,1531.4L1005.3,1533.5L999.5,1533.7L993.6,1533.5L988.2,1533.1L991.5,1536.1L991.1,1539L988.6,1540.7L982.8,1542.8L988.6,1544.1L995.3,1544.1L1000.3,1543.6L1002.8,1542.8L1004.1,1544.5L999.5,1546.6L996.1,1549.1L994.5,1551.2L997.8,1551.2L999.5,1548.7L1003.7,1547.4L1008.7,1546.6L1012.8,1545.5L1016.2,1545.7L1020.4,1547L1025.4,1548.7L1030.4,1549.5L1037.1,1549.5L1041.3,1549.5L1038.8,1552L1033.7,1554.2L1027.9,1556.3L1028.3,1558.8L1023.7,1559.2L1022.9,1561.7L1019.5,1563.8L1015.4,1565.1L1017,1566.8L1012,1569.7L1007,1572.7L1002,1574.8L995.3,1576.9L988.6,1578.6L981.9,1581.1L976.1,1581.1L972.7,1582.3L967.7,1583.2L968.5,1584.9L964.4,1585.5L961,1584L957.7,1581.5L954.3,1579.4L955.2,1582.3L953.5,1583.2L955.6,1585.3L955.2,1587.4L952.7,1589.5L950.2,1589.9ZM1012,1520.1L1041.3,1520.1L1041.3,1522.6L1039.6,1524.3L1039.6,1529.3L1038.3,1536.9L1038.3,1542.8L1033.7,1543.5L1030.4,1543.2L1027.5,1541.5L1025.4,1538.6L1024.1,1535.2L1023.3,1531.4L1020.4,1528.9L1017,1527.6L1013.7,1525.5L1012,1523.4ZM1040.4,1525.5L1045.4,1525.1L1046.3,1531.9L1046.7,1537.7L1046.7,1542.8L1043.8,1543.5L1040,1542.4L1040,1536.9L1040,1529.3ZM1022.5,1631.7L1026.2,1627.5L1028.7,1626.7L1028.7,1622.5L1032.1,1620L1035,1621.2L1034.6,1616.7L1037.9,1615.4L1040.4,1615.8L1042.9,1617.9L1046.2,1620.4L1048.7,1622.5L1050,1625L1049.5,1627.9L1047.5,1628.7L1048.7,1631.2L1051.2,1634.1L1051.6,1635.8L1052.9,1631.7L1054.5,1629.2L1057,1630L1057.9,1625L1058.7,1621.2L1060.8,1621.7L1062.9,1624.6L1065,1627.1L1065.8,1624.2L1066.6,1621.2L1070.4,1620L1072.9,1622.1L1075.4,1625L1077,1627.5L1077.4,1625L1075.8,1620.4L1079.5,1620.8L1082,1623.3L1083.7,1621.7L1085.8,1619.2L1087.9,1620.4L1091.6,1619.6L1091.2,1615L1093.7,1613.3L1096.2,1614.2L1097.9,1617.1L1098.7,1618.7L1102,1618.7L1104.5,1617.1L1107,1616.2L1104.9,1618.7L1103.3,1621.7L1106.2,1622.5L1106.6,1626.7L1109.1,1627.1L1110.3,1630L1113.7,1630.4L1116.2,1632.1L1114.9,1634.1L1116.2,1636.6L1117,1639.1L1114.5,1640.8L1114.1,1644.5L1111.2,1645.8L1109.5,1646.2L1108.7,1650L1107,1651.6L1103.7,1652.9L1099.5,1654.1L1096.2,1656.2L1092.9,1658.3L1089.5,1661.6L1086.2,1662L1081.2,1663.3L1079.1,1665L1079.1,1667L1075.4,1668.7L1072,1669L1067,1668.5L1062.9,1666.6L1058.7,1665.4L1056.6,1664.1L1057.9,1662.5L1054.5,1662L1052,1661.2L1051.2,1660L1048.7,1660.8L1047.1,1661.6L1042.9,1661.2L1038.7,1661.6L1037.5,1657.5L1039.6,1658.7L1042.1,1658.3L1044.1,1656.6L1045.8,1654.1L1047.1,1652L1044.1,1653.3L1044.6,1650.4L1047.1,1647.5L1044.1,1649.1L1041.6,1648.3L1042.1,1646.2L1040.4,1645L1036.2,1645L1032.1,1644.5L1028.7,1645.6L1026.6,1643.7L1028.7,1642.5L1032.9,1641.2L1036.2,1640.8L1038.7,1640L1042.9,1639.8L1046.2,1639.1L1046.2,1637.9L1042.9,1637.9L1039.6,1637.5L1042.1,1635.8L1044.6,1634.1L1045.4,1632.9L1042.9,1632.1L1039.6,1631.2L1035.4,1631.2L1031.2,1632.5L1027.5,1633.7L1025.4,1632.5ZM1377.8,1578.7L1375.7,1578.7L1372.8,1580L1368.7,1582.9L1365.3,1585L1366.2,1587.5L1362,1587.5L1359.5,1589.1L1360.3,1592.5L1362.8,1592.5L1362,1594.1L1359.5,1595.4L1358.7,1597.5L1356.2,1599.5L1356.2,1601.6L1352.8,1604.1L1349.5,1605L1349.1,1607.5L1346.2,1610L1345.3,1614.1L1346.2,1616.6L1343.7,1620L1341.2,1623.3L1339.5,1626.6L1337.8,1630.8L1336.2,1634.9L1333.7,1639.9L1330.4,1641.7L1330.4,1645L1327,1647.9L1322.9,1650.4L1321.2,1654.2L1319.5,1656.7L1317.9,1660L1315.4,1662.5L1314.5,1665L1311.2,1666.6L1308.7,1665.4L1306.2,1666.6L1307,1669.1L1303.7,1671.6L1302,1674.1L1297,1674.5L1292.9,1676.2L1291.2,1679.1L1290.4,1681.6L1287,1682.9L1285.4,1685.8L1283.7,1690L1282.1,1692.9L1276.2,1693.3L1275.4,1697.5L1276.2,1701.6L1276.6,1705L1275.8,1709.1L1276.2,1713.3L1275,1716.6L1277.1,1719.9L1277.9,1724.1L1277.1,1725L1277.1,1727.5L1277.9,1730.8L1276.6,1735L1279.6,1732.5L1281.6,1730.8L1282.1,1735L1278.7,1737.5L1277.5,1740.8L1277.5,1744.6L1281.2,1743.3L1283.7,1741.7L1283.7,1745.8L1284.5,1748.3L1281.2,1747.5L1280,1751.7L1281.2,1755L1283.7,1757.9L1287,1760L1289.5,1761.2L1289.5,1764.5L1293.7,1765.8L1297.9,1765.8L1302,1763.7L1305.4,1762.1L1308.7,1758.3L1312,1754.1L1314.5,1751.2L1317,1748.3L1319.5,1747.9L1322,1747.1L1322.9,1744.2L1323.7,1742.5L1322.9,1739.2L1323.3,1736.2L1324.5,1736.2L1324.9,1739.2L1324.5,1742.1L1326.2,1744.6L1328.3,1745.8L1330.8,1746.2L1328.7,1747.5L1329.1,1751.7L1329.5,1755.8L1330.4,1760L1332.4,1764.1L1333.7,1769.1L1335.4,1773.3L1335.8,1776.6L1337.8,1780.8L1339.5,1784.1L1342,1787.5L1344.1,1790.8L1343.7,1792.5L1342,1793.3L1342,1795.8L1340.8,1797.5L1341.6,1800L1342.8,1802.5L1344.1,1805.8L1344.5,1808.3L1344.1,1811.6L1347,1812.4L1350.3,1812L1354.5,1811.2L1356.2,1809.5L1355.3,1806.6L1355.8,1803.3L1357.8,1800.8L1360.3,1798.3L1363.7,1797.9L1367,1797.5L1368.7,1798.7L1371.2,1796.2L1372.4,1792.5L1373.7,1789.1L1374.9,1785L1375.3,1778.3L1377.8,1778.3ZM1371.2,1563.3L1370.3,1565L1367,1567.5L1365.7,1569.2L1367,1571.7L1365.3,1575L1362.8,1577.9L1358.7,1579.1L1356.2,1580.8L1354.5,1581.6L1350.3,1581.2L1347,1583.3L1344.9,1585.8L1346.2,1586.6L1350.3,1585.4L1355.3,1583.7L1359.5,1581.6L1364.5,1580.8L1368.7,1580L1372,1579.1L1377.8,1576.6L1377.8,1572.5L1375.3,1572.5L1372.8,1570.8L1370.3,1571.7L1369.5,1568.3L1371.6,1565ZM1356.6,1573.7L1359.5,1572.1L1362.4,1568.3L1364.1,1570.8L1365.3,1573.3L1362.8,1575L1358.7,1574.6ZM1323.7,1770.4L1322,1772.5L1318.7,1773.3L1317,1775.8L1315.4,1779.1L1312,1780.4L1307.9,1781.2L1305.4,1783.3L1303.7,1787.5L1304.5,1789.1L1302.5,1790.4L1302.7,1795L1302.9,1800L1302.5,1804.2L1302.5,1809.2L1307,1812.5L1306.2,1815.8L1304.5,1819.2L1303.7,1822.5L1305.4,1824.2L1307.9,1825L1308.7,1827.5L1307,1830.8L1308.7,1833.3L1308.7,1836.6L1310.4,1839.1L1307.9,1839.1L1306.2,1841.6L1304.5,1844.1L1302.5,1842.5L1300.4,1841.6L1296.2,1842.1L1293.7,1844.1L1293.3,1846.6L1290.4,1846.2L1287,1847.1L1283.7,1847.1L1280.4,1849.1L1278.7,1853.3L1274.6,1856.6L1272.9,1860L1272.5,1865L1270.4,1870L1267.9,1873.3L1266.6,1876.6L1268.3,1879.1L1269.1,1881.6L1272.1,1882.5L1275.4,1882L1277.1,1885L1279.6,1885.8L1282.5,1887.9L1282.5,1894.1L1377.8,1894.1L1377.8,1828.3L1375.7,1828.3L1372.8,1830.8L1367,1833.3L1361.2,1835.8L1357,1838.3L1354.5,1837.1L1351.2,1835L1347.8,1832.9L1350.3,1830L1350.3,1826.7L1347.8,1825L1346.2,1826.7L1345.3,1829.2L1340.3,1829.2L1338.7,1831.7L1337,1833.7L1334.5,1834.6L1332.4,1837.1L1330.4,1837.9L1325.8,1836.2L1327.4,1834.1L1328.3,1831.2L1327,1830.4L1323.7,1830.8L1320.4,1829.6L1318.7,1827.5L1319.1,1825L1317.9,1822.5L1316.2,1820.8L1316.6,1818.3L1314.5,1817.5L1316.2,1814.2L1316.2,1810.8L1317.9,1807.5L1319.5,1805L1321.2,1801.7L1321.2,1798.3L1322.9,1796.6L1324.5,1797L1327,1795.8L1327.4,1793.3L1325.8,1791.2L1323.7,1791.6L1322,1790.8L1321.6,1786.6L1322,1783.3L1322.9,1780L1323.7,1776.6L1323.3,1773.3ZM1317.9,1810L1321.2,1808.3L1324.5,1809.2L1325.4,1812.5L1324.9,1816.2L1322.9,1817.9L1319.5,1816.7L1318.3,1813.3ZM1328.3,1805.8L1330.4,1803.3L1332.4,1801.6L1335.4,1801.2L1338.7,1799.1L1340.8,1800L1341.2,1803.3L1339.9,1807.4L1337.8,1809.5L1338.7,1812.4L1337,1814.9L1335.8,1816.6L1335.8,1822.5L1334.5,1820.8L1333.7,1816.7L1332,1815L1329.5,1813.3L1328.7,1809.2L1327.9,1805ZM1327.9,1820L1330.4,1820.8L1333.7,1822.9L1334.1,1824.6L1331.6,1825.4L1328.7,1823.7L1327.4,1821.7ZM1324.9,1818.7L1326.6,1818.7L1325.4,1822.5L1324.5,1822.1ZM1359.5,1814.2L1361.2,1814.2L1362.8,1816.2L1362.8,1817.9L1360.3,1817.5L1359.5,1815.8ZM1189.5,1754.2L1192.9,1755L1197.9,1754.6L1202,1753.7L1204.5,1753.3L1206.6,1754.6L1207,1756.7L1206.2,1759.2L1203.7,1761.7L1201.6,1764.1L1199.5,1766.6L1198.7,1769.1L1198.7,1771.6L1202.4,1770.8L1207,1770.6L1212,1770.8L1217,1771.2L1217.9,1774.1L1216.6,1777.5L1215.4,1780.8L1214.1,1785L1212.9,1788.3L1211.2,1791.6L1208.7,1794.1L1210.8,1796.6L1207.9,1798.3L1206.2,1800.8L1208.7,1800L1211.2,1800.8L1214.5,1802.5L1216.2,1805L1218.7,1808.3L1219.5,1812.5L1220.4,1816.6L1221.6,1820.8L1223.7,1824.9L1224.5,1825.8L1227.8,1827.5L1229.5,1830.8L1232,1834.1L1231.6,1837.5L1233.7,1841.6L1234.1,1845L1235.8,1849.1L1236.2,1852.5L1234.1,1855.8L1235.3,1857.5L1237.8,1855L1241.2,1855L1244.5,1856.2L1247,1858.3L1248.2,1861.6L1247.8,1865.8L1247,1870L1245.3,1873.3L1242.8,1876.6L1241.2,1879.1L1238.7,1881.6L1240.3,1883.7L1245.3,1883.3L1245.7,1886.6L1243.7,1889.1L1241.2,1891.6L1241.2,1894.5L1193.3,1894.5L1193.7,1890.8L1196.2,1889.9L1197,1887L1201.2,1886.6L1206.2,1886.6L1207,1884.1L1208.7,1880.8L1205.4,1883.3L1202,1883.7L1199.5,1881.2L1196.2,1880.8L1195.4,1878.7L1192.9,1878.3L1189.5,1880.4L1187.9,1877.5L1187,1873.7L1190.4,1871.6L1194.5,1869.1L1197,1866.6L1197,1860L1196.2,1857.1L1191.6,1858.7L1192,1857.5L1194.5,1855L1195.4,1852.5L1193.3,1849.1L1194.5,1847.5L1197,1850L1199.5,1850L1202.9,1848.7L1206.2,1846.6L1206.6,1843.3L1206.6,1839.1L1207.9,1835.4L1206.2,1835.8L1204.5,1834.1L1202.9,1830.8L1201.6,1827.5L1202.9,1823.3L1203.7,1820L1202,1820.8L1198.7,1823.3L1195.4,1824.2L1192,1823.3L1190,1825L1187.9,1820.8L1188.7,1818.3L1190.4,1814.2L1192,1810L1190.4,1806.7L1188.7,1805L1190.4,1804.1L1189.5,1802.5L1188.3,1805L1186.2,1806.6L1185.8,1810L1185.4,1813.3L1182.5,1813.3L1183.3,1809.1L1183.7,1805L1184.1,1800.8L1184.5,1797.5L1185.4,1794.1L1182.9,1793.3L1182,1795.4L1179.1,1795L1179.5,1792L1178.3,1790L1179.1,1787.5L1182,1786.6L1183.3,1783.3L1184.5,1781.6L1183.7,1779.1L1181.2,1778.3L1179.1,1776.6L1177,1776.6L1174.5,1775.4L1177,1772.5L1178.7,1771.6L1180.4,1775L1182.5,1775.8L1182.5,1771.6L1183.3,1767.5L1185.4,1766.6L1185.8,1764.1L1187,1761.7L1188.3,1758.3ZM1177,1805L1179.5,1803.3L1182,1800.8L1183.7,1799.1L1184.1,1801.6L1182,1803.3L1180,1805L1179.5,1807.5L1178.3,1807.5ZM1172.1,1763.3L1173.7,1761.7L1177,1758.3L1179.1,1757.1L1179.4,1759.2L1177.9,1763.3L1177,1765.8L1174.5,1767.5L1172.5,1769.1L1172.1,1766.6ZM1167.7,1771.6L1169.6,1771.5L1171.6,1772.5L1171.4,1773.5L1169.1,1773.3ZM1168.7,1776.6L1170,1776.6L1170.2,1780.8L1168.9,1781ZM1167.5,1782.5L1168.7,1782.5L1168.7,1783.7L1167.5,1783.7ZM1192,1835L1193.3,1831.7L1194.9,1830L1195.4,1832.1L1194.1,1834.6L1192.4,1835.4ZM1169.5,1813.3L1172,1815.4L1175.4,1815L1178.7,1814.6L1180.4,1816.7L1180.8,1819.2L1182.9,1822.1L1182.5,1825L1184.5,1825.8L1185.4,1828.3L1184.1,1831.2L1182,1833.3L1181.2,1835.8L1178.3,1837.5L1178.7,1841.6L1179.5,1845.8L1179.5,1850L1180.4,1854.1L1180,1858.3L1179.1,1862.5L1177.9,1865.8L1177,1866.6L1178.3,1868.7L1174.5,1869.5L1170.4,1870L1167.9,1871.6L1165.4,1874.1L1162.9,1875.8L1160.4,1874.1L1160,1877.5L1157.1,1880L1154.6,1881.2L1151.2,1881.2L1148.7,1882L1148.3,1880L1150.4,1878.3L1146.2,1878.7L1147.1,1876.6L1143.3,1875.8L1144.6,1873.3L1147.5,1870.8L1143.7,1869.5L1145,1867.5L1147.9,1866.6L1148.3,1864.1L1149.6,1861.6L1154.6,1860L1157.1,1860.4L1153.7,1862L1149.6,1862.5L1148.7,1861.2L1151.2,1858.3L1152.1,1855L1153.7,1852.5L1156.2,1851.6L1155.4,1850.4L1151.2,1850.4L1147.9,1848.3L1145.4,1845.8L1147.5,1845L1147.5,1842.5L1150,1840L1147.1,1839.1L1146.2,1837.5L1143.7,1837.1L1146.2,1836.6L1147.1,1834.1L1145.8,1832.5L1147.9,1831.2L1152.1,1831.2L1154.1,1832.5L1157.9,1832.1L1159.1,1829.2L1161.2,1826.7L1159.6,1825L1157.1,1824.6L1158.7,1822.5L1160.8,1820.8L1160.4,1819.2L1161.6,1815.8L1165.4,1815L1167,1814.2L1166.6,1818.3L1168.3,1818.3Z"/>
<path fill="#C6C8C8" d="M1219.2,1721L1220.8,1719.4L1222.7,1717.9L1225,1715.4L1226.1,1715.6L1226.1,1717.1L1225,1719.4L1224,1721.4L1223.8,1723.7L1223.3,1726L1222.3,1728.7L1221.2,1728.3L1219.6,1726.4L1219.4,1724.4L1220,1722.9Z"/>
<path class="ez" d="M1122.8,1520L1120.3,1536.7L1117,1553.3L1119.5,1558.3M1119.5,1558.3L1117.8,1563.3L1095.3,1570L1072,1577.5L1048.7,1584.1L1032,1590L1017,1596.6L1000.4,1606.6L984.5,1619.1L977.9,1631.6L972.9,1648.2L967.9,1670.7L972.1,1679.9L978.7,1693.2L988.7,1704.9L1000.4,1714.9L1008.7,1719.2L1025.4,1724.2L1045.3,1730L1055.3,1731.3L1078.7,1729.2L1095.3,1721.7L1113.6,1715.8M1119.5,1558.3L1128.6,1560L1141.9,1564.1L1153.6,1570L1163.6,1578.3L1171.9,1588.3L1176.9,1598.3L1180.3,1606.6L1183.6,1614.9L1185.3,1627.4M1185.3,1627.4L1178.6,1631.6L1161.9,1646.6L1141.9,1666.6L1128.6,1683.2L1120.3,1696.5L1113.6,1714.9L1113.6,1715.8M1113.6,1715.8L1119.5,1727.5L1120,1733.3L1115.3,1734.1L1109.5,1745L1106.1,1756.6L1105.3,1770L1107.8,1783.3L1112.8,1787.4L1105.3,1799.9L1098.6,1813.3L1096.1,1826.6L1096.1,1843.2L1095.3,1858.2L1095.3,1874.9L1097.8,1894M1119.5,1727.5L1133.6,1730L1155.3,1730.3L1170.3,1726.7L1191.9,1723.3L1192,1723.3L1203.7,1700L1208.7,1691.5L1218.7,1674.9L1228.7,1659.9M1185.4,1627.4L1200.4,1631.6L1212,1638.2L1222,1644.9L1228.7,1650.8L1228.7,1659.9M1228.7,1659.9L1233.7,1669.9L1240.3,1681.6L1244.5,1693.2L1248.7,1706.5M1244.5,1693.2L1276.1,1693.2M1346.1,1520L1355.2,1530L1371.1,1536.7L1371.1,1550.8L1302,1585.8L1302,1604.4L1327.8,1604.4L1336.9,1595.8L1341.9,1592.5M1245.3,1893.7L1247,1892L1253.7,1888.3L1260.4,1884.1L1262.9,1883.3L1267.1,1883.3L1270.4,1886.6L1269.6,1889.9M1248.8,1707.1L1247.7,1707.5L1236.9,1708.3L1231.9,1709.6L1225.4,1713.7L1223.8,1716L1223.1,1719.1L1223.8,1722.9L1222.3,1729.8L1220.8,1734.4L1223.1,1736.7L1223.1,1740.2L1220.4,1742.5L1216.9,1742.1L1215.8,1741.4L1215.4,1744.4L1214.2,1747.5L1213.5,1751.3L1210.8,1752.9L1208.1,1753.7L1205,1751.3L1203.5,1749.8L1208.1,1749L1213.8,1747.9"/>
</g>
<rect class="bd" x="951.5" y="1521.6" width="424.6" height="372.3"/>
<path class="tk" d="M973.9,1894.3v7.4M1060.1,1894.3v7.4M1146.2,1894.3v7.4M1232.4,1894.3v7.4M1318.6,1894.3v7.4"/>
<text class="st" x="1163.8" y="1499.3" text-anchor="middle">Migration cycle 3</text>
<text class="n" x="1016.3" y="1542.8">n = 60</text>
<clipPath id="cB21"><rect x="70.9" y="1933.5" width="424" height="372.5"/></clipPath>
<g clip-path="url(#cB21)">
<path fill="#FFE529" stroke="#FFE529" stroke-width="0.25" d="M343.02,2123.24h8.58v8.95h-8.58zM317.26,2132.18h8.58v8.95h-8.58zM325.85,2141.13h8.58v8.95h-8.58z"/><path fill="#FF0000" stroke="#FF0000" stroke-width="0.25" d="M231.42,2060.61h8.58v8.95h-8.58zM368.77,2069.56h8.58v8.95h-8.58zM377.35,2087.45h8.58v8.95h-8.58zM368.77,2114.29h8.58v8.95h-8.58zM308.68,2141.13h8.58v8.95h-8.58zM274.34,2167.97h8.58v8.95h-8.58z"/><path fill="#6B181C" stroke="#6B181C" stroke-width="0.25" d="M351.60,1997.99h8.58v8.95h-8.58zM308.68,2024.83h8.58v8.95h-8.58zM308.68,2033.77h8.58v8.95h-8.58zM360.18,2033.77h8.58v8.95h-8.58zM240.01,2051.66h17.17v8.95h-17.17zM334.43,2051.66h8.58v8.95h-8.58zM351.60,2051.66h8.58v8.95h-8.58zM240.01,2060.61h8.58v8.95h-8.58zM343.02,2069.56h8.58v8.95h-8.58zM360.18,2069.56h8.58v8.95h-8.58zM343.02,2078.50h25.75v8.95h-25.75zM360.18,2087.45h8.58v8.95h-8.58zM360.18,2096.40h25.75v8.95h-25.75zM368.77,2105.34h8.58v8.95h-8.58zM334.43,2114.29h8.58v8.95h-8.58zM325.85,2123.24h8.58v8.95h-8.58zM308.68,2132.18h8.58v8.95h-8.58zM325.85,2132.18h25.75v8.95h-25.75zM368.77,2132.18h8.58v8.95h-8.58zM300.10,2141.13h8.58v8.95h-8.58zM334.43,2141.13h25.75v8.95h-25.75zM291.51,2150.08h17.17v8.95h-17.17zM334.43,2150.08h17.17v8.95h-17.17zM385.94,2150.08h8.58v8.95h-8.58zM282.93,2159.02h8.58v8.95h-8.58zM334.43,2159.02h17.17v8.95h-17.17zM343.02,2167.97h8.58v8.95h-8.58z"/><path class="ld" d="M70.4,1931.9L118.7,1931.9L118.7,1934.9L123.7,1936L128.7,1936.3L131.2,1938.2L131.6,1941.2L129.5,1943.3L125.4,1945.4L119.5,1945.5L113.7,1945.4L108.3,1945L111.6,1947.9L111.2,1950.8L108.7,1952.5L102.9,1954.6L108.7,1955.9L115.4,1955.9L120.4,1955.5L122.9,1954.6L124.1,1956.3L119.5,1958.4L116.2,1960.9L114.5,1963L117.9,1963L119.5,1960.5L123.7,1959.2L128.7,1958.4L132.9,1957.3L136.2,1957.6L140.4,1958.8L145.4,1960.5L150.3,1961.3L157,1961.3L161.2,1961.3L158.7,1963.8L153.7,1966L147.9,1968.1L148.3,1970.6L143.7,1971L142.9,1973.5L139.5,1975.6L135.4,1976.9L137,1978.6L132,1981.5L127,1984.4L122,1986.5L115.4,1988.6L108.7,1990.3L102,1992.8L96.2,1992.8L92.9,1994.1L87.9,1994.9L88.7,1996.6L84.6,1997.3L81.2,1995.8L77.9,1993.2L74.6,1991.2L75.4,1994.1L73.7,1994.9L75.8,1997L75.4,1999.1L72.9,2001.2L70.4,2001.7ZM132,1931.9L161.2,1931.9L161.2,1934.5L159.5,1936.1L159.5,1941.2L158.3,1948.7L158.3,1954.6L153.7,1955.3L150.3,1955L147.4,1953.3L145.4,1950.4L144.1,1947.1L143.3,1943.3L140.4,1940.7L137,1939.5L133.7,1937.4L132,1935.3ZM160.3,1937.4L165.3,1937L166.2,1943.7L166.6,1949.6L166.6,1954.6L163.7,1955.3L159.9,1954.2L159.9,1948.7L159.9,1941.2ZM142.5,2043.3L146.2,2039.1L148.7,2038.3L148.7,2034.2L152,2031.7L154.9,2032.9L154.5,2028.3L157.8,2027.1L160.3,2027.5L162.8,2029.6L166.1,2032.1L168.6,2034.2L169.8,2036.6L169.4,2039.6L167.3,2040.4L168.6,2042.9L171.1,2045.8L171.5,2047.4L172.7,2043.3L174.4,2040.8L176.9,2041.6L177.7,2036.6L178.6,2032.9L180.6,2033.3L182.7,2036.2L184.8,2038.7L185.6,2035.8L186.4,2032.9L190.2,2031.7L192.7,2033.7L195.1,2036.6L196.8,2039.1L197.2,2036.6L195.6,2032.1L199.3,2032.5L201.8,2035L203.4,2033.3L205.5,2030.8L207.6,2032.1L211.3,2031.2L210.9,2026.7L213.4,2025L215.9,2025.8L217.5,2028.7L218.4,2030.4L221.7,2030.4L224.2,2028.7L226.7,2027.9L224.6,2030.4L222.9,2033.3L225.8,2034.2L226.3,2038.3L228.7,2038.7L230,2041.6L233.3,2042L235.8,2043.7L234.6,2045.8L235.8,2048.3L236.6,2050.8L234.1,2052.4L233.7,2056.2L230.8,2057.4L229.2,2057.8L228.3,2061.6L226.7,2063.2L223.4,2064.5L219.2,2065.7L215.9,2067.8L212.6,2069.9L209.3,2073.2L205.9,2073.6L201,2074.9L198.9,2076.5L198.9,2078.6L195.1,2080.3L191.8,2080.5L186.8,2080L182.7,2078.2L178.6,2077L176.5,2075.7L177.7,2074L174.4,2073.6L171.9,2072.8L171.1,2071.6L168.6,2072.4L166.9,2073.2L162.8,2072.8L158.6,2073.2L157.4,2069.1L159.5,2070.3L162,2069.9L164,2068.2L165.7,2065.7L166.9,2063.7L164,2064.9L164.4,2062L166.9,2059.1L164,2060.8L161.5,2059.9L162,2057.8L160.3,2056.6L156.1,2056.6L152,2056.2L148.7,2057.3L146.6,2055.3L148.7,2054.1L152.8,2052.8L156.1,2052.4L158.6,2051.6L162.8,2051.4L166.1,2050.8L166.1,2049.5L162.8,2049.5L159.5,2049.1L162,2047.4L164.4,2045.8L165.3,2044.5L162.8,2043.7L159.5,2042.9L155.3,2042.9L151.2,2044.1L147.4,2045.4L145.4,2044.1ZM496.5,1990.5L494.4,1990.5L491.5,1991.7L487.4,1994.6L484,1996.7L484.9,1999.2L480.7,1999.2L478.2,2000.9L479.1,2004.2L481.5,2004.2L480.7,2005.8L478.2,2007.1L477.4,2009.2L474.9,2011.3L474.9,2013.3L471.6,2015.8L468.3,2016.7L467.9,2019.2L464.9,2021.6L464.1,2025.8L464.9,2028.3L462.5,2031.6L460,2034.9L458.3,2038.3L456.6,2042.4L455,2046.6L452.5,2051.6L449.2,2053.3L449.2,2056.6L445.9,2059.5L441.7,2062L440.1,2065.8L438.4,2068.3L436.7,2071.6L434.3,2074.1L433.4,2076.6L430.1,2078.2L427.6,2077L425.1,2078.2L426,2080.7L422.6,2083.2L421,2085.7L416,2086.1L411.8,2087.8L410.2,2090.7L409.4,2093.2L406,2094.4L404.4,2097.3L402.7,2101.5L401.1,2104.4L395.3,2104.8L394.4,2109L395.3,2113.1L395.7,2116.5L394.8,2120.6L395.3,2124.8L394,2128.1L396.1,2131.4L396.9,2135.6L396.1,2136.5L396.1,2139L396.9,2142.3L395.7,2146.4L398.6,2143.9L400.6,2142.3L401.1,2146.4L397.7,2148.9L396.5,2152.3L396.5,2156L400.2,2154.8L402.7,2153.1L402.7,2157.3L403.5,2159.7L400.2,2158.9L399,2163.1L400.2,2166.4L402.7,2169.3L406,2171.4L408.5,2172.6L408.5,2175.9L412.7,2177.2L416.8,2177.2L421,2175.1L424.3,2173.5L427.6,2169.7L430.9,2165.6L433.4,2162.7L435.9,2159.7L438.4,2159.3L440.9,2158.5L441.7,2155.6L442.6,2153.9L441.7,2150.6L442.1,2147.7L443.4,2147.7L443.8,2150.6L443.4,2153.5L445,2156L447.1,2157.3L449.6,2157.7L447.5,2158.9L447.9,2163.1L448.4,2167.2L449.2,2171.4L451.3,2175.5L452.5,2180.5L454.2,2184.7L454.6,2188L456.6,2192.2L458.3,2195.5L460.8,2198.8L462.9,2202.1L462.5,2203.8L460.8,2204.6L460.8,2207.1L459.6,2208.8L460.4,2211.3L461.6,2213.8L462.9,2217.1L463.3,2219.6L462.9,2222.9L465.8,2223.7L469.1,2223.3L473.2,2222.5L474.9,2220.8L474.1,2217.9L474.5,2214.6L476.6,2212.1L479.1,2209.6L482.4,2209.2L485.7,2208.8L487.4,2210L489.8,2207.5L491.1,2203.8L492.3,2200.5L493.6,2196.3L494,2189.7L496.5,2189.7ZM489.8,1975.1L489,1976.8L485.7,1979.2L484.4,1980.9L485.7,1983.4L484,1986.7L481.5,1989.6L477.4,1990.9L474.9,1992.6L473.2,1993.4L469.1,1993L465.8,1995L463.7,1997.5L464.9,1998.4L469.1,1997.1L474.1,1995.5L478.2,1993.4L483.2,1992.6L487.4,1991.7L490.7,1990.9L496.5,1988.4L496.5,1984.2L494,1984.2L491.5,1982.6L489,1983.4L488.2,1980.1L490.3,1976.8ZM475.3,1985.5L478.2,1983.8L481.1,1980.1L482.8,1982.6L484,1985.1L481.5,1986.7L477.4,1986.3ZM442.6,2181.8L440.9,2183.9L437.6,2184.7L435.9,2187.2L434.3,2190.5L430.9,2191.7L426.8,2192.6L424.3,2194.6L422.6,2198.8L423.5,2200.5L421.4,2201.7L421.6,2206.3L421.8,2211.3L421.4,2215.5L421.4,2220.5L426,2223.8L425.1,2227.1L423.5,2230.4L422.6,2233.8L424.3,2235.4L426.8,2236.3L427.6,2238.8L426,2242.1L427.6,2244.6L427.6,2247.9L429.3,2250.4L426.8,2250.4L425.1,2252.9L423.5,2255.4L421.4,2253.7L419.3,2252.9L415.2,2253.3L412.7,2255.4L412.3,2257.9L409.4,2257.5L406,2258.3L402.7,2258.3L399.4,2260.4L397.7,2264.5L393.6,2267.9L391.9,2271.2L391.5,2276.2L389.4,2281.2L387,2284.5L385.7,2287.8L387.4,2290.3L388.2,2292.8L391.1,2293.6L394.4,2293.2L396.1,2296.1L398.6,2296.9L401.5,2299L401.5,2305.3L496.5,2305.3L496.5,2239.6L494.4,2239.6L491.5,2242.1L485.7,2244.6L479.9,2247.1L475.7,2249.6L473.2,2248.3L469.9,2246.2L466.6,2244.2L469.1,2241.3L469.1,2237.9L466.6,2236.3L464.9,2237.9L464.1,2240.4L459.1,2240.4L457.5,2242.9L455.8,2245L453.3,2245.8L451.3,2248.3L449.2,2249.1L444.6,2247.5L446.3,2245.4L447.1,2242.5L445.9,2241.7L442.6,2242.1L439.2,2240.8L437.6,2238.8L438,2236.3L436.7,2233.8L435.1,2232.1L435.5,2229.6L433.4,2228.8L435.1,2225.5L435.1,2222.1L436.7,2218.8L438.4,2216.3L440.1,2213L440.1,2209.6L441.7,2208L443.4,2208.4L445.9,2207.1L446.3,2204.6L444.6,2202.5L442.6,2203L440.9,2202.1L440.5,2198L440.9,2194.6L441.7,2191.3L442.6,2188L442.1,2184.7ZM436.7,2221.3L440.1,2219.6L443.4,2220.5L444.2,2223.8L443.8,2227.5L441.7,2229.2L438.4,2228L437.2,2224.6ZM447.1,2217.1L449.2,2214.6L451.3,2212.9L454.2,2212.5L457.5,2210.4L459.6,2211.3L460,2214.6L458.7,2218.8L456.6,2220.8L457.5,2223.7L455.8,2226.2L454.6,2227.9L454.6,2233.8L453.3,2232.1L452.5,2228L450.8,2226.3L448.4,2224.6L447.5,2220.5L446.7,2216.3ZM446.7,2231.3L449.2,2232.1L452.5,2234.2L452.9,2235.9L450.4,2236.7L447.5,2235L446.3,2232.9ZM443.8,2230L445.5,2230L444.2,2233.8L443.4,2233.4ZM478.2,2225.5L479.9,2225.5L481.5,2227.5L481.5,2229.2L479.1,2228.8L478.2,2227.1ZM308.9,2165.6L312.2,2166.4L317.2,2166L321.3,2165.1L323.8,2164.7L325.9,2166L326.3,2168.1L325.5,2170.6L323,2173.1L320.9,2175.5L318.9,2178L318,2180.5L318,2183L321.8,2182.2L326.3,2182L331.3,2182.2L336.3,2182.6L337.1,2185.5L335.9,2188.8L334.6,2192.2L333.4,2196.3L332.1,2199.7L330.5,2203L328,2205.5L330.1,2208L327.2,2209.6L325.5,2212.1L328,2211.3L330.5,2212.1L333.8,2213.8L335.4,2216.3L337.9,2219.6L338.8,2223.8L339.6,2227.9L340.8,2232.1L342.9,2236.2L343.7,2237.1L347.1,2238.8L348.7,2242.1L351.2,2245.4L350.8,2248.7L352.9,2252.9L353.3,2256.2L354.9,2260.4L355.4,2263.7L353.3,2267L354.5,2268.7L357,2266.2L360.3,2266.2L363.6,2267.4L366.1,2269.5L367.4,2272.8L367,2277L366.1,2281.2L364.5,2284.5L362,2287.8L360.3,2290.3L357.8,2292.8L359.5,2294.9L364.5,2294.5L364.9,2297.8L362.8,2300.3L360.3,2302.8L360.3,2305.7L312.6,2305.7L313,2301.9L315.5,2301.1L316.4,2298.2L320.5,2297.8L325.5,2297.8L326.3,2295.3L328,2292L324.7,2294.5L321.3,2294.9L318.8,2292.4L315.5,2292L314.7,2289.9L312.2,2289.5L308.9,2291.5L307.2,2288.6L306.4,2284.9L309.7,2282.8L313.9,2280.3L316.4,2277.8L316.4,2271.2L315.5,2268.3L311,2269.9L311.4,2268.7L313.9,2266.2L314.7,2263.7L312.6,2260.4L313.9,2258.7L316.4,2261.2L318.8,2261.2L322.2,2260L325.5,2257.9L325.9,2254.6L325.9,2250.4L327.1,2246.7L325.5,2247.1L323.8,2245.4L322.2,2242.1L320.9,2238.8L322.2,2234.6L323,2231.3L321.3,2232.1L318,2234.6L314.7,2235.4L311.4,2234.6L309.3,2236.3L307.2,2232.1L308.1,2229.6L309.7,2225.5L311.4,2221.3L309.7,2218L308.1,2216.3L309.7,2215.4L308.9,2213.8L307.7,2216.3L305.6,2217.9L305.2,2221.3L304.7,2224.6L301.8,2224.6L302.7,2220.4L303.1,2216.3L303.5,2212.1L303.9,2208.8L304.7,2205.5L302.3,2204.6L301.4,2206.7L298.5,2206.3L298.9,2203.4L297.7,2201.3L298.5,2198.8L301.4,2198L302.7,2194.7L303.9,2193L303.1,2190.5L300.6,2189.7L298.5,2188L296.4,2188L294,2186.8L296.4,2183.9L298.1,2183L299.8,2186.3L301.8,2187.2L301.8,2183L302.7,2178.9L304.7,2178L305.2,2175.5L306.4,2173.1L307.7,2169.7ZM296.4,2216.3L298.9,2214.6L301.4,2212.1L303.1,2210.4L303.5,2212.9L301.4,2214.6L299.4,2216.3L298.9,2218.8L297.7,2218.8ZM291.5,2174.7L293.1,2173.1L296.4,2169.7L298.5,2168.5L298.8,2170.6L297.3,2174.7L296.4,2177.2L294,2178.9L291.9,2180.5L291.5,2178ZM287.2,2183L289,2182.9L291.1,2183.9L290.8,2184.8L288.6,2184.7ZM288.2,2188L289.4,2188L289.6,2192.2L288.3,2192.3ZM286.9,2193.8L288.2,2193.8L288.2,2195.1L286.9,2195.1ZM311.4,2246.2L312.6,2242.9L314.3,2241.3L314.7,2243.3L313.5,2245.8L311.8,2246.7ZM289,2224.6L291.5,2226.7L294.8,2226.3L298.1,2225.9L299.8,2228L300.2,2230.4L302.3,2233.4L301.8,2236.3L303.9,2237.1L304.7,2239.6L303.5,2242.5L301.4,2244.6L300.6,2247.1L297.7,2248.7L298.1,2252.9L298.9,2257L298.9,2261.2L299.8,2265.4L299.3,2269.5L298.5,2273.7L297.3,2277L296.4,2277.8L297.7,2279.9L294,2280.7L289.8,2281.2L287.3,2282.8L284.8,2285.3L282.3,2287L279.8,2285.3L279.4,2288.6L276.5,2291.1L274,2292.4L270.7,2292.4L268.2,2293.2L267.8,2291.1L269.9,2289.5L265.7,2289.9L266.6,2287.8L262.8,2287L264.1,2284.5L267,2282L263.2,2280.7L264.5,2278.7L267.4,2277.8L267.8,2275.3L269.1,2272.8L274,2271.2L276.5,2271.6L273.2,2273.3L269.1,2273.7L268.2,2272.4L270.7,2269.5L271.5,2266.2L273.2,2263.7L275.7,2262.9L274.9,2261.6L270.7,2261.6L267.4,2259.5L264.9,2257L267,2256.2L267,2253.7L269.5,2251.2L266.6,2250.4L265.7,2248.7L263.2,2248.3L265.7,2247.9L266.6,2245.4L265.3,2243.7L267.4,2242.5L271.5,2242.5L273.6,2243.7L277.4,2243.3L278.6,2240.4L280.7,2237.9L279,2236.3L276.5,2235.9L278.2,2233.8L280.3,2232.1L279.8,2230.4L281.1,2227.1L284.8,2226.3L286.5,2225.5L286.1,2229.6L287.7,2229.6Z"/>
<path fill="#C6C8C8" d="M338.5,2132.5L340,2130.9L341.9,2129.4L344.2,2126.9L345.4,2127.1L345.4,2128.6L344.2,2130.9L343.3,2132.8L343.1,2135.1L342.5,2137.4L341.5,2140.1L340.4,2139.8L338.9,2137.8L338.7,2135.9L339.2,2134.4Z"/>
<path class="ez" d="M242.4,1931.9L239.9,1948.5L236.6,1965.1L239.1,1970.1M239.1,1970.1L237.4,1975.1L215,1981.7L191.8,1989.2L168.6,1995.9L152,2001.7L137,2008.3L120.4,2018.3L104.7,2030.8L98,2043.2L93,2059.9L88.1,2082.3L92.2,2091.4L98.9,2104.8L108.8,2116.4L120.4,2126.4L128.7,2130.6L145.3,2135.6L165.2,2141.4L175.2,2142.8L198.4,2140.6L215,2133.1L233.3,2127.3M239.1,1970.1L248.2,1971.8L261.5,1975.9L273.1,1981.7L283,1990L291.3,2000L296.3,2010L299.6,2018.3L303,2026.6L304.6,2039.1M304.6,2039.1L298,2043.2L281.4,2058.2L261.5,2078.2L248.2,2094.8L239.9,2108.1L233.3,2126.4L233.3,2127.3M233.3,2127.3L239.1,2138.9L239.6,2144.8L234.9,2145.6L229.1,2156.4L225.8,2168L225,2181.3L227.5,2194.6L232.4,2198.8L225,2211.3L218.3,2224.6L215.8,2237.9L215.8,2254.5L215,2269.4L215,2286.1L217.5,2305.2M239.1,2138.9L253.2,2141.4L274.8,2141.8L289.7,2138.1L311.3,2134.8L311.4,2134.8L323,2111.5L328,2103.1L337.9,2086.5L347.9,2071.5M304.7,2039.1L319.7,2043.2L331.3,2049.9L341.2,2056.5L347.9,2062.4L347.9,2071.5M347.9,2071.5L352.9,2081.5L359.5,2093.1L363.6,2104.8L367.8,2118M363.6,2104.8L395.2,2104.8M464.9,1931.9L474,1941.8L489.8,1948.5L489.8,1962.6L420.9,1997.5L420.9,2016.1L446.6,2016.1L455.7,2007.5L460.7,2004.2M364.5,2304.8L366.1,2303.2L372.8,2299.4L379.5,2295.3L382,2294.5L386.1,2294.5L389.4,2297.8L388.6,2301.1M368,2118.7L366.8,2119L356.1,2119.8L351.1,2121.1L344.6,2125.2L343.1,2127.5L342.3,2130.5L343.1,2134.4L341.5,2141.3L340,2145.9L342.3,2148.2L342.3,2151.6L339.6,2153.9L336.2,2153.6L335,2152.8L334.7,2155.9L333.5,2158.9L332.7,2162.8L330.1,2164.3L327.4,2165.1L324.3,2162.8L322.8,2161.2L327.4,2160.5L333.1,2159.3"/>
</g>
<rect class="bd" x="70.9" y="1933.5" width="424" height="372.5"/>
<path class="tk" d="M94.1,2306.4v7.4M179.9,2306.4v7.4M265.8,2306.4v7.4M351.6,2306.4v7.4M437.4,2306.4v7.4M70.5,1963h-7.4M70.5,2052.5h-7.4M70.5,2141.9h-7.4M70.5,2231.4h-7.4"/>
<text class="ax" x="56.5" y="1970.5" text-anchor="end">70°</text>
<text class="ax" x="56.5" y="2060" text-anchor="end">65°</text>
<text class="ax" x="56.5" y="2149.4" text-anchor="end">60°</text>
<text class="ax" x="56.5" y="2238.9" text-anchor="end">55°</text>
<text class="ax" x="94.1" y="2337" text-anchor="middle">30°W</text>
<text class="ax" x="179.9" y="2337" text-anchor="middle">20°W</text>
<text class="ax" x="265.8" y="2337" text-anchor="middle">10°W</text>
<text class="ax" x="351.6" y="2337" text-anchor="middle">0°</text>
<text class="ax" x="437.4" y="2337" text-anchor="middle">10°E</text>
<clipPath id="cB22"><rect x="510.2" y="1933.5" width="424" height="372.5"/></clipPath>
<g clip-path="url(#cB22)">
<path fill="#FFE529" stroke="#FFE529" stroke-width="0.25" d="M679.21,2060.61h8.58v8.95h-8.58z"/><path fill="#FFA500" stroke="#FFA500" stroke-width="0.25" d="M816.55,2015.88h8.58v8.95h-8.58zM773.63,2024.83h8.58v8.95h-8.58zM687.79,2051.66h8.58v8.95h-8.58zM610.54,2087.45h8.58v8.95h-8.58zM747.88,2150.08h8.58v8.95h-8.58zM704.96,2185.86h8.58v8.95h-8.58z"/><path fill="#FF0000" stroke="#FF0000" stroke-width="0.25" d="M765.05,2024.83h8.58v8.95h-8.58zM644.87,2078.50h8.58v8.95h-8.58zM782.22,2123.24h8.58v8.95h-8.58zM765.05,2132.18h8.58v8.95h-8.58zM790.80,2132.18h8.58v8.95h-8.58zM739.30,2141.13h17.17v8.95h-17.17zM782.22,2141.13h8.58v8.95h-8.58zM739.30,2150.08h8.58v8.95h-8.58zM722.13,2159.02h8.58v8.95h-8.58zM739.30,2159.02h8.58v8.95h-8.58zM790.80,2167.97h8.58v8.95h-8.58z"/><path fill="#6B181C" stroke="#6B181C" stroke-width="0.25" d="M747.88,2006.93h8.58v8.95h-8.58zM756.46,2024.83h8.58v8.95h-8.58zM790.80,2024.83h8.58v8.95h-8.58zM696.38,2033.77h8.58v8.95h-8.58zM765.05,2033.77h8.58v8.95h-8.58zM687.79,2042.72h8.58v8.95h-8.58zM773.63,2042.72h17.17v8.95h-17.17zM782.22,2051.66h17.17v8.95h-17.17zM816.55,2051.66h8.58v8.95h-8.58zM670.62,2060.61h8.58v8.95h-8.58zM713.54,2060.61h8.58v8.95h-8.58zM816.55,2060.61h8.58v8.95h-8.58zM653.46,2069.56h8.58v8.95h-8.58zM790.80,2069.56h8.58v8.95h-8.58zM627.70,2078.50h17.17v8.95h-17.17zM782.22,2078.50h8.58v8.95h-8.58zM807.97,2087.45h17.17v8.95h-17.17zM782.22,2096.40h8.58v8.95h-8.58zM799.38,2096.40h17.17v8.95h-17.17zM773.63,2123.24h8.58v8.95h-8.58zM790.80,2123.24h8.58v8.95h-8.58zM773.63,2132.18h17.17v8.95h-17.17zM730.71,2141.13h8.58v8.95h-8.58zM756.46,2141.13h8.58v8.95h-8.58zM773.63,2141.13h8.58v8.95h-8.58zM773.63,2150.08h25.75v8.95h-25.75zM730.71,2159.02h8.58v8.95h-8.58zM773.63,2159.02h25.75v8.95h-25.75zM713.54,2167.97h17.17v8.95h-17.17zM782.22,2167.97h8.58v8.95h-8.58z"/><path class="ld" d="M509.6,1931.9L557.9,1931.9L557.9,1934.9L562.9,1936L567.9,1936.3L570.4,1938.2L570.8,1941.2L568.7,1943.3L564.6,1945.4L558.7,1945.5L552.9,1945.4L547.5,1945L550.8,1947.9L550.4,1950.8L547.9,1952.5L542.1,1954.6L547.9,1955.9L554.6,1955.9L559.6,1955.5L562.1,1954.6L563.3,1956.3L558.7,1958.4L555.4,1960.9L553.7,1963L557.1,1963L558.7,1960.5L562.9,1959.2L567.9,1958.4L572.1,1957.3L575.4,1957.6L579.5,1958.8L584.5,1960.5L589.5,1961.3L596.2,1961.3L600.4,1961.3L597.9,1963.8L592.9,1966L587,1968.1L587.5,1970.6L582.9,1971L582,1973.5L578.7,1975.6L574.6,1976.9L576.2,1978.6L571.2,1981.5L566.2,1984.4L561.2,1986.5L554.6,1988.6L547.9,1990.3L541.2,1992.8L535.4,1992.8L532.1,1994.1L527.1,1994.9L527.9,1996.6L523.8,1997.3L520.4,1995.8L517.1,1993.2L513.8,1991.2L514.6,1994.1L512.9,1994.9L515,1997L514.6,1999.1L512.1,2001.2L509.6,2001.7ZM571.2,1931.9L600.4,1931.9L600.4,1934.5L598.7,1936.1L598.7,1941.2L597.5,1948.7L597.5,1954.6L592.9,1955.3L589.5,1955L586.6,1953.3L584.5,1950.4L583.3,1947.1L582.5,1943.3L579.5,1940.7L576.2,1939.5L572.9,1937.4L571.2,1935.3ZM599.5,1937.4L604.5,1937L605.4,1943.7L605.8,1949.6L605.8,1954.6L602.9,1955.3L599.1,1954.2L599.1,1948.7L599.1,1941.2ZM581.7,2043.3L585.4,2039.1L587.9,2038.3L587.9,2034.2L591.2,2031.7L594.1,2032.9L593.7,2028.3L597,2027.1L599.5,2027.5L602,2029.6L605.3,2032.1L607.8,2034.2L609,2036.6L608.6,2039.6L606.5,2040.4L607.8,2042.9L610.3,2045.8L610.7,2047.4L611.9,2043.3L613.6,2040.8L616.1,2041.6L616.9,2036.6L617.8,2032.9L619.8,2033.3L621.9,2036.2L624,2038.7L624.8,2035.8L625.6,2032.9L629.4,2031.7L631.9,2033.7L634.3,2036.6L636,2039.1L636.4,2036.6L634.8,2032.1L638.5,2032.5L641,2035L642.6,2033.3L644.7,2030.8L646.8,2032.1L650.5,2031.2L650.1,2026.7L652.6,2025L655.1,2025.8L656.7,2028.7L657.6,2030.4L660.9,2030.4L663.4,2028.7L665.9,2027.9L663.8,2030.4L662.1,2033.3L665,2034.2L665.5,2038.3L667.9,2038.7L669.2,2041.6L672.5,2042L675,2043.7L673.8,2045.8L675,2048.3L675.8,2050.8L673.3,2052.4L672.9,2056.2L670,2057.4L668.4,2057.8L667.5,2061.6L665.9,2063.2L662.6,2064.5L658.4,2065.7L655.1,2067.8L651.8,2069.9L648.5,2073.2L645.1,2073.6L640.2,2074.9L638.1,2076.5L638.1,2078.6L634.3,2080.3L631,2080.5L626,2080L621.9,2078.2L617.8,2077L615.7,2075.7L616.9,2074L613.6,2073.6L611.1,2072.8L610.3,2071.6L607.8,2072.4L606.1,2073.2L602,2072.8L597.8,2073.2L596.6,2069.1L598.7,2070.3L601.2,2069.9L603.2,2068.2L604.9,2065.7L606.1,2063.7L603.2,2064.9L603.6,2062L606.1,2059.1L603.2,2060.8L600.7,2059.9L601.2,2057.8L599.5,2056.6L595.3,2056.6L591.2,2056.2L587.9,2057.3L585.8,2055.3L587.9,2054.1L592,2052.8L595.3,2052.4L597.8,2051.6L602,2051.4L605.3,2050.8L605.3,2049.5L602,2049.5L598.7,2049.1L601.2,2047.4L603.6,2045.8L604.5,2044.5L602,2043.7L598.7,2042.9L594.5,2042.9L590.4,2044.1L586.6,2045.4L584.6,2044.1ZM935.7,1990.5L933.6,1990.5L930.7,1991.7L926.6,1994.6L923.2,1996.7L924.1,1999.2L919.9,1999.2L917.4,2000.9L918.3,2004.2L920.7,2004.2L919.9,2005.8L917.4,2007.1L916.6,2009.2L914.1,2011.3L914.1,2013.3L910.8,2015.8L907.5,2016.7L907.1,2019.2L904.1,2021.6L903.3,2025.8L904.1,2028.3L901.7,2031.6L899.2,2034.9L897.5,2038.3L895.8,2042.4L894.2,2046.6L891.7,2051.6L888.4,2053.3L888.4,2056.6L885.1,2059.5L880.9,2062L879.3,2065.8L877.6,2068.3L875.9,2071.6L873.5,2074.1L872.6,2076.6L869.3,2078.2L866.8,2077L864.3,2078.2L865.2,2080.7L861.8,2083.2L860.2,2085.7L855.2,2086.1L851,2087.8L849.4,2090.7L848.6,2093.2L845.2,2094.4L843.6,2097.3L841.9,2101.5L840.3,2104.4L834.5,2104.8L833.6,2109L834.5,2113.1L834.9,2116.5L834,2120.6L834.5,2124.8L833.2,2128.1L835.3,2131.4L836.1,2135.6L835.3,2136.5L835.3,2139L836.1,2142.3L834.9,2146.4L837.8,2143.9L839.8,2142.3L840.3,2146.4L836.9,2148.9L835.7,2152.3L835.7,2156L839.4,2154.8L841.9,2153.1L841.9,2157.3L842.7,2159.7L839.4,2158.9L838.2,2163.1L839.4,2166.4L841.9,2169.3L845.2,2171.4L847.7,2172.6L847.7,2175.9L851.9,2177.2L856,2177.2L860.2,2175.1L863.5,2173.5L866.8,2169.7L870.1,2165.6L872.6,2162.7L875.1,2159.7L877.6,2159.3L880.1,2158.5L880.9,2155.6L881.8,2153.9L880.9,2150.6L881.3,2147.7L882.6,2147.7L883,2150.6L882.6,2153.5L884.2,2156L886.3,2157.3L888.8,2157.7L886.7,2158.9L887.1,2163.1L887.6,2167.2L888.4,2171.4L890.5,2175.5L891.7,2180.5L893.4,2184.7L893.8,2188L895.8,2192.2L897.5,2195.5L900,2198.8L902.1,2202.1L901.7,2203.8L900,2204.6L900,2207.1L898.8,2208.8L899.6,2211.3L900.8,2213.8L902.1,2217.1L902.5,2219.6L902.1,2222.9L905,2223.7L908.3,2223.3L912.4,2222.5L914.1,2220.8L913.3,2217.9L913.7,2214.6L915.8,2212.1L918.3,2209.6L921.6,2209.2L924.9,2208.8L926.6,2210L929,2207.5L930.3,2203.8L931.5,2200.5L932.8,2196.3L933.2,2189.7L935.7,2189.7ZM929,1975.1L928.2,1976.8L924.9,1979.2L923.6,1980.9L924.9,1983.4L923.2,1986.7L920.7,1989.6L916.6,1990.9L914.1,1992.6L912.4,1993.4L908.3,1993L905,1995L902.9,1997.5L904.1,1998.4L908.3,1997.1L913.3,1995.5L917.4,1993.4L922.4,1992.6L926.6,1991.7L929.9,1990.9L935.7,1988.4L935.7,1984.2L933.2,1984.2L930.7,1982.6L928.2,1983.4L927.4,1980.1L929.5,1976.8ZM914.5,1985.5L917.4,1983.8L920.3,1980.1L922,1982.6L923.2,1985.1L920.7,1986.7L916.6,1986.3ZM881.8,2181.8L880.1,2183.9L876.8,2184.7L875.1,2187.2L873.5,2190.5L870.1,2191.7L866,2192.6L863.5,2194.6L861.8,2198.8L862.7,2200.5L860.6,2201.7L860.8,2206.3L861,2211.3L860.6,2215.5L860.6,2220.5L865.2,2223.8L864.3,2227.1L862.7,2230.4L861.8,2233.8L863.5,2235.4L866,2236.3L866.8,2238.8L865.2,2242.1L866.8,2244.6L866.8,2247.9L868.5,2250.4L866,2250.4L864.3,2252.9L862.7,2255.4L860.6,2253.7L858.5,2252.9L854.4,2253.3L851.9,2255.4L851.5,2257.9L848.6,2257.5L845.2,2258.3L841.9,2258.3L838.6,2260.4L836.9,2264.5L832.8,2267.9L831.1,2271.2L830.7,2276.2L828.6,2281.2L826.2,2284.5L824.9,2287.8L826.6,2290.3L827.4,2292.8L830.3,2293.6L833.6,2293.2L835.3,2296.1L837.8,2296.9L840.7,2299L840.7,2305.3L935.7,2305.3L935.7,2239.6L933.6,2239.6L930.7,2242.1L924.9,2244.6L919.1,2247.1L914.9,2249.6L912.4,2248.3L909.1,2246.2L905.8,2244.2L908.3,2241.3L908.3,2237.9L905.8,2236.3L904.1,2237.9L903.3,2240.4L898.3,2240.4L896.7,2242.9L895,2245L892.5,2245.8L890.5,2248.3L888.4,2249.1L883.8,2247.5L885.5,2245.4L886.3,2242.5L885.1,2241.7L881.8,2242.1L878.4,2240.8L876.8,2238.8L877.2,2236.3L875.9,2233.8L874.3,2232.1L874.7,2229.6L872.6,2228.8L874.3,2225.5L874.3,2222.1L875.9,2218.8L877.6,2216.3L879.3,2213L879.3,2209.6L880.9,2208L882.6,2208.4L885.1,2207.1L885.5,2204.6L883.8,2202.5L881.8,2203L880.1,2202.1L879.7,2198L880.1,2194.6L880.9,2191.3L881.8,2188L881.3,2184.7ZM875.9,2221.3L879.3,2219.6L882.6,2220.5L883.4,2223.8L883,2227.5L880.9,2229.2L877.6,2228L876.4,2224.6ZM886.3,2217.1L888.4,2214.6L890.5,2212.9L893.4,2212.5L896.7,2210.4L898.8,2211.3L899.2,2214.6L897.9,2218.8L895.8,2220.8L896.7,2223.7L895,2226.2L893.8,2227.9L893.8,2233.8L892.5,2232.1L891.7,2228L890,2226.3L887.6,2224.6L886.7,2220.5L885.9,2216.3ZM885.9,2231.3L888.4,2232.1L891.7,2234.2L892.1,2235.9L889.6,2236.7L886.7,2235L885.5,2232.9ZM883,2230L884.7,2230L883.4,2233.8L882.6,2233.4ZM917.4,2225.5L919.1,2225.5L920.7,2227.5L920.7,2229.2L918.3,2228.8L917.4,2227.1ZM748.1,2165.6L751.4,2166.4L756.4,2166L760.5,2165.1L763,2164.7L765.1,2166L765.5,2168.1L764.7,2170.6L762.2,2173.1L760.1,2175.5L758.1,2178L757.2,2180.5L757.2,2183L761,2182.2L765.5,2182L770.5,2182.2L775.5,2182.6L776.3,2185.5L775.1,2188.8L773.8,2192.2L772.6,2196.3L771.3,2199.7L769.7,2203L767.2,2205.5L769.3,2208L766.4,2209.6L764.7,2212.1L767.2,2211.3L769.7,2212.1L773,2213.8L774.6,2216.3L777.1,2219.6L778,2223.8L778.8,2227.9L780,2232.1L782.1,2236.2L782.9,2237.1L786.3,2238.8L787.9,2242.1L790.4,2245.4L790,2248.7L792.1,2252.9L792.5,2256.2L794.1,2260.4L794.6,2263.7L792.5,2267L793.7,2268.7L796.2,2266.2L799.5,2266.2L802.8,2267.4L805.3,2269.5L806.6,2272.8L806.2,2277L805.3,2281.2L803.7,2284.5L801.2,2287.8L799.5,2290.3L797,2292.8L798.7,2294.9L803.7,2294.5L804.1,2297.8L802,2300.3L799.5,2302.8L799.5,2305.7L751.8,2305.7L752.2,2301.9L754.7,2301.1L755.6,2298.2L759.7,2297.8L764.7,2297.8L765.5,2295.3L767.2,2292L763.9,2294.5L760.5,2294.9L758,2292.4L754.7,2292L753.9,2289.9L751.4,2289.5L748.1,2291.5L746.4,2288.6L745.6,2284.9L748.9,2282.8L753.1,2280.3L755.6,2277.8L755.6,2271.2L754.7,2268.3L750.2,2269.9L750.6,2268.7L753.1,2266.2L753.9,2263.7L751.8,2260.4L753.1,2258.7L755.6,2261.2L758,2261.2L761.4,2260L764.7,2257.9L765.1,2254.6L765.1,2250.4L766.3,2246.7L764.7,2247.1L763,2245.4L761.4,2242.1L760.1,2238.8L761.4,2234.6L762.2,2231.3L760.5,2232.1L757.2,2234.6L753.9,2235.4L750.6,2234.6L748.5,2236.3L746.4,2232.1L747.3,2229.6L748.9,2225.5L750.6,2221.3L748.9,2218L747.3,2216.3L748.9,2215.4L748.1,2213.8L746.9,2216.3L744.8,2217.9L744.4,2221.3L743.9,2224.6L741,2224.6L741.9,2220.4L742.3,2216.3L742.7,2212.1L743.1,2208.8L743.9,2205.5L741.5,2204.6L740.6,2206.7L737.7,2206.3L738.1,2203.4L736.9,2201.3L737.7,2198.8L740.6,2198L741.9,2194.7L743.1,2193L742.3,2190.5L739.8,2189.7L737.7,2188L735.6,2188L733.2,2186.8L735.6,2183.9L737.3,2183L739,2186.3L741,2187.2L741,2183L741.9,2178.9L743.9,2178L744.4,2175.5L745.6,2173.1L746.9,2169.7ZM735.6,2216.3L738.1,2214.6L740.6,2212.1L742.3,2210.4L742.7,2212.9L740.6,2214.6L738.6,2216.3L738.1,2218.8L736.9,2218.8ZM730.7,2174.7L732.3,2173.1L735.6,2169.7L737.7,2168.5L738,2170.6L736.5,2174.7L735.6,2177.2L733.2,2178.9L731.1,2180.5L730.7,2178ZM726.4,2183L728.2,2182.9L730.3,2183.9L730,2184.8L727.8,2184.7ZM727.4,2188L728.6,2188L728.8,2192.2L727.5,2192.3ZM726.1,2193.8L727.4,2193.8L727.4,2195.1L726.1,2195.1ZM750.6,2246.2L751.8,2242.9L753.5,2241.3L753.9,2243.3L752.7,2245.8L751,2246.7ZM728.2,2224.6L730.7,2226.7L734,2226.3L737.3,2225.9L739,2228L739.4,2230.4L741.5,2233.4L741,2236.3L743.1,2237.1L743.9,2239.6L742.7,2242.5L740.6,2244.6L739.8,2247.1L736.9,2248.7L737.3,2252.9L738.1,2257L738.1,2261.2L739,2265.4L738.5,2269.5L737.7,2273.7L736.5,2277L735.6,2277.8L736.9,2279.9L733.2,2280.7L729,2281.2L726.5,2282.8L724,2285.3L721.5,2287L719,2285.3L718.6,2288.6L715.7,2291.1L713.2,2292.4L709.9,2292.4L707.4,2293.2L707,2291.1L709.1,2289.5L704.9,2289.9L705.8,2287.8L702,2287L703.3,2284.5L706.2,2282L702.4,2280.7L703.7,2278.7L706.6,2277.8L707,2275.3L708.3,2272.8L713.2,2271.2L715.7,2271.6L712.4,2273.3L708.3,2273.7L707.4,2272.4L709.9,2269.5L710.7,2266.2L712.4,2263.7L714.9,2262.9L714.1,2261.6L709.9,2261.6L706.6,2259.5L704.1,2257L706.2,2256.2L706.2,2253.7L708.7,2251.2L705.8,2250.4L704.9,2248.7L702.4,2248.3L704.9,2247.9L705.8,2245.4L704.5,2243.7L706.6,2242.5L710.7,2242.5L712.8,2243.7L716.6,2243.3L717.8,2240.4L719.9,2237.9L718.2,2236.3L715.7,2235.9L717.4,2233.8L719.5,2232.1L719,2230.4L720.3,2227.1L724,2226.3L725.7,2225.5L725.3,2229.6L726.9,2229.6Z"/>
<path fill="#C6C8C8" d="M777.7,2132.5L779.2,2130.9L781.1,2129.4L783.4,2126.9L784.6,2127.1L784.6,2128.6L783.4,2130.9L782.5,2132.8L782.3,2135.1L781.7,2137.4L780.7,2140.1L779.6,2139.8L778.1,2137.8L777.9,2135.9L778.4,2134.4Z"/>
<path class="ez" d="M681.6,1931.9L679.1,1948.5L675.8,1965.1L678.3,1970.1M678.3,1970.1L676.6,1975.1L654.2,1981.7L631,1989.2L607.8,1995.9L591.2,2001.7L576.2,2008.3L559.6,2018.3L543.9,2030.8L537.2,2043.2L532.2,2059.9L527.3,2082.3L531.4,2091.4L538.1,2104.8L548,2116.4L559.6,2126.4L567.9,2130.6L584.5,2135.6L604.4,2141.4L614.4,2142.8L637.6,2140.6L654.2,2133.1L672.5,2127.3M678.3,1970.1L687.4,1971.8L700.7,1975.9L712.3,1981.7L722.2,1990L730.5,2000L735.5,2010L738.8,2018.3L742.2,2026.6L743.8,2039.1M743.8,2039.1L737.2,2043.2L720.6,2058.2L700.7,2078.2L687.4,2094.8L679.1,2108.1L672.5,2126.4L672.5,2127.3M672.5,2127.3L678.3,2138.9L678.8,2144.8L674.1,2145.6L668.3,2156.4L665,2168L664.2,2181.3L666.7,2194.6L671.6,2198.8L664.2,2211.3L657.5,2224.6L655,2237.9L655,2254.5L654.2,2269.4L654.2,2286.1L656.7,2305.2M678.3,2138.9L692.4,2141.4L714,2141.8L728.9,2138.1L750.5,2134.8L750.6,2134.8L762.2,2111.5L767.2,2103.1L777.1,2086.5L787.1,2071.5M743.9,2039.1L758.9,2043.2L770.5,2049.9L780.4,2056.5L787.1,2062.4L787.1,2071.5M787.1,2071.5L792.1,2081.5L798.7,2093.1L802.8,2104.8L807,2118M802.8,2104.8L834.4,2104.8M904.1,1931.9L913.2,1941.8L929,1948.5L929,1962.6L860.1,1997.5L860.1,2016.1L885.8,2016.1L894.9,2007.5L899.9,2004.2M803.7,2304.8L805.3,2303.2L812,2299.4L818.7,2295.3L821.2,2294.5L825.3,2294.5L828.6,2297.8L827.8,2301.1M807.2,2118.7L806,2119L795.3,2119.8L790.3,2121.1L783.8,2125.2L782.3,2127.5L781.5,2130.5L782.3,2134.4L780.7,2141.3L779.2,2145.9L781.5,2148.2L781.5,2151.6L778.8,2153.9L775.4,2153.6L774.2,2152.8L773.9,2155.9L772.7,2158.9L771.9,2162.8L769.3,2164.3L766.6,2165.1L763.5,2162.8L762,2161.2L766.6,2160.5L772.3,2159.3"/>
</g>
<rect class="bd" x="510.2" y="1933.5" width="424" height="372.5"/>
<path class="tk" d="M533.3,2306.4v7.4M619.1,2306.4v7.4M705,2306.4v7.4M790.8,2306.4v7.4M876.6,2306.4v7.4"/>
<text class="ax" x="533.3" y="2337" text-anchor="middle">30°W</text>
<text class="ax" x="619.1" y="2337" text-anchor="middle">20°W</text>
<text class="ax" x="705" y="2337" text-anchor="middle">10°W</text>
<text class="ax" x="790.8" y="2337" text-anchor="middle">0°</text>
<text class="ax" x="876.6" y="2337" text-anchor="middle">10°E</text>
<clipPath id="cB23"><rect x="949.5" y="1933.5" width="424" height="372.5"/></clipPath>
<g clip-path="url(#cB23)">
<path fill="#FFE529" stroke="#FFE529" stroke-width="0.25" d="M1118.41,2051.66h8.58v8.95h-8.58zM1212.83,2141.13h8.58v8.95h-8.58z"/><path fill="#FFA500" stroke="#FFA500" stroke-width="0.25" d="M1247.17,2096.40h8.58v8.95h-8.58zM1212.83,2159.02h8.58v8.95h-8.58zM1221.42,2167.97h8.58v8.95h-8.58z"/><path fill="#FF0000" stroke="#FF0000" stroke-width="0.25" d="M1264.34,2051.66h8.58v8.95h-8.58zM1204.25,2132.18h25.75v8.95h-25.75zM1221.42,2150.08h8.58v8.95h-8.58z"/><path fill="#6B181C" stroke="#6B181C" stroke-width="0.25" d="M1230.00,2006.93h8.58v8.95h-8.58zM1238.58,2033.77h8.58v8.95h-8.58zM1126.99,2042.72h8.58v8.95h-8.58zM1230.00,2042.72h8.58v8.95h-8.58zM1109.82,2069.56h8.58v8.95h-8.58zM1272.92,2096.40h8.58v8.95h-8.58zM1221.42,2114.29h8.58v8.95h-8.58zM1264.34,2114.29h8.58v8.95h-8.58zM1212.83,2123.24h17.17v8.95h-17.17zM1187.08,2132.18h8.58v8.95h-8.58zM1178.50,2141.13h17.17v8.95h-17.17zM1221.42,2141.13h8.58v8.95h-8.58zM1204.25,2150.08h17.17v8.95h-17.17zM1161.33,2159.02h8.58v8.95h-8.58zM1221.42,2159.02h8.58v8.95h-8.58zM1161.33,2167.97h8.58v8.95h-8.58zM1152.74,2194.81h8.58v8.95h-8.58z"/><path class="ld" d="M948.8,1931.9L997.1,1931.9L997.1,1934.9L1002.1,1936L1007.1,1936.3L1009.6,1938.2L1010,1941.2L1007.9,1943.3L1003.8,1945.4L997.9,1945.5L992.1,1945.4L986.7,1945L990,1947.9L989.6,1950.8L987.1,1952.5L981.3,1954.6L987.1,1955.9L993.8,1955.9L998.8,1955.5L1001.3,1954.6L1002.5,1956.3L997.9,1958.4L994.6,1960.9L992.9,1963L996.3,1963L997.9,1960.5L1002.1,1959.2L1007.1,1958.4L1011.3,1957.3L1014.6,1957.6L1018.8,1958.8L1023.8,1960.5L1028.8,1961.3L1035.4,1961.3L1039.6,1961.3L1037.1,1963.8L1032.1,1966L1026.2,1968.1L1026.7,1970.6L1022.1,1971L1021.2,1973.5L1017.9,1975.6L1013.8,1976.9L1015.4,1978.6L1010.4,1981.5L1005.4,1984.4L1000.4,1986.5L993.8,1988.6L987.1,1990.3L980.4,1992.8L974.6,1992.8L971.3,1994.1L966.3,1994.9L967.1,1996.6L963,1997.3L959.6,1995.8L956.3,1993.2L953,1991.2L953.8,1994.1L952.1,1994.9L954.2,1997L953.8,1999.1L951.3,2001.2L948.8,2001.7ZM1010.4,1931.9L1039.6,1931.9L1039.6,1934.5L1037.9,1936.1L1037.9,1941.2L1036.7,1948.7L1036.7,1954.6L1032.1,1955.3L1028.8,1955L1025.8,1953.3L1023.8,1950.4L1022.5,1947.1L1021.7,1943.3L1018.8,1940.7L1015.4,1939.5L1012.1,1937.4L1010.4,1935.3ZM1038.7,1937.4L1043.7,1937L1044.6,1943.7L1045,1949.6L1045,1954.6L1042.1,1955.3L1038.3,1954.2L1038.3,1948.7L1038.3,1941.2ZM1020.9,2043.3L1024.6,2039.1L1027.1,2038.3L1027.1,2034.2L1030.4,2031.7L1033.3,2032.9L1032.9,2028.3L1036.2,2027.1L1038.7,2027.5L1041.2,2029.6L1044.5,2032.1L1047,2034.2L1048.2,2036.6L1047.8,2039.6L1045.7,2040.4L1047,2042.9L1049.5,2045.8L1049.9,2047.4L1051.1,2043.3L1052.8,2040.8L1055.3,2041.6L1056.1,2036.6L1057,2032.9L1059,2033.3L1061.1,2036.2L1063.2,2038.7L1064,2035.8L1064.8,2032.9L1068.6,2031.7L1071.1,2033.7L1073.5,2036.6L1075.2,2039.1L1075.6,2036.6L1074,2032.1L1077.7,2032.5L1080.2,2035L1081.8,2033.3L1083.9,2030.8L1086,2032.1L1089.7,2031.2L1089.3,2026.7L1091.8,2025L1094.3,2025.8L1095.9,2028.7L1096.8,2030.4L1100.1,2030.4L1102.6,2028.7L1105.1,2027.9L1103,2030.4L1101.3,2033.3L1104.2,2034.2L1104.7,2038.3L1107.1,2038.7L1108.4,2041.6L1111.7,2042L1114.2,2043.7L1113,2045.8L1114.2,2048.3L1115,2050.8L1112.5,2052.4L1112.1,2056.2L1109.2,2057.4L1107.6,2057.8L1106.7,2061.6L1105.1,2063.2L1101.8,2064.5L1097.6,2065.7L1094.3,2067.8L1091,2069.9L1087.7,2073.2L1084.3,2073.6L1079.4,2074.9L1077.3,2076.5L1077.3,2078.6L1073.5,2080.3L1070.2,2080.5L1065.2,2080L1061.1,2078.2L1057,2077L1054.9,2075.7L1056.1,2074L1052.8,2073.6L1050.3,2072.8L1049.5,2071.6L1047,2072.4L1045.3,2073.2L1041.2,2072.8L1037,2073.2L1035.8,2069.1L1037.9,2070.3L1040.4,2069.9L1042.4,2068.2L1044.1,2065.7L1045.3,2063.7L1042.4,2064.9L1042.8,2062L1045.3,2059.1L1042.4,2060.8L1039.9,2059.9L1040.4,2057.8L1038.7,2056.6L1034.5,2056.6L1030.4,2056.2L1027.1,2057.3L1025,2055.3L1027.1,2054.1L1031.2,2052.8L1034.5,2052.4L1037,2051.6L1041.2,2051.4L1044.5,2050.8L1044.5,2049.5L1041.2,2049.5L1037.9,2049.1L1040.4,2047.4L1042.8,2045.8L1043.7,2044.5L1041.2,2043.7L1037.9,2042.9L1033.7,2042.9L1029.6,2044.1L1025.8,2045.4L1023.8,2044.1ZM1374.9,1990.5L1372.8,1990.5L1369.9,1991.7L1365.8,1994.6L1362.4,1996.7L1363.3,1999.2L1359.1,1999.2L1356.6,2000.9L1357.5,2004.2L1359.9,2004.2L1359.1,2005.8L1356.6,2007.1L1355.8,2009.2L1353.3,2011.3L1353.3,2013.3L1350,2015.8L1346.7,2016.7L1346.3,2019.2L1343.3,2021.6L1342.5,2025.8L1343.3,2028.3L1340.9,2031.6L1338.4,2034.9L1336.7,2038.3L1335,2042.4L1333.4,2046.6L1330.9,2051.6L1327.6,2053.3L1327.6,2056.6L1324.3,2059.5L1320.1,2062L1318.5,2065.8L1316.8,2068.3L1315.1,2071.6L1312.7,2074.1L1311.8,2076.6L1308.5,2078.2L1306,2077L1303.5,2078.2L1304.4,2080.7L1301,2083.2L1299.4,2085.7L1294.4,2086.1L1290.2,2087.8L1288.6,2090.7L1287.8,2093.2L1284.4,2094.4L1282.8,2097.3L1281.1,2101.5L1279.5,2104.4L1273.7,2104.8L1272.8,2109L1273.7,2113.1L1274.1,2116.5L1273.2,2120.6L1273.7,2124.8L1272.4,2128.1L1274.5,2131.4L1275.3,2135.6L1274.5,2136.5L1274.5,2139L1275.3,2142.3L1274.1,2146.4L1277,2143.9L1279,2142.3L1279.5,2146.4L1276.1,2148.9L1274.9,2152.3L1274.9,2156L1278.6,2154.8L1281.1,2153.1L1281.1,2157.3L1281.9,2159.7L1278.6,2158.9L1277.4,2163.1L1278.6,2166.4L1281.1,2169.3L1284.4,2171.4L1286.9,2172.6L1286.9,2175.9L1291.1,2177.2L1295.2,2177.2L1299.4,2175.1L1302.7,2173.5L1306,2169.7L1309.3,2165.6L1311.8,2162.7L1314.3,2159.7L1316.8,2159.3L1319.3,2158.5L1320.1,2155.6L1321,2153.9L1320.1,2150.6L1320.5,2147.7L1321.8,2147.7L1322.2,2150.6L1321.8,2153.5L1323.4,2156L1325.5,2157.3L1328,2157.7L1325.9,2158.9L1326.3,2163.1L1326.8,2167.2L1327.6,2171.4L1329.7,2175.5L1330.9,2180.5L1332.6,2184.7L1333,2188L1335,2192.2L1336.7,2195.5L1339.2,2198.8L1341.3,2202.1L1340.9,2203.8L1339.2,2204.6L1339.2,2207.1L1338,2208.8L1338.8,2211.3L1340,2213.8L1341.3,2217.1L1341.7,2219.6L1341.3,2222.9L1344.2,2223.7L1347.5,2223.3L1351.6,2222.5L1353.3,2220.8L1352.5,2217.9L1352.9,2214.6L1355,2212.1L1357.5,2209.6L1360.8,2209.2L1364.1,2208.8L1365.8,2210L1368.2,2207.5L1369.5,2203.8L1370.7,2200.5L1372,2196.3L1372.4,2189.7L1374.9,2189.7ZM1368.2,1975.1L1367.4,1976.8L1364.1,1979.2L1362.8,1980.9L1364.1,1983.4L1362.4,1986.7L1359.9,1989.6L1355.8,1990.9L1353.3,1992.6L1351.6,1993.4L1347.5,1993L1344.2,1995L1342.1,1997.5L1343.3,1998.4L1347.5,1997.1L1352.5,1995.5L1356.6,1993.4L1361.6,1992.6L1365.8,1991.7L1369.1,1990.9L1374.9,1988.4L1374.9,1984.2L1372.4,1984.2L1369.9,1982.6L1367.4,1983.4L1366.6,1980.1L1368.7,1976.8ZM1353.7,1985.5L1356.6,1983.8L1359.5,1980.1L1361.2,1982.6L1362.4,1985.1L1359.9,1986.7L1355.8,1986.3ZM1321,2181.8L1319.3,2183.9L1316,2184.7L1314.3,2187.2L1312.7,2190.5L1309.3,2191.7L1305.2,2192.6L1302.7,2194.6L1301,2198.8L1301.9,2200.5L1299.8,2201.7L1300,2206.3L1300.2,2211.3L1299.8,2215.5L1299.8,2220.5L1304.4,2223.8L1303.5,2227.1L1301.9,2230.4L1301,2233.8L1302.7,2235.4L1305.2,2236.3L1306,2238.8L1304.4,2242.1L1306,2244.6L1306,2247.9L1307.7,2250.4L1305.2,2250.4L1303.5,2252.9L1301.9,2255.4L1299.8,2253.7L1297.7,2252.9L1293.6,2253.3L1291.1,2255.4L1290.7,2257.9L1287.8,2257.5L1284.4,2258.3L1281.1,2258.3L1277.8,2260.4L1276.1,2264.5L1272,2267.9L1270.3,2271.2L1269.9,2276.2L1267.8,2281.2L1265.4,2284.5L1264.1,2287.8L1265.8,2290.3L1266.6,2292.8L1269.5,2293.6L1272.8,2293.2L1274.5,2296.1L1277,2296.9L1279.9,2299L1279.9,2305.3L1374.9,2305.3L1374.9,2239.6L1372.8,2239.6L1369.9,2242.1L1364.1,2244.6L1358.3,2247.1L1354.1,2249.6L1351.6,2248.3L1348.3,2246.2L1345,2244.2L1347.5,2241.3L1347.5,2237.9L1345,2236.3L1343.3,2237.9L1342.5,2240.4L1337.5,2240.4L1335.9,2242.9L1334.2,2245L1331.7,2245.8L1329.7,2248.3L1327.6,2249.1L1323,2247.5L1324.7,2245.4L1325.5,2242.5L1324.3,2241.7L1321,2242.1L1317.6,2240.8L1316,2238.8L1316.4,2236.3L1315.1,2233.8L1313.5,2232.1L1313.9,2229.6L1311.8,2228.8L1313.5,2225.5L1313.5,2222.1L1315.1,2218.8L1316.8,2216.3L1318.5,2213L1318.5,2209.6L1320.1,2208L1321.8,2208.4L1324.3,2207.1L1324.7,2204.6L1323,2202.5L1321,2203L1319.3,2202.1L1318.9,2198L1319.3,2194.6L1320.1,2191.3L1321,2188L1320.5,2184.7ZM1315.1,2221.3L1318.5,2219.6L1321.8,2220.5L1322.6,2223.8L1322.2,2227.5L1320.1,2229.2L1316.8,2228L1315.6,2224.6ZM1325.5,2217.1L1327.6,2214.6L1329.7,2212.9L1332.6,2212.5L1335.9,2210.4L1338,2211.3L1338.4,2214.6L1337.1,2218.8L1335,2220.8L1335.9,2223.7L1334.2,2226.2L1333,2227.9L1333,2233.8L1331.7,2232.1L1330.9,2228L1329.2,2226.3L1326.8,2224.6L1325.9,2220.5L1325.1,2216.3ZM1325.1,2231.3L1327.6,2232.1L1330.9,2234.2L1331.3,2235.9L1328.8,2236.7L1325.9,2235L1324.7,2232.9ZM1322.2,2230L1323.9,2230L1322.6,2233.8L1321.8,2233.4ZM1356.6,2225.5L1358.3,2225.5L1359.9,2227.5L1359.9,2229.2L1357.5,2228.8L1356.6,2227.1ZM1187.3,2165.6L1190.6,2166.4L1195.6,2166L1199.7,2165.1L1202.2,2164.7L1204.3,2166L1204.7,2168.1L1203.9,2170.6L1201.4,2173.1L1199.3,2175.5L1197.3,2178L1196.4,2180.5L1196.4,2183L1200.2,2182.2L1204.7,2182L1209.7,2182.2L1214.7,2182.6L1215.5,2185.5L1214.3,2188.8L1213,2192.2L1211.8,2196.3L1210.5,2199.7L1208.9,2203L1206.4,2205.5L1208.5,2208L1205.6,2209.6L1203.9,2212.1L1206.4,2211.3L1208.9,2212.1L1212.2,2213.8L1213.8,2216.3L1216.3,2219.6L1217.2,2223.8L1218,2227.9L1219.2,2232.1L1221.3,2236.2L1222.1,2237.1L1225.5,2238.8L1227.1,2242.1L1229.6,2245.4L1229.2,2248.7L1231.3,2252.9L1231.7,2256.2L1233.3,2260.4L1233.8,2263.7L1231.7,2267L1232.9,2268.7L1235.4,2266.2L1238.7,2266.2L1242,2267.4L1244.5,2269.5L1245.8,2272.8L1245.4,2277L1244.5,2281.2L1242.9,2284.5L1240.4,2287.8L1238.7,2290.3L1236.2,2292.8L1237.9,2294.9L1242.9,2294.5L1243.3,2297.8L1241.2,2300.3L1238.7,2302.8L1238.7,2305.7L1191,2305.7L1191.4,2301.9L1193.9,2301.1L1194.8,2298.2L1198.9,2297.8L1203.9,2297.8L1204.7,2295.3L1206.4,2292L1203.1,2294.5L1199.7,2294.9L1197.2,2292.4L1193.9,2292L1193.1,2289.9L1190.6,2289.5L1187.3,2291.5L1185.6,2288.6L1184.8,2284.9L1188.1,2282.8L1192.3,2280.3L1194.8,2277.8L1194.8,2271.2L1193.9,2268.3L1189.4,2269.9L1189.8,2268.7L1192.3,2266.2L1193.1,2263.7L1191,2260.4L1192.3,2258.7L1194.8,2261.2L1197.2,2261.2L1200.6,2260L1203.9,2257.9L1204.3,2254.6L1204.3,2250.4L1205.5,2246.7L1203.9,2247.1L1202.2,2245.4L1200.6,2242.1L1199.3,2238.8L1200.6,2234.6L1201.4,2231.3L1199.7,2232.1L1196.4,2234.6L1193.1,2235.4L1189.8,2234.6L1187.7,2236.3L1185.6,2232.1L1186.5,2229.6L1188.1,2225.5L1189.8,2221.3L1188.1,2218L1186.5,2216.3L1188.1,2215.4L1187.3,2213.8L1186.1,2216.3L1184,2217.9L1183.6,2221.3L1183.1,2224.6L1180.2,2224.6L1181.1,2220.4L1181.5,2216.3L1181.9,2212.1L1182.3,2208.8L1183.1,2205.5L1180.7,2204.6L1179.8,2206.7L1176.9,2206.3L1177.3,2203.4L1176.1,2201.3L1176.9,2198.8L1179.8,2198L1181.1,2194.7L1182.3,2193L1181.5,2190.5L1179,2189.7L1176.9,2188L1174.8,2188L1172.4,2186.8L1174.8,2183.9L1176.5,2183L1178.2,2186.3L1180.2,2187.2L1180.2,2183L1181.1,2178.9L1183.1,2178L1183.6,2175.5L1184.8,2173.1L1186.1,2169.7ZM1174.8,2216.3L1177.3,2214.6L1179.8,2212.1L1181.5,2210.4L1181.9,2212.9L1179.8,2214.6L1177.8,2216.3L1177.3,2218.8L1176.1,2218.8ZM1169.9,2174.7L1171.5,2173.1L1174.8,2169.7L1176.9,2168.5L1177.2,2170.6L1175.7,2174.7L1174.8,2177.2L1172.4,2178.9L1170.3,2180.5L1169.9,2178ZM1165.6,2183L1167.4,2182.9L1169.5,2183.9L1169.2,2184.8L1167,2184.7ZM1166.6,2188L1167.8,2188L1168,2192.2L1166.7,2192.3ZM1165.3,2193.8L1166.6,2193.8L1166.6,2195.1L1165.3,2195.1ZM1189.8,2246.2L1191,2242.9L1192.7,2241.3L1193.1,2243.3L1191.9,2245.8L1190.2,2246.7ZM1167.4,2224.6L1169.9,2226.7L1173.2,2226.3L1176.5,2225.9L1178.2,2228L1178.6,2230.4L1180.7,2233.4L1180.2,2236.3L1182.3,2237.1L1183.1,2239.6L1181.9,2242.5L1179.8,2244.6L1179,2247.1L1176.1,2248.7L1176.5,2252.9L1177.3,2257L1177.3,2261.2L1178.2,2265.4L1177.7,2269.5L1176.9,2273.7L1175.7,2277L1174.8,2277.8L1176.1,2279.9L1172.4,2280.7L1168.2,2281.2L1165.7,2282.8L1163.2,2285.3L1160.7,2287L1158.2,2285.3L1157.8,2288.6L1154.9,2291.1L1152.4,2292.4L1149.1,2292.4L1146.6,2293.2L1146.2,2291.1L1148.3,2289.5L1144.1,2289.9L1145,2287.8L1141.2,2287L1142.5,2284.5L1145.4,2282L1141.6,2280.7L1142.9,2278.7L1145.8,2277.8L1146.2,2275.3L1147.5,2272.8L1152.4,2271.2L1154.9,2271.6L1151.6,2273.3L1147.5,2273.7L1146.6,2272.4L1149.1,2269.5L1149.9,2266.2L1151.6,2263.7L1154.1,2262.9L1153.3,2261.6L1149.1,2261.6L1145.8,2259.5L1143.3,2257L1145.4,2256.2L1145.4,2253.7L1147.9,2251.2L1145,2250.4L1144.1,2248.7L1141.6,2248.3L1144.1,2247.9L1145,2245.4L1143.7,2243.7L1145.8,2242.5L1149.9,2242.5L1152,2243.7L1155.8,2243.3L1157,2240.4L1159.1,2237.9L1157.4,2236.3L1154.9,2235.9L1156.6,2233.8L1158.7,2232.1L1158.2,2230.4L1159.5,2227.1L1163.2,2226.3L1164.9,2225.5L1164.5,2229.6L1166.1,2229.6Z"/>
<path fill="#C6C8C8" d="M1216.9,2132.5L1218.4,2130.9L1220.3,2129.4L1222.6,2126.9L1223.8,2127.1L1223.8,2128.6L1222.6,2130.9L1221.7,2132.8L1221.5,2135.1L1220.9,2137.4L1219.9,2140.1L1218.8,2139.8L1217.3,2137.8L1217.1,2135.9L1217.6,2134.4Z"/>
<path class="ez" d="M1120.8,1931.9L1118.3,1948.5L1115,1965.1L1117.5,1970.1M1117.5,1970.1L1115.8,1975.1L1093.4,1981.7L1070.2,1989.2L1047,1995.9L1030.4,2001.7L1015.4,2008.3L998.8,2018.3L983.1,2030.8L976.4,2043.2L971.4,2059.9L966.5,2082.3L970.6,2091.4L977.3,2104.8L987.2,2116.4L998.8,2126.4L1007.1,2130.6L1023.7,2135.6L1043.6,2141.4L1053.6,2142.8L1076.8,2140.6L1093.4,2133.1L1111.7,2127.3M1117.5,1970.1L1126.6,1971.8L1139.9,1975.9L1151.5,1981.7L1161.4,1990L1169.7,2000L1174.7,2010L1178,2018.3L1181.4,2026.6L1183,2039.1M1183,2039.1L1176.4,2043.2L1159.8,2058.2L1139.9,2078.2L1126.6,2094.8L1118.3,2108.1L1111.7,2126.4L1111.7,2127.3M1111.7,2127.3L1117.5,2138.9L1118,2144.8L1113.3,2145.6L1107.5,2156.4L1104.2,2168L1103.4,2181.3L1105.9,2194.6L1110.8,2198.8L1103.4,2211.3L1096.7,2224.6L1094.2,2237.9L1094.2,2254.5L1093.4,2269.4L1093.4,2286.1L1095.9,2305.2M1117.5,2138.9L1131.6,2141.4L1153.2,2141.8L1168.1,2138.1L1189.7,2134.8L1189.8,2134.8L1201.4,2111.5L1206.4,2103.1L1216.3,2086.5L1226.3,2071.5M1183.1,2039.1L1198.1,2043.2L1209.7,2049.9L1219.6,2056.5L1226.3,2062.4L1226.3,2071.5M1226.3,2071.5L1231.3,2081.5L1237.9,2093.1L1242,2104.8L1246.2,2118M1242,2104.8L1273.6,2104.8M1343.3,1931.9L1352.4,1941.8L1368.2,1948.5L1368.2,1962.6L1299.3,1997.5L1299.3,2016.1L1325,2016.1L1334.1,2007.5L1339.1,2004.2M1242.9,2304.8L1244.5,2303.2L1251.2,2299.4L1257.9,2295.3L1260.4,2294.5L1264.5,2294.5L1267.8,2297.8L1267,2301.1M1246.4,2118.7L1245.2,2119L1234.5,2119.8L1229.5,2121.1L1223,2125.2L1221.5,2127.5L1220.7,2130.5L1221.5,2134.4L1219.9,2141.3L1218.4,2145.9L1220.7,2148.2L1220.7,2151.6L1218,2153.9L1214.6,2153.6L1213.4,2152.8L1213.1,2155.9L1211.9,2158.9L1211.1,2162.8L1208.5,2164.3L1205.8,2165.1L1202.7,2162.8L1201.2,2161.2L1205.8,2160.5L1211.5,2159.3"/>
</g>
<rect class="bd" x="949.5" y="1933.5" width="424" height="372.5"/>
<path class="tk" d="M972.5,2306.4v7.4M1058.3,2306.4v7.4M1144.2,2306.4v7.4M1230,2306.4v7.4M1315.8,2306.4v7.4"/>
<text class="ax" x="972.5" y="2337" text-anchor="middle">30°W</text>
<text class="ax" x="1058.3" y="2337" text-anchor="middle">20°W</text>
<text class="ax" x="1144.2" y="2337" text-anchor="middle">10°W</text>
<text class="ax" x="1230" y="2337" text-anchor="middle">0°</text>
<text class="ax" x="1315.8" y="2337" text-anchor="middle">10°E</text>
<text class="tag" x="-0.5" y="24.8">A</text>
<text class="tag" x="-0.3" y="1422.7">B</text>
<text class="ti" x="728.5" y="32" text-anchor="middle">Recaptures from Celtic Seas experiments</text>
<text class="ti" x="760" y="1428" text-anchor="middle">Recaptures from Icelandic Waters experiments</text>
<text class="lt" x="1422.3" y="222">Count</text><rect x="1422" y="240" width="46.5" height="45.9" fill="#FFE529"/><text class="ll" x="1538.3" y="272.5" text-anchor="end">1</text><rect x="1422" y="286.9" width="46.5" height="45.9" fill="#FFA500"/><text class="ll" x="1538.3" y="319.4" text-anchor="end">2-5</text><rect x="1422" y="333.8" width="46.5" height="45.9" fill="#FF0000"/><text class="ll" x="1538.3" y="366.3" text-anchor="end">6-10</text><rect x="1422" y="380.7" width="46.5" height="45.9" fill="#6B181C"/><text class="ll" x="1538.3" y="413.2" text-anchor="end">&gt;10</text>
<text class="lt" x="1419.4" y="604.6">Median</text><text class="lt" x="1419.4" y="637">release</text><text class="lt" x="1419.4" y="669.4">length</text><rect x="1419.1" y="687.3" width="46.5" height="45.9" fill="#FFE529"/><text class="ll" x="1560.9" y="719.8" text-anchor="end">&lt;35 cm</text><rect x="1419.1" y="734.2" width="46.5" height="45.9" fill="#FFA500"/><text class="ll" x="1560.9" y="766.7" text-anchor="end">35 cm</text><rect x="1419.1" y="781.1" width="46.5" height="45.9" fill="#FF0000"/><text class="ll" x="1560.9" y="813.6" text-anchor="end">36 cm</text><rect x="1419.1" y="828" width="46.5" height="45.9" fill="#6B181C"/><text class="ll" x="1560.9" y="860.5" text-anchor="end">&gt;36 cm</text>
<text class="lt" x="1422" y="1020">Median</text><text class="lt" x="1422" y="1052.4">release</text><text class="lt" x="1422" y="1084.8">latitude</text><rect x="1421.7" y="1103" width="46.5" height="45.9" fill="#FFE529"/><text class="ll" x="1561.8" y="1135.5" text-anchor="end">&lt;52°</text><rect x="1421.7" y="1149.9" width="46.5" height="45.9" fill="#FFA500"/><text class="ll" x="1561.8" y="1182.4" text-anchor="end">52-53°</text><rect x="1421.7" y="1196.8" width="46.5" height="45.9" fill="#FF0000"/><text class="ll" x="1561.8" y="1229.3" text-anchor="end">54-55°</text><rect x="1421.7" y="1243.7" width="46.5" height="45.9" fill="#6B181C"/><text class="ll" x="1561.8" y="1276.2" text-anchor="end">&gt;55°</text>
<text class="lt" x="1422.3" y="1617">Count</text><rect x="1422" y="1635" width="46.5" height="45.9" fill="#FFE529"/><text class="ll" x="1538.3" y="1667.5" text-anchor="end">1</text><rect x="1422" y="1681.9" width="46.5" height="45.9" fill="#FFA500"/><text class="ll" x="1538.3" y="1714.4" text-anchor="end">2-5</text><rect x="1422" y="1728.8" width="46.5" height="45.9" fill="#FF0000"/><text class="ll" x="1538.3" y="1761.3" text-anchor="end">6-10</text><rect x="1422" y="1775.7" width="46.5" height="45.9" fill="#6B181C"/><text class="ll" x="1538.3" y="1808.2" text-anchor="end">&gt;10</text>
<text class="lt" x="1419.4" y="1996.6">Median</text><text class="lt" x="1419.4" y="2029">release</text><text class="lt" x="1419.4" y="2061.4">length</text><rect x="1419.1" y="2080" width="46.5" height="45.9" fill="#FFE529"/><text class="ll" x="1560.9" y="2112.5" text-anchor="end">&lt;35 cm</text><rect x="1419.1" y="2126.9" width="46.5" height="45.9" fill="#FFA500"/><text class="ll" x="1560.9" y="2159.4" text-anchor="end">35 cm</text><rect x="1419.1" y="2173.8" width="46.5" height="45.9" fill="#FF0000"/><text class="ll" x="1560.9" y="2206.3" text-anchor="end">36 cm</text><rect x="1419.1" y="2220.7" width="46.5" height="45.9" fill="#6B181C"/><text class="ll" x="1560.9" y="2253.2" text-anchor="end">&gt;36 cm</text>
</svg></body></html>
